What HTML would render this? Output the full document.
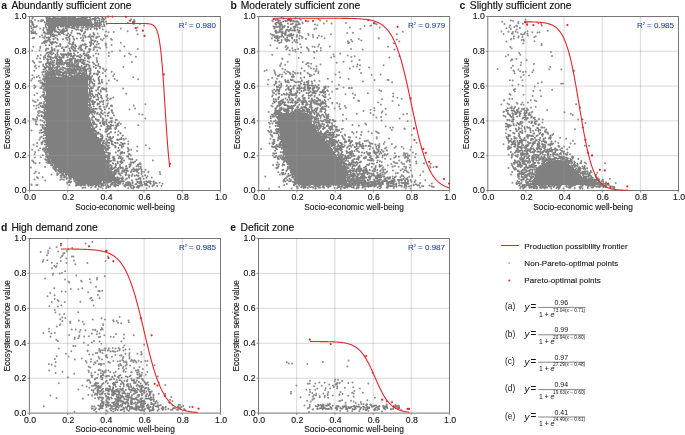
<!DOCTYPE html><html><head><meta charset="utf-8"><style>html,body{margin:0;padding:0;background:#fff;overflow:hidden}svg{display:block;will-change:transform}text{font-family:"Liberation Sans",sans-serif}</style></head><body><svg width="685" height="435" viewBox="0 0 685 435" font-family="Liberation Sans, sans-serif"><rect width="685" height="435" fill="#fff"/><path d="M49 19h40v1h-40zM48 20h41v1h-41zM48 21h41v1h-41zM48 22h41v1h-41zM48 23h41v1h-41zM48 24h41v1h-41zM48 25h40v1h-40zM48 26h9v1h-9zM48 27h7v1h-7zM48 28h6v1h-6zM48 29h6v1h-6zM48 30h6v1h-6zM48 31h5v1h-5zM48 77h38v1h-38zM47 78h40v1h-40zM46 79h42v1h-42zM46 80h42v1h-42zM46 81h42v1h-42zM46 82h42v1h-42zM46 83h42v1h-42zM46 84h42v1h-42zM46 85h42v1h-42zM46 86h42v1h-42zM46 87h42v1h-42zM46 88h42v1h-42zM46 89h42v1h-42zM46 90h42v1h-42zM46 91h42v1h-42zM46 92h42v1h-42zM46 93h42v1h-42zM46 94h42v1h-42zM46 95h42v1h-42zM46 96h42v1h-42zM46 97h42v1h-42zM46 98h42v1h-42zM46 99h42v1h-42zM46 100h42v1h-42zM46 101h42v1h-42zM46 102h42v1h-42zM46 103h42v1h-42zM46 104h42v1h-42zM46 105h42v1h-42zM46 106h42v1h-42zM46 107h42v1h-42zM46 108h42v1h-42zM46 109h42v1h-42zM46 110h42v1h-42zM46 111h42v1h-42zM46 112h42v1h-42zM46 113h42v1h-42zM278 113h30v1h-30zM46 114h42v1h-42zM278 114h31v1h-31zM46 115h42v1h-42zM278 115h31v1h-31zM46 116h42v1h-42zM278 116h31v1h-31zM46 117h42v1h-42zM278 117h31v1h-31zM46 118h42v1h-42zM278 118h32v1h-32zM46 119h42v1h-42zM278 119h32v1h-32zM46 120h43v1h-43zM278 120h33v1h-33zM46 121h43v1h-43zM278 121h33v1h-33zM46 122h43v1h-43zM279 122h33v1h-33zM46 123h44v1h-44zM279 123h33v1h-33zM46 124h44v1h-44zM279 124h34v1h-34zM46 125h45v1h-45zM279 125h35v1h-35zM46 126h45v1h-45zM279 126h35v1h-35zM46 127h45v1h-45zM279 127h36v1h-36zM46 128h46v1h-46zM279 128h36v1h-36zM46 129h46v1h-46zM279 129h37v1h-37zM46 130h47v1h-47zM279 130h38v1h-38zM46 131h48v1h-48zM280 131h37v1h-37zM46 132h48v1h-48zM280 132h38v1h-38zM46 133h49v1h-49zM280 133h39v1h-39zM46 134h50v1h-50zM280 134h40v1h-40zM46 135h50v1h-50zM280 135h41v1h-41zM46 136h51v1h-51zM280 136h42v1h-42zM46 137h52v1h-52zM280 137h43v1h-43zM46 138h53v1h-53zM280 138h44v1h-44zM47 139h52v1h-52zM280 139h44v1h-44zM47 140h53v1h-53zM281 140h44v1h-44zM47 141h53v1h-53zM281 141h45v1h-45zM47 142h54v1h-54zM281 142h46v1h-46zM47 143h54v1h-54zM282 143h46v1h-46zM47 144h55v1h-55zM282 144h47v1h-47zM47 145h55v1h-55zM282 145h48v1h-48zM48 146h55v1h-55zM282 146h48v1h-48zM48 147h55v1h-55zM283 147h48v1h-48zM48 148h56v1h-56zM283 148h49v1h-49zM48 149h56v1h-56zM283 149h50v1h-50zM48 150h56v1h-56zM284 150h49v1h-49zM48 151h57v1h-57zM284 151h50v1h-50zM49 152h56v1h-56zM284 152h51v1h-51zM49 153h56v1h-56zM284 153h51v1h-51zM49 154h56v1h-56zM285 154h51v1h-51zM49 155h56v1h-56zM285 155h52v1h-52zM49 156h57v1h-57zM285 156h52v1h-52zM50 157h56v1h-56zM286 157h52v1h-52zM50 158h56v1h-56zM286 158h52v1h-52zM51 159h55v1h-55zM287 159h52v1h-52zM51 160h56v1h-56zM287 160h52v1h-52zM555 160h6v1h-6zM52 161h55v1h-55zM287 161h53v1h-53zM548 161h15v1h-15zM52 162h55v1h-55zM288 162h52v1h-52zM546 162h19v1h-19zM53 163h54v1h-54zM288 163h53v1h-53zM545 163h22v1h-22zM54 164h54v1h-54zM289 164h52v1h-52zM544 164h25v1h-25zM54 165h54v1h-54zM289 165h53v1h-53zM543 165h27v1h-27zM55 166h53v1h-53zM290 166h52v1h-52zM542 166h29v1h-29zM56 167h52v1h-52zM290 167h52v1h-52zM541 167h31v1h-31zM58 168h51v1h-51zM290 168h53v1h-53zM540 168h33v1h-33zM59 169h50v1h-50zM291 169h52v1h-52zM540 169h34v1h-34zM60 170h50v1h-50zM291 170h53v1h-53zM539 170h36v1h-36zM61 171h49v1h-49zM292 171h52v1h-52zM538 171h38v1h-38zM63 172h48v1h-48zM292 172h52v1h-52zM537 172h40v1h-40zM65 173h47v1h-47zM293 173h52v1h-52zM536 173h42v1h-42zM66 174h47v1h-47zM293 174h52v1h-52zM536 174h43v1h-43zM68 175h46v1h-46zM294 175h52v1h-52zM535 175h46v1h-46zM70 176h45v1h-45zM294 176h52v1h-52zM535 176h47v1h-47zM71 177h45v1h-45zM295 177h51v1h-51zM534 177h50v1h-50zM73 178h43v1h-43zM295 178h51v1h-51zM534 178h52v1h-52zM75 179h42v1h-42zM295 179h51v1h-51zM533 179h55v1h-55zM76 180h42v1h-42zM296 180h51v1h-51zM533 180h58v1h-58zM78 181h24v1h-24zM115 181h2v1h-2zM296 181h51v1h-51zM532 181h61v1h-61zM80 182h20v1h-20zM297 182h50v1h-50zM532 182h63v1h-63zM82 183h17v1h-17zM297 183h49v1h-49zM531 183h66v1h-66zM88 184h10v1h-10zM298 184h48v1h-48zM531 184h67v1h-67z" fill="#808080"/><path d="M32.8 17.6h0M281.5 17.3h0M290.6 18.7h0M295.1 18.6h0M295.5 18.2h0M299.6 18.7h0M35.1 19.9h0M41.6 19.9h0M131.2 19.2h0M134.0 19.9h0M300.8 19.7h0M318.7 19.3h0M525.4 19.8h0M43.2 20.2h0M272.3 20.6h0M320.3 20.4h0M326.9 20.9h0M511.0 20.4h0M513.1 20.9h0M38.4 21.0h0M40.8 21.1h0M42.0 21.1h0M134.8 21.3h0M272.8 21.2h0M307.4 21.4h0M308.3 21.3h0M502.2 21.7h0M127.8 22.7h0M302.4 22.4h0M518.4 22.0h0M526.9 22.8h0M133.5 23.9h0M140.0 23.9h0M302.7 23.2h0M323.8 23.6h0M331.5 23.4h0M346.0 23.1h0M374.9 23.5h0M518.3 23.3h0M522.8 23.8h0M538.4 23.2h0M541.1 23.9h0M315.0 24.4h0M376.6 24.2h0M504.4 24.0h0M144.1 25.6h0M317.3 25.2h0M364.5 26.0h0M370.4 25.7h0M371.1 25.6h0M510.2 25.4h0M516.2 25.4h0M541.8 25.5h0M34.8 26.9h0M36.8 26.0h0M516.9 26.0h0M517.0 26.6h0M36.0 27.0h0M137.5 27.4h0M300.1 27.9h0M349.9 27.6h0M379.7 27.5h0M509.5 27.2h0M514.3 27.1h0M519.9 27.9h0M40.2 28.4h0M120.8 28.6h0M316.2 28.5h0M360.5 28.7h0M506.4 28.3h0M102.8 29.5h0M314.4 29.2h0M510.9 29.1h0M516.6 29.4h0M136.7 30.4h0M547.8 30.7h0M35.2 31.8h0M105.9 31.6h0M127.6 31.3h0M402.8 31.7h0M501.5 31.5h0M508.3 31.7h0M508.6 31.8h0M512.8 31.9h0M515.6 31.4h0M527.5 31.3h0M34.3 32.8h0M108.5 32.3h0M113.7 32.0h0M353.0 32.7h0M517.7 32.4h0M525.1 32.6h0M532.3 32.2h0M537.4 32.5h0M539.5 32.3h0M35.2 33.3h0M36.5 33.8h0M97.7 33.5h0M270.6 33.9h0M308.2 33.7h0M347.2 33.0h0M503.5 34.0h0M511.9 33.5h0M512.8 33.7h0M527.4 33.8h0M137.6 34.2h0M272.3 35.0h0M331.0 34.2h0M396.9 34.2h0M521.0 34.0h0M522.8 34.7h0M524.1 34.0h0M42.2 35.2h0M104.9 35.3h0M107.1 35.9h0M272.9 35.7h0M308.6 35.1h0M312.8 35.1h0M318.9 35.8h0M527.9 35.4h0M39.9 36.8h0M99.1 36.6h0M105.8 36.5h0M301.5 36.6h0M321.8 36.3h0M514.0 36.3h0M513.9 36.4h0M518.8 36.3h0M522.4 36.9h0M535.8 36.3h0M43.0 37.6h0M97.5 37.0h0M302.7 37.6h0M302.2 37.9h0M313.2 37.0h0M317.5 37.9h0M378.8 38.0h0M518.3 37.4h0M534.3 37.2h0M103.8 38.6h0M110.8 38.8h0M272.0 38.4h0M305.9 38.8h0M324.6 38.2h0M378.7 38.5h0M511.2 39.0h0M513.8 38.4h0M100.8 39.3h0M111.9 39.7h0M305.9 39.1h0M351.1 39.7h0M358.8 39.0h0M396.8 39.6h0M510.8 39.5h0M523.4 39.5h0M102.4 40.2h0M361.4 40.5h0M521.6 40.1h0M523.8 40.7h0M44.0 41.7h0M281.5 41.9h0M286.5 41.5h0M287.3 41.1h0M295.9 41.9h0M347.9 41.3h0M352.2 41.5h0M399.3 41.6h0M506.6 41.4h0M534.5 41.2h0M43.6 42.6h0M120.8 42.8h0M279.9 42.8h0M279.1 42.9h0M292.4 42.4h0M297.3 42.4h0M349.3 42.4h0M42.1 43.3h0M98.7 43.7h0M105.4 43.5h0M348.2 43.3h0M393.9 43.3h0M523.3 43.4h0M106.3 44.3h0M111.6 44.9h0M300.2 44.2h0M319.1 44.6h0M541.8 44.1h0M105.7 45.6h0M270.4 45.3h0M286.3 45.7h0M541.4 45.3h0M33.3 46.7h0M40.5 46.7h0M124.2 46.4h0M285.4 47.0h0M312.5 46.6h0M314.8 46.9h0M318.2 46.6h0M329.7 46.4h0M387.9 46.7h0M40.2 48.0h0M96.9 47.3h0M99.1 47.6h0M106.6 47.6h0M287.8 47.6h0M301.2 47.2h0M307.0 47.4h0M320.8 47.9h0M510.3 47.0h0M93.8 48.0h0M100.1 48.3h0M137.8 48.9h0M277.1 48.3h0M287.4 48.5h0M292.3 48.3h0M307.6 48.6h0M511.7 48.5h0M93.9 49.4h0M286.3 49.5h0M295.2 49.8h0M298.1 49.1h0M308.6 49.6h0M351.1 49.0h0M362.7 49.6h0M394.4 49.6h0M32.2 50.4h0M39.6 50.3h0M93.5 50.1h0M97.1 50.6h0M120.0 50.6h0M289.9 50.5h0M292.9 50.5h0M308.6 50.9h0M316.8 51.0h0M320.8 50.6h0M112.0 51.5h0M295.6 51.7h0M313.8 51.8h0M550.9 51.9h0M108.9 52.8h0M301.0 52.5h0M314.4 52.5h0M519.2 52.9h0M95.9 53.6h0M129.1 53.5h0M340.2 53.6h0M98.3 54.1h0M130.8 54.5h0M272.2 54.8h0M289.4 54.5h0M333.4 54.4h0M508.3 54.9h0M520.3 54.8h0M40.7 55.0h0M93.4 55.8h0M108.8 56.0h0M124.6 55.9h0M347.7 55.5h0M37.8 56.0h0M44.0 56.6h0M135.9 56.8h0M334.2 56.4h0M351.4 57.0h0M354.6 56.3h0M399.4 56.2h0M505.8 56.5h0M552.0 56.0h0M43.9 57.2h0M331.2 57.4h0M389.4 57.5h0M36.9 58.6h0M40.2 58.4h0M96.7 58.1h0M282.4 58.9h0M282.1 58.4h0M298.7 58.0h0M314.2 58.0h0M43.9 59.2h0M512.4 59.7h0M512.0 59.2h0M516.4 59.1h0M96.8 60.0h0M359.5 60.1h0M510.8 60.4h0M526.7 60.2h0M32.7 61.1h0M33.4 61.6h0M39.5 61.9h0M41.0 62.0h0M97.0 61.2h0M97.1 61.9h0M287.7 61.7h0M343.5 61.8h0M351.7 61.3h0M131.9 62.1h0M302.8 62.1h0M307.4 62.9h0M336.6 62.7h0M521.2 62.4h0M34.4 63.0h0M281.1 63.4h0M308.5 63.2h0M311.2 63.7h0M43.3 64.4h0M285.2 64.7h0M306.1 64.2h0M320.5 64.5h0M357.5 64.6h0M533.9 64.1h0M35.6 65.6h0M43.1 65.9h0M280.3 65.1h0M280.2 65.9h0M308.4 65.9h0M360.0 65.3h0M383.6 65.2h0M512.9 65.7h0M520.8 65.3h0M34.9 66.4h0M39.1 66.6h0M123.4 67.0h0M308.7 66.6h0M316.3 66.2h0M353.4 66.6h0M356.8 66.4h0M550.3 67.0h0M369.1 67.6h0M511.2 67.8h0M36.2 68.3h0M103.0 68.5h0M282.5 68.8h0M301.7 68.3h0M310.9 68.3h0M313.8 68.8h0M316.6 68.9h0M349.8 68.4h0M43.5 69.5h0M103.7 69.4h0M106.3 69.7h0M266.7 69.9h0M285.4 69.8h0M359.6 69.4h0M497.6 69.0h0M518.3 69.6h0M549.4 69.3h0M561.3 69.4h0M34.3 70.7h0M264.6 71.0h0M274.1 70.5h0M304.4 70.9h0M316.3 70.3h0M513.4 70.6h0M533.4 70.3h0M105.1 71.3h0M111.6 71.8h0M274.9 71.9h0M287.3 71.6h0M293.1 71.7h0M315.5 71.3h0M318.4 71.5h0M514.1 71.3h0M520.1 71.2h0M525.8 71.8h0M42.2 72.6h0M102.8 73.0h0M284.2 72.3h0M288.6 72.1h0M290.0 73.0h0M294.9 72.7h0M297.9 72.9h0M307.6 72.9h0M318.4 72.9h0M339.3 72.2h0M361.0 73.0h0M523.1 72.1h0M532.3 72.3h0M275.1 73.5h0M285.8 73.8h0M289.9 73.3h0M290.6 73.6h0M295.7 73.6h0M300.7 73.1h0M308.0 73.4h0M514.6 73.2h0M42.6 74.8h0M114.3 74.3h0M275.7 74.7h0M279.7 74.4h0M282.1 74.5h0M290.2 74.3h0M292.5 74.8h0M293.2 75.0h0M300.5 74.1h0M309.8 74.4h0M314.1 74.4h0M335.5 74.4h0M371.5 74.9h0M380.6 74.4h0M523.7 74.8h0M32.5 75.2h0M38.6 75.7h0M105.8 75.9h0M113.2 76.0h0M277.7 75.9h0M279.0 75.7h0M311.2 75.3h0M311.6 75.5h0M529.1 75.5h0M34.1 77.5h0M36.9 77.1h0M39.8 77.8h0M133.3 77.2h0M272.1 78.0h0M340.1 77.4h0M520.8 77.3h0M32.3 78.7h0M114.7 78.9h0M277.0 78.8h0M327.9 78.8h0M138.1 79.2h0M268.3 79.7h0M348.7 79.1h0M31.2 80.6h0M38.9 80.9h0M40.7 80.5h0M108.8 80.5h0M117.1 80.6h0M319.5 81.0h0M374.5 80.1h0M387.6 80.1h0M388.4 80.1h0M509.9 80.3h0M512.7 80.6h0M522.5 80.3h0M275.9 81.4h0M332.1 81.8h0M363.0 81.4h0M40.3 82.7h0M41.6 82.8h0M392.1 82.3h0M541.8 82.2h0M106.8 83.5h0M538.0 83.3h0M561.2 83.7h0M563.0 83.5h0M267.9 84.5h0M518.4 84.4h0M34.6 85.7h0M34.2 85.6h0M339.0 85.1h0M512.4 85.4h0M522.8 85.7h0M41.7 86.6h0M328.3 86.7h0M534.7 86.6h0M35.5 87.0h0M40.3 87.9h0M343.5 87.6h0M348.9 87.9h0M351.8 87.9h0M34.3 88.1h0M41.8 88.3h0M123.2 88.5h0M336.3 89.0h0M337.5 88.7h0M349.7 88.0h0M515.0 89.1h0M552.1 89.7h0M272.4 90.8h0M379.4 90.2h0M513.8 90.1h0M533.4 91.0h0M540.2 90.4h0M332.0 91.8h0M381.2 91.0h0M514.9 91.5h0M272.9 92.4h0M37.1 93.3h0M126.2 93.7h0M352.8 93.6h0M367.9 93.2h0M393.1 93.6h0M34.4 94.9h0M329.2 94.6h0M345.5 94.3h0M509.5 94.1h0M510.6 94.7h0M523.5 94.8h0M272.7 95.2h0M355.1 95.1h0M532.7 95.9h0M272.2 96.4h0M393.1 96.6h0M541.0 96.2h0M40.6 97.1h0M113.3 97.5h0M397.5 97.7h0M111.0 98.5h0M330.2 98.2h0M353.8 98.0h0M401.7 98.7h0M110.1 99.2h0M328.2 99.5h0M382.1 99.3h0M509.4 99.1h0M512.2 99.0h0M32.8 100.5h0M37.7 100.3h0M358.1 100.4h0M359.2 100.9h0M392.5 100.9h0M503.8 100.6h0M504.1 100.2h0M530.9 100.3h0M534.9 100.4h0M34.2 101.4h0M35.6 101.9h0M536.4 101.3h0M332.4 102.7h0M337.1 102.9h0M378.0 102.6h0M516.6 102.7h0M522.4 102.4h0M527.9 102.4h0M39.8 103.8h0M39.8 103.0h0M272.8 103.4h0M332.3 103.6h0M507.5 103.6h0M517.5 103.7h0M38.6 104.7h0M145.4 104.2h0M339.6 104.3h0M380.9 104.4h0M501.4 104.6h0M509.1 104.6h0M521.1 104.6h0M523.5 104.7h0M576.1 104.3h0M33.9 105.7h0M36.7 105.8h0M111.4 105.8h0M111.7 105.5h0M133.7 105.6h0M271.3 105.8h0M344.9 106.0h0M398.8 105.2h0M112.2 106.3h0M272.7 106.6h0M328.6 106.9h0M339.1 106.5h0M511.6 106.4h0M535.7 106.8h0M38.7 107.6h0M345.8 107.7h0M531.2 107.4h0M580.2 107.4h0M36.1 108.6h0M135.1 108.5h0M334.6 108.6h0M340.1 109.0h0M345.9 108.0h0M374.3 108.0h0M385.6 108.8h0M527.0 108.4h0M129.5 109.4h0M370.6 109.8h0M527.6 109.5h0M39.8 110.8h0M374.5 110.4h0M547.1 110.1h0M37.9 112.0h0M38.5 111.3h0M363.5 111.0h0M382.4 111.3h0M504.0 111.5h0M532.2 111.8h0M268.7 112.0h0M370.5 112.9h0M381.7 112.8h0M503.4 112.1h0M531.7 112.6h0M564.5 112.2h0M38.9 113.1h0M356.7 113.7h0M407.2 113.8h0M570.9 113.8h0M139.2 114.3h0M142.4 114.6h0M343.0 114.7h0M373.5 114.9h0M385.9 114.6h0M403.3 114.6h0M572.8 114.9h0M37.8 115.0h0M503.7 115.6h0M503.5 115.8h0M39.0 116.1h0M381.1 117.0h0M36.9 117.2h0M376.4 117.6h0M33.0 118.8h0M37.2 118.4h0M145.3 118.5h0M399.6 118.4h0M539.1 119.0h0M33.4 119.4h0M35.0 119.4h0M37.1 119.6h0M116.8 119.9h0M346.4 119.0h0M538.6 119.3h0M542.7 119.4h0M578.1 119.5h0M582.6 119.2h0M40.5 120.0h0M342.8 120.8h0M381.6 120.5h0M407.7 120.9h0M35.5 121.7h0M36.0 121.7h0M36.1 121.3h0M335.4 121.1h0M119.2 122.6h0M269.0 122.7h0M542.4 122.6h0M35.8 123.9h0M117.8 123.8h0M120.8 123.9h0M269.9 123.7h0M365.4 123.6h0M585.4 123.1h0M37.0 124.8h0M40.6 124.7h0M366.2 124.4h0M118.4 125.3h0M138.2 125.2h0M352.5 125.1h0M358.9 125.8h0M385.7 126.4h0M125.1 127.8h0M269.7 127.1h0M390.2 127.7h0M392.9 127.5h0M544.4 127.6h0M341.8 128.9h0M342.8 128.7h0M404.8 128.9h0M404.3 128.4h0M339.2 129.7h0M546.2 129.6h0M575.0 129.3h0M31.5 130.4h0M40.2 130.4h0M268.2 130.8h0M391.8 130.0h0M269.0 131.8h0M269.8 131.8h0M352.1 131.9h0M368.5 131.6h0M376.1 131.6h0M39.7 132.7h0M340.8 132.3h0M356.7 132.1h0M361.6 132.1h0M377.5 132.5h0M378.8 132.9h0M353.6 133.4h0M371.8 133.2h0M505.8 133.3h0M553.2 133.9h0M270.7 134.2h0M344.7 134.6h0M122.6 135.8h0M123.0 135.6h0M271.4 135.3h0M342.0 135.7h0M345.2 135.5h0M361.0 135.0h0M411.7 135.1h0M552.3 135.0h0M342.9 137.0h0M348.8 137.0h0M40.2 137.9h0M40.4 137.4h0M350.3 137.6h0M356.3 137.3h0M376.8 137.2h0M560.1 137.8h0M125.8 138.5h0M270.4 138.7h0M359.9 138.4h0M376.7 138.6h0M389.0 138.4h0M566.1 138.7h0M39.5 139.7h0M123.6 139.1h0M124.0 139.8h0M364.7 141.0h0M366.3 141.0h0M367.9 140.4h0M572.9 140.7h0M128.2 141.5h0M41.6 142.5h0M369.3 142.3h0M384.6 142.0h0M416.6 142.7h0M558.3 142.9h0M37.2 143.0h0M41.5 143.3h0M128.3 143.9h0M269.4 143.6h0M570.6 143.6h0M574.9 143.8h0M33.6 144.8h0M41.7 144.2h0M379.5 144.1h0M383.7 144.1h0M391.9 144.1h0M503.5 144.3h0M145.8 145.2h0M584.8 145.8h0M589.1 145.7h0M37.0 146.2h0M137.3 146.4h0M395.9 146.6h0M401.7 146.8h0M564.2 146.6h0M386.3 147.5h0M394.6 147.7h0M411.3 147.1h0M569.3 147.2h0M40.2 148.3h0M149.5 148.6h0M385.0 148.5h0M403.5 148.4h0M32.1 149.8h0M42.8 149.6h0M131.2 149.8h0M261.1 149.1h0M381.8 150.0h0M410.4 149.8h0M508.0 149.5h0M508.2 149.0h0M567.3 149.4h0M567.1 149.3h0M38.5 150.2h0M386.7 150.3h0M387.0 150.8h0M137.1 151.0h0M383.6 151.3h0M383.1 151.8h0M35.1 152.1h0M404.0 152.9h0M412.9 152.4h0M273.2 153.2h0M381.3 153.3h0M384.8 153.9h0M387.6 153.9h0M394.9 153.2h0M405.3 153.7h0M407.2 153.6h0M34.7 154.0h0M404.3 154.3h0M405.1 154.6h0M407.7 154.1h0M415.9 154.0h0M508.6 154.7h0M42.8 155.3h0M273.0 155.6h0M382.8 155.6h0M384.2 155.6h0M386.2 155.3h0M403.4 155.4h0M407.7 156.0h0M409.0 155.8h0M409.7 155.4h0M396.1 156.0h0M399.0 156.7h0M405.4 156.1h0M406.4 156.9h0M34.9 157.5h0M40.7 157.2h0M274.2 157.3h0M382.3 157.5h0M394.1 157.8h0M395.4 157.1h0M405.2 157.3h0M408.0 157.9h0M415.1 157.3h0M385.1 158.8h0M404.8 158.0h0M408.1 158.6h0M390.6 159.1h0M409.8 159.9h0M32.3 160.5h0M136.6 160.1h0M152.9 160.6h0M399.2 160.6h0M407.3 160.4h0M409.2 160.8h0M33.0 161.3h0M381.7 161.9h0M393.7 161.8h0M406.7 161.7h0M409.8 161.7h0M416.2 161.6h0M33.9 162.5h0M46.4 162.3h0M394.3 162.5h0M401.5 162.5h0M584.8 162.5h0M35.5 163.2h0M39.6 163.0h0M140.1 163.0h0M140.8 163.9h0M396.0 163.0h0M397.2 163.3h0M402.3 163.7h0M416.4 163.5h0M423.9 163.3h0M424.2 163.6h0M430.7 163.7h0M511.5 163.8h0M586.1 163.4h0M605.1 163.2h0M139.4 164.1h0M273.1 164.9h0M391.4 164.1h0M404.1 164.0h0M381.9 165.4h0M387.7 165.4h0M394.9 165.9h0M410.3 165.1h0M140.8 166.4h0M392.4 166.8h0M392.9 166.4h0M398.6 166.7h0M404.2 166.5h0M406.2 167.0h0M429.8 166.1h0M31.0 167.4h0M45.1 167.1h0M276.4 167.7h0M383.3 167.6h0M409.8 167.5h0M430.6 167.5h0M433.5 167.0h0M508.5 167.9h0M276.4 168.5h0M382.3 168.8h0M402.5 168.9h0M405.6 168.3h0M145.5 169.8h0M382.3 169.0h0M383.1 169.7h0M385.0 169.6h0M404.6 170.0h0M383.3 170.5h0M392.9 170.6h0M400.7 170.3h0M406.1 170.4h0M410.9 170.5h0M35.7 171.7h0M144.1 171.7h0M148.6 171.8h0M159.9 171.9h0M387.0 171.8h0M387.1 171.4h0M403.7 172.0h0M406.9 171.2h0M423.2 171.4h0M148.4 172.3h0M278.2 172.2h0M382.3 172.6h0M383.5 172.2h0M385.7 172.8h0M407.7 172.0h0M408.5 172.6h0M512.2 172.1h0M597.2 172.7h0M34.6 173.3h0M39.1 173.1h0M384.6 173.8h0M395.8 173.2h0M397.8 173.1h0M51.5 174.4h0M160.2 174.1h0M279.9 174.4h0M511.2 174.4h0M401.8 175.2h0M403.2 175.9h0M411.9 175.2h0M420.2 175.2h0M147.4 176.2h0M265.3 176.5h0M392.7 176.5h0M395.9 176.4h0M395.6 176.7h0M400.9 176.5h0M409.3 176.7h0M412.4 176.8h0M37.0 177.3h0M42.6 177.2h0M60.7 177.6h0M60.8 177.2h0M61.8 177.1h0M151.8 177.4h0M400.4 177.1h0M404.5 177.4h0M407.5 177.9h0M38.0 178.3h0M609.9 178.7h0M34.5 179.4h0M60.2 179.8h0M62.0 179.3h0M63.9 179.8h0M45.1 180.6h0M415.5 180.6h0M425.3 180.2h0M153.7 181.3h0M283.7 181.4h0M66.9 182.6h0M155.4 182.8h0M159.6 182.7h0M512.4 182.8h0M67.4 183.6h0M162.5 183.7h0M420.0 183.6h0M420.3 183.0h0M431.8 183.4h0M615.7 183.1h0M31.4 184.6h0M37.5 184.9h0M69.2 184.9h0M284.1 184.9h0M516.5 184.1h0M31.7 185.1h0M36.3 185.0h0M422.0 185.9h0M429.3 185.5h0M279.1 187.0h0M423.2 186.2h0M431.4 186.3h0M432.3 186.8h0M82.4 187.9h0M83.7 187.4h0M420.1 187.6h0M433.9 187.0h0M97.9 188.9h0M102.5 188.5h0M106.2 188.1h0M128.3 188.2h0M133.2 188.6h0M146.5 188.4h0M269.1 188.4h0M291.6 188.6h0M297.5 188.3h0M356.3 188.6h0M365.2 188.9h0M380.0 188.5h0M387.3 188.0h0M405.8 188.6h0M410.7 188.5h0M520.3 188.2h0M523.3 188.1h0M523.1 188.7h0M613.5 188.5h0M92.4 242.0h0M85.6 243.5h0M60.9 245.4h0M56.6 247.3h0M72.2 247.9h0M49.7 248.3h0M68.2 249.2h0M48.2 250.8h0M40.7 251.9h0M58.1 251.5h0M66.8 251.1h0M48.1 252.9h0M63.3 253.6h0M64.5 253.1h0M47.0 255.2h0M62.6 255.3h0M62.1 256.0h0M71.8 256.6h0M73.4 256.4h0M108.1 256.6h0M60.7 257.6h0M66.5 258.6h0M43.3 260.1h0M47.3 260.3h0M73.9 260.4h0M42.8 261.7h0M60.8 261.1h0M105.6 261.0h0M51.8 262.7h0M57.1 263.6h0M66.4 263.0h0M87.4 263.1h0M75.4 264.2h0M54.4 266.0h0M56.6 266.3h0M56.0 267.0h0M52.0 268.3h0M65.1 271.3h0M62.0 273.0h0M53.2 273.8h0M59.8 273.4h0M52.8 274.8h0M76.3 275.6h0M104.8 276.3h0M97.1 277.9h0M45.0 278.6h0M65.0 279.6h0M89.8 279.2h0M96.8 279.4h0M81.1 280.7h0M68.7 281.8h0M81.8 281.6h0M69.3 282.4h0M90.7 282.6h0M96.0 286.8h0M54.3 288.2h0M70.8 288.9h0M82.4 288.2h0M78.3 289.2h0M99.2 290.8h0M102.3 290.8h0M61.7 291.6h0M65.6 291.8h0M98.4 291.1h0M99.8 291.3h0M50.2 293.0h0M88.2 292.2h0M54.6 295.2h0M97.9 295.0h0M47.5 296.2h0M91.4 297.7h0M54.6 298.9h0M90.2 298.5h0M99.7 298.3h0M57.6 300.1h0M92.0 300.6h0M92.7 300.3h0M51.8 301.9h0M58.6 301.2h0M80.4 301.8h0M64.8 302.1h0M61.3 305.3h0M93.6 305.6h0M49.4 306.3h0M57.8 306.4h0M54.8 310.0h0M55.4 312.5h0M78.2 312.3h0M59.6 314.4h0M64.2 314.1h0M119.6 316.8h0M62.3 317.6h0M65.3 317.9h0M101.5 318.2h0M60.3 319.3h0M92.8 319.5h0M105.0 319.5h0M62.4 320.9h0M78.9 320.6h0M113.2 320.2h0M116.8 321.0h0M128.5 320.6h0M70.2 321.6h0M82.7 321.7h0M113.8 321.6h0M118.0 322.7h0M129.0 322.2h0M70.2 323.1h0M121.1 323.2h0M60.5 324.3h0M84.0 324.3h0M103.2 324.3h0M59.9 325.0h0M103.2 325.1h0M56.8 326.5h0M49.1 328.7h0M101.7 328.1h0M71.7 329.5h0M75.7 329.5h0M80.5 329.9h0M93.0 329.8h0M95.4 329.7h0M100.9 329.7h0M102.7 329.4h0M85.4 330.2h0M95.1 330.2h0M49.0 331.5h0M97.2 331.5h0M43.4 332.9h0M54.8 332.7h0M79.5 332.0h0M51.3 333.4h0M91.9 333.6h0M99.6 333.4h0M69.2 335.0h0M96.8 334.3h0M115.9 334.0h0M123.9 334.5h0M79.3 335.4h0M104.3 335.3h0M133.8 335.3h0M50.5 336.8h0M79.2 336.5h0M84.1 336.4h0M88.8 336.2h0M98.7 336.9h0M100.2 336.7h0M110.7 336.7h0M74.9 337.4h0M113.7 337.1h0M74.5 338.9h0M78.2 338.3h0M124.0 338.4h0M56.3 339.7h0M57.9 341.1h0M94.0 341.1h0M99.6 341.5h0M121.4 341.6h0M83.9 342.7h0M92.0 342.4h0M101.2 343.8h0M88.1 344.9h0M144.2 344.7h0M73.3 345.9h0M124.5 345.4h0M75.4 346.1h0M112.6 348.0h0M123.0 347.5h0M58.8 348.4h0M104.7 348.5h0M105.7 348.6h0M108.9 348.2h0M115.6 348.5h0M118.6 348.1h0M99.3 349.1h0M119.7 349.0h0M125.5 349.4h0M129.5 349.3h0M87.7 350.4h0M99.3 350.8h0M100.9 350.2h0M102.9 350.3h0M105.1 350.4h0M107.7 350.5h0M108.8 350.3h0M117.5 350.9h0M119.6 350.2h0M123.5 350.4h0M71.3 351.2h0M87.6 351.2h0M100.3 352.0h0M110.6 351.4h0M112.6 351.1h0M114.1 351.4h0M115.2 351.7h0M141.3 352.1h0M65.9 353.7h0M95.8 353.0h0M97.4 353.0h0M102.5 353.0h0M125.5 353.7h0M129.5 353.3h0M137.5 353.7h0M89.2 354.6h0M92.8 354.6h0M115.5 354.9h0M129.3 354.9h0M141.8 354.1h0M141.1 354.4h0M105.6 355.8h0M106.6 355.1h0M106.1 355.5h0M120.1 355.6h0M121.6 355.4h0M121.5 355.3h0M56.7 356.2h0M68.4 356.4h0M98.5 357.0h0M106.3 356.9h0M112.0 356.8h0M107.4 357.4h0M122.8 357.9h0M123.4 357.0h0M129.4 357.0h0M81.7 358.5h0M99.4 358.5h0M122.9 358.3h0M129.6 358.7h0M54.9 359.1h0M74.7 359.5h0M91.1 359.3h0M102.1 359.6h0M85.8 360.9h0M97.3 360.8h0M122.3 360.0h0M130.9 360.9h0M131.9 360.0h0M134.4 360.2h0M135.2 360.8h0M138.6 360.8h0M348.5 360.5h0M90.8 361.8h0M108.3 361.9h0M113.4 361.1h0M117.8 361.4h0M120.1 361.0h0M123.4 361.0h0M126.0 361.4h0M133.1 361.1h0M133.4 362.0h0M136.2 362.0h0M141.1 361.9h0M145.3 361.1h0M147.6 361.1h0M322.8 361.9h0M55.6 362.2h0M86.6 362.6h0M95.1 362.3h0M110.0 362.8h0M109.2 362.6h0M124.0 362.0h0M125.8 362.1h0M126.6 362.5h0M136.4 362.5h0M286.9 362.3h0M48.8 363.9h0M95.6 363.1h0M99.1 364.0h0M101.8 364.0h0M104.0 363.7h0M120.3 363.7h0M288.8 363.6h0M292.1 363.5h0M307.3 363.9h0M51.7 364.6h0M93.8 364.2h0M98.7 364.2h0M100.4 364.1h0M126.9 364.5h0M101.0 365.1h0M118.9 365.9h0M118.5 365.1h0M120.7 365.1h0M121.4 365.2h0M125.5 365.7h0M126.3 365.0h0M130.1 365.4h0M146.9 365.3h0M154.4 365.3h0M55.3 366.2h0M88.7 366.7h0M123.4 366.7h0M347.4 366.6h0M90.4 367.4h0M122.9 367.9h0M134.1 367.9h0M139.5 367.1h0M118.7 368.8h0M126.3 368.4h0M142.8 368.9h0M99.3 369.8h0M124.0 369.9h0M138.5 369.9h0M49.2 370.5h0M88.5 370.4h0M98.6 370.1h0M100.4 370.5h0M105.9 370.4h0M108.4 370.6h0M123.8 370.4h0M135.7 370.4h0M136.2 370.5h0M137.6 370.3h0M62.5 371.8h0M102.4 371.0h0M103.1 371.6h0M104.6 371.6h0M105.0 371.8h0M115.8 371.8h0M123.5 371.7h0M125.8 371.8h0M138.8 371.9h0M88.9 372.1h0M95.1 372.2h0M103.8 372.8h0M105.5 372.2h0M110.2 372.1h0M113.8 372.7h0M131.8 372.3h0M131.2 372.3h0M142.1 372.8h0M147.3 372.1h0M55.6 373.1h0M74.2 373.7h0M91.4 373.3h0M100.9 373.3h0M372.6 373.1h0M98.0 374.4h0M102.9 374.1h0M145.7 374.8h0M91.3 375.6h0M92.5 375.4h0M91.9 376.9h0M157.8 376.5h0M67.8 377.3h0M88.1 379.9h0M94.8 379.3h0M335.3 379.4h0M338.0 379.8h0M87.1 380.8h0M89.3 380.3h0M310.0 380.8h0M90.0 381.9h0M334.6 381.3h0M342.1 381.0h0M147.9 382.2h0M147.4 382.7h0M158.9 382.6h0M319.4 382.6h0M324.7 382.8h0M337.6 382.9h0M339.7 382.9h0M352.5 382.5h0M58.7 383.2h0M90.4 383.1h0M94.7 383.9h0M146.2 383.5h0M307.9 383.8h0M309.6 383.4h0M315.3 383.6h0M336.1 383.7h0M337.0 383.2h0M348.3 383.1h0M368.3 383.6h0M329.2 384.4h0M335.4 384.7h0M336.9 384.8h0M82.3 385.6h0M91.8 385.7h0M93.1 385.8h0M148.4 385.0h0M165.3 385.0h0M296.4 385.4h0M321.7 385.7h0M333.0 385.5h0M86.6 386.5h0M314.1 386.2h0M337.3 386.8h0M89.4 387.8h0M334.0 387.1h0M344.9 387.7h0M353.3 387.2h0M317.3 388.5h0M325.7 388.3h0M330.1 388.6h0M337.1 388.4h0M359.8 388.6h0M78.4 389.4h0M306.3 389.8h0M309.9 389.8h0M315.2 389.8h0M91.7 390.1h0M93.7 390.1h0M93.2 390.5h0M325.0 390.3h0M354.3 391.0h0M291.1 391.7h0M340.5 392.0h0M93.7 392.2h0M310.1 392.1h0M328.2 392.0h0M352.1 392.8h0M362.9 392.7h0M158.8 393.7h0M290.9 393.4h0M312.4 393.1h0M316.2 393.7h0M323.3 393.5h0M327.8 393.8h0M353.8 393.5h0M88.3 394.9h0M94.8 394.8h0M94.7 394.5h0M153.3 394.5h0M165.2 394.1h0M309.4 394.8h0M314.1 394.9h0M339.7 394.3h0M342.6 394.0h0M50.3 395.5h0M92.1 395.3h0M92.0 395.8h0M315.9 395.5h0M324.9 395.7h0M327.7 395.1h0M332.8 395.4h0M339.4 395.1h0M348.3 395.8h0M312.8 396.4h0M319.7 396.1h0M353.6 396.6h0M353.8 396.8h0M171.3 397.0h0M300.5 397.2h0M319.6 397.3h0M324.7 397.2h0M328.2 397.7h0M374.9 397.7h0M56.5 398.1h0M82.8 398.4h0M95.1 398.3h0M313.4 398.8h0M314.2 398.5h0M98.8 399.1h0M170.1 399.7h0M312.5 399.7h0M156.6 400.9h0M307.1 400.8h0M340.3 400.8h0M342.2 400.3h0M351.0 400.7h0M367.4 400.3h0M172.4 401.1h0M310.8 401.6h0M339.4 401.2h0M353.7 401.5h0M157.6 402.8h0M345.6 402.8h0M360.8 402.0h0M329.8 403.8h0M355.7 403.1h0M361.3 403.9h0M178.9 404.8h0M180.2 404.9h0M309.8 405.0h0M318.1 404.7h0M320.2 405.0h0M322.4 404.4h0M323.7 405.0h0M327.9 404.2h0M329.8 404.5h0M358.7 404.8h0M363.6 404.1h0M366.6 404.2h0M366.9 404.3h0M367.1 404.4h0M370.2 404.4h0M386.6 404.4h0M172.4 405.6h0M304.5 405.5h0M398.6 405.7h0M43.8 406.3h0M189.6 406.9h0M309.8 406.8h0M308.8 408.0h0M307.6 408.2h0M170.8 409.9h0M172.4 409.8h0M176.8 409.4h0M178.0 409.9h0M184.1 409.1h0M185.2 409.9h0M312.5 409.4h0M313.1 409.3h0M340.2 410.8h0M347.5 410.9h0M352.2 411.0h0M366.1 410.2h0M368.4 410.7h0M374.9 410.3h0M377.3 410.0h0M401.3 410.1h0M74.4 411.7h0M96.2 411.9h0M107.6 411.6h0M113.3 411.6h0M124.2 411.2h0M309.0 411.9h0M359.3 411.1h0M382.0 411.5h0" stroke="#8e8e8e" stroke-width="2.0" stroke-linecap="round" fill="none"/><path d="M46.2 17.4h0M46.2 17.8h0M47.8 17.9h0M49.4 18.0h0M53.2 17.6h0M53.3 17.1h0M58.1 17.1h0M62.0 17.9h0M63.7 17.5h0M64.8 17.6h0M65.6 17.9h0M68.7 17.7h0M69.9 17.8h0M73.8 17.6h0M74.0 17.4h0M74.8 17.1h0M75.1 17.5h0M81.6 17.1h0M82.3 17.5h0M83.1 17.5h0M83.0 17.1h0M84.9 17.5h0M84.6 17.3h0M84.6 18.0h0M87.1 17.3h0M89.5 17.3h0M95.5 17.0h0M98.0 17.7h0M102.3 17.6h0M105.6 17.0h0M32.3 18.6h0M46.7 18.4h0M48.0 18.4h0M50.7 18.3h0M51.4 18.9h0M51.1 18.9h0M52.2 18.9h0M53.4 18.9h0M54.3 18.9h0M54.8 19.0h0M54.6 18.1h0M55.7 18.0h0M55.3 18.8h0M56.1 19.0h0M56.7 18.8h0M57.7 18.7h0M57.8 18.6h0M58.5 18.9h0M60.0 18.2h0M60.0 19.0h0M60.4 18.6h0M61.6 18.6h0M61.1 18.2h0M62.0 18.4h0M63.6 18.1h0M64.5 18.3h0M66.0 18.4h0M66.3 18.1h0M67.5 18.5h0M68.9 18.9h0M71.0 18.5h0M71.1 18.3h0M72.2 18.1h0M73.2 18.7h0M74.0 18.8h0M74.7 18.9h0M75.0 18.3h0M76.2 18.9h0M77.3 18.6h0M78.8 18.3h0M79.7 18.8h0M80.9 18.2h0M81.4 18.1h0M81.5 18.0h0M82.2 18.5h0M84.7 18.2h0M84.2 18.2h0M85.3 18.3h0M85.7 18.8h0M86.6 18.4h0M90.2 18.0h0M94.0 18.7h0M94.6 18.4h0M96.1 18.6h0M99.3 18.8h0M103.1 18.4h0M105.4 18.6h0M283.5 18.6h0M47.6 19.9h0M48.4 19.2h0M49.0 19.2h0M90.0 19.7h0M90.2 19.7h0M90.3 19.2h0M90.5 19.3h0M92.9 19.1h0M92.5 19.5h0M93.2 19.1h0M95.4 19.7h0M101.7 19.2h0M103.9 19.7h0M277.3 19.8h0M287.5 19.7h0M291.5 19.4h0M31.1 20.7h0M46.8 21.0h0M47.9 20.9h0M47.2 20.6h0M47.0 20.1h0M89.1 20.0h0M94.9 20.3h0M97.4 20.8h0M99.5 20.5h0M103.4 20.9h0M275.7 20.0h0M278.6 20.9h0M278.6 20.3h0M279.8 20.4h0M285.2 20.7h0M287.2 20.8h0M288.4 20.1h0M288.4 20.2h0M291.3 20.5h0M293.4 20.7h0M31.2 21.9h0M32.5 21.9h0M89.0 21.9h0M90.5 21.9h0M90.8 21.2h0M95.0 21.0h0M101.6 21.5h0M102.7 21.3h0M106.1 21.7h0M283.1 21.6h0M285.8 21.3h0M290.7 21.2h0M293.3 21.5h0M295.1 21.4h0M296.2 21.8h0M297.2 21.2h0M44.6 22.2h0M46.8 22.2h0M46.5 22.9h0M89.7 22.6h0M89.2 22.4h0M90.5 22.0h0M91.3 22.6h0M95.4 22.2h0M97.3 22.5h0M99.7 22.3h0M100.3 22.9h0M100.7 23.0h0M103.7 22.5h0M276.9 22.4h0M278.1 22.4h0M280.0 22.9h0M281.0 22.6h0M298.5 22.4h0M32.7 23.5h0M32.3 24.0h0M46.4 23.1h0M47.3 23.7h0M90.4 23.7h0M90.9 23.7h0M94.8 23.2h0M95.5 23.8h0M98.1 23.2h0M106.9 23.8h0M275.3 23.2h0M278.9 23.3h0M279.0 23.6h0M279.2 23.6h0M287.9 23.4h0M292.7 23.8h0M292.4 23.8h0M299.0 23.7h0M33.4 24.7h0M45.7 24.4h0M47.9 24.9h0M89.1 24.8h0M90.6 24.2h0M91.2 24.9h0M92.6 24.2h0M93.1 24.6h0M95.5 24.6h0M96.7 24.0h0M97.1 24.6h0M99.5 24.0h0M101.0 24.5h0M100.2 24.7h0M104.1 24.6h0M275.5 24.2h0M276.2 24.7h0M279.8 24.5h0M280.7 24.3h0M281.1 24.4h0M281.6 24.3h0M291.0 24.2h0M296.0 24.2h0M297.0 24.9h0M297.6 24.8h0M299.8 24.3h0M33.3 25.6h0M88.2 25.0h0M89.0 25.2h0M89.5 25.6h0M89.6 25.3h0M91.8 25.1h0M92.2 25.6h0M94.9 25.3h0M95.2 25.1h0M95.9 25.8h0M97.7 25.8h0M99.2 25.7h0M104.3 26.0h0M280.2 26.0h0M282.5 25.9h0M296.6 25.5h0M31.0 26.3h0M45.7 26.1h0M57.9 26.8h0M60.5 26.4h0M61.4 26.3h0M61.5 26.5h0M62.1 26.1h0M63.3 26.3h0M65.5 26.8h0M67.2 26.3h0M69.1 26.5h0M72.5 26.9h0M73.5 26.2h0M74.0 26.9h0M74.3 26.9h0M76.3 26.6h0M76.1 26.1h0M77.7 26.2h0M78.7 26.3h0M83.3 26.1h0M86.0 26.9h0M86.1 26.6h0M86.8 26.5h0M88.4 26.9h0M90.5 26.5h0M92.5 26.4h0M94.2 27.0h0M96.2 26.7h0M98.5 26.1h0M99.5 26.2h0M99.8 26.0h0M102.3 26.4h0M273.4 26.5h0M276.0 26.9h0M278.6 26.4h0M282.4 26.9h0M283.3 26.8h0M284.8 26.1h0M294.9 26.5h0M295.3 27.0h0M295.5 26.0h0M33.6 27.6h0M46.3 27.6h0M57.9 27.2h0M65.7 27.9h0M67.4 27.5h0M69.0 27.5h0M71.2 27.4h0M71.2 27.8h0M71.2 27.2h0M72.6 27.7h0M73.0 27.9h0M74.0 27.8h0M74.2 27.9h0M77.3 27.8h0M78.4 27.3h0M81.4 27.3h0M82.0 27.8h0M83.5 27.5h0M83.2 27.7h0M88.6 27.6h0M91.7 27.3h0M99.1 27.0h0M274.3 27.1h0M277.1 27.2h0M280.0 27.8h0M284.0 27.1h0M287.9 27.0h0M288.3 27.1h0M293.6 27.0h0M297.7 27.5h0M31.5 28.3h0M43.7 28.0h0M55.0 28.6h0M55.4 28.1h0M63.5 28.4h0M66.3 28.4h0M74.3 28.5h0M87.6 28.5h0M90.7 29.0h0M94.7 28.7h0M96.8 28.5h0M99.9 28.1h0M274.4 28.5h0M282.3 28.7h0M282.5 28.0h0M290.9 28.2h0M294.4 28.8h0M47.1 29.2h0M54.2 29.6h0M58.2 29.1h0M59.6 29.8h0M62.4 29.9h0M63.9 29.9h0M66.9 29.0h0M66.6 29.8h0M76.0 29.4h0M76.3 29.8h0M78.2 29.6h0M81.8 30.0h0M85.7 29.4h0M87.6 29.5h0M96.9 29.5h0M280.2 29.7h0M281.6 29.4h0M281.7 29.0h0M281.9 29.4h0M287.2 29.5h0M287.9 29.9h0M289.8 29.9h0M294.4 29.8h0M297.8 29.9h0M32.9 30.0h0M43.3 30.0h0M47.3 30.6h0M54.2 30.9h0M55.3 30.9h0M55.7 30.5h0M61.6 30.7h0M61.6 30.5h0M63.9 30.6h0M64.3 30.8h0M65.7 31.0h0M66.7 30.0h0M67.0 30.5h0M72.1 30.8h0M80.5 30.1h0M81.4 30.8h0M82.2 30.5h0M275.6 30.5h0M279.5 30.3h0M286.3 30.1h0M290.7 30.1h0M292.5 30.6h0M294.2 30.5h0M295.2 30.4h0M299.6 30.8h0M31.3 31.3h0M44.5 32.0h0M54.8 31.7h0M54.3 31.3h0M57.0 31.8h0M60.5 31.9h0M61.9 31.1h0M63.8 31.8h0M63.2 31.8h0M81.7 31.2h0M85.1 31.7h0M276.0 32.0h0M275.4 31.3h0M276.4 31.1h0M280.1 31.6h0M282.6 31.7h0M285.6 31.6h0M286.0 32.0h0M288.7 31.3h0M31.5 32.4h0M33.2 32.3h0M43.9 32.5h0M47.6 32.6h0M48.0 32.8h0M47.7 32.4h0M48.3 32.8h0M49.2 32.5h0M49.4 32.2h0M50.2 32.3h0M50.4 32.6h0M51.8 32.2h0M52.0 32.4h0M57.7 32.0h0M57.2 32.1h0M58.7 32.6h0M59.8 32.4h0M71.4 32.7h0M84.7 32.8h0M276.1 33.0h0M277.7 32.4h0M279.3 32.1h0M281.8 32.9h0M281.3 32.2h0M298.5 32.0h0M299.5 32.8h0M31.8 33.3h0M33.3 33.2h0M45.3 33.7h0M45.4 33.6h0M47.1 33.8h0M48.9 34.0h0M50.7 33.6h0M50.5 33.8h0M50.1 33.5h0M51.3 33.1h0M51.5 33.4h0M59.4 33.7h0M62.0 33.1h0M63.0 33.2h0M68.0 33.4h0M77.4 33.5h0M79.1 33.5h0M83.7 33.7h0M93.4 33.0h0M282.6 33.1h0M284.5 33.2h0M291.3 33.8h0M52.8 34.9h0M53.4 34.5h0M53.2 34.6h0M54.1 35.0h0M58.8 34.3h0M59.9 34.6h0M63.9 34.2h0M69.9 35.0h0M70.6 34.9h0M80.3 34.2h0M90.0 34.8h0M94.4 34.7h0M94.0 34.2h0M274.0 34.9h0M281.8 34.4h0M285.8 34.1h0M289.6 34.6h0M291.2 34.1h0M293.5 34.6h0M293.5 34.5h0M50.9 35.3h0M55.0 35.2h0M56.9 35.5h0M66.4 35.2h0M67.3 35.0h0M82.6 35.8h0M84.8 35.7h0M276.2 35.9h0M282.1 35.6h0M285.1 35.0h0M287.9 35.5h0M287.4 35.8h0M288.2 35.2h0M289.1 35.6h0M291.4 35.7h0M292.6 35.5h0M297.0 35.2h0M299.6 35.8h0M45.1 36.3h0M50.6 36.6h0M52.9 36.3h0M54.0 36.2h0M69.1 36.7h0M72.8 36.6h0M88.9 36.5h0M88.3 36.7h0M92.9 36.6h0M92.1 36.3h0M93.4 36.8h0M277.6 36.1h0M279.8 36.8h0M281.3 36.6h0M283.5 36.9h0M289.7 36.1h0M296.7 36.8h0M34.0 37.8h0M44.5 37.9h0M46.8 37.8h0M48.2 37.5h0M48.3 37.5h0M49.4 37.9h0M55.6 37.8h0M68.3 37.3h0M80.8 37.9h0M83.4 37.9h0M85.8 37.2h0M90.5 37.3h0M96.4 37.2h0M96.3 37.9h0M274.7 37.1h0M277.9 37.8h0M287.2 37.7h0M292.1 37.8h0M32.6 38.2h0M48.9 38.2h0M53.8 38.9h0M66.0 38.3h0M66.2 38.1h0M73.7 38.5h0M77.0 38.6h0M91.1 38.9h0M276.1 38.1h0M277.6 38.4h0M277.6 38.3h0M278.7 38.1h0M292.2 38.4h0M299.3 38.6h0M49.0 39.3h0M50.0 39.7h0M53.3 39.2h0M57.5 39.1h0M57.7 39.8h0M63.1 39.3h0M67.3 39.8h0M69.6 39.1h0M74.1 39.7h0M281.7 39.9h0M285.1 39.0h0M285.1 39.4h0M287.0 39.8h0M296.9 39.9h0M45.4 40.7h0M45.4 40.6h0M47.9 40.7h0M47.4 40.5h0M82.1 40.5h0M82.8 40.1h0M83.5 40.8h0M91.3 40.8h0M92.9 40.2h0M95.4 40.7h0M275.0 40.5h0M277.8 40.1h0M278.5 40.5h0M285.7 40.1h0M288.3 40.0h0M289.4 40.7h0M294.3 40.8h0M294.5 40.1h0M44.7 41.5h0M49.9 41.5h0M52.2 42.0h0M55.3 42.0h0M69.6 41.1h0M94.4 41.7h0M97.4 41.7h0M277.3 41.0h0M44.5 42.9h0M44.7 42.1h0M46.4 42.3h0M53.3 42.3h0M53.5 42.8h0M53.2 42.6h0M56.8 42.9h0M73.4 42.2h0M73.0 42.4h0M89.9 42.2h0M91.5 42.8h0M50.7 43.3h0M51.2 43.0h0M51.9 43.0h0M60.2 43.9h0M69.1 43.0h0M69.9 43.7h0M72.6 43.7h0M51.9 44.6h0M60.5 44.5h0M60.2 44.6h0M71.8 44.7h0M72.5 44.8h0M73.5 44.0h0M82.4 44.4h0M84.3 44.9h0M84.7 44.3h0M85.6 44.7h0M90.6 44.0h0M91.1 44.9h0M93.2 44.1h0M96.7 44.6h0M45.8 45.3h0M49.3 45.2h0M75.3 45.2h0M80.4 45.4h0M56.2 46.4h0M58.3 46.1h0M60.3 46.1h0M66.2 46.9h0M67.8 46.2h0M71.6 46.9h0M73.4 46.4h0M76.0 46.5h0M81.4 46.0h0M86.8 46.8h0M90.1 46.1h0M94.7 46.3h0M51.7 47.4h0M62.6 47.3h0M65.5 47.3h0M71.4 47.5h0M73.9 47.5h0M79.4 47.2h0M80.6 47.7h0M85.8 47.1h0M95.4 47.3h0M46.7 48.5h0M48.3 48.7h0M52.0 48.9h0M54.5 48.9h0M62.0 48.3h0M69.5 48.6h0M72.0 48.5h0M75.2 48.4h0M78.6 48.8h0M81.3 48.4h0M85.5 48.4h0M45.9 49.5h0M52.5 49.8h0M63.9 49.6h0M82.1 49.9h0M89.3 49.6h0M89.2 49.1h0M90.4 49.3h0M45.9 50.5h0M52.0 50.3h0M54.6 50.6h0M57.7 50.3h0M57.9 50.7h0M64.2 50.4h0M69.9 50.2h0M73.4 50.1h0M74.2 50.7h0M74.7 50.2h0M80.6 50.1h0M89.6 50.9h0M89.5 50.5h0M50.6 51.3h0M51.8 51.7h0M57.8 51.5h0M63.8 51.0h0M70.3 51.4h0M75.8 51.0h0M83.9 51.3h0M89.3 51.8h0M47.5 52.7h0M48.9 52.6h0M49.1 52.5h0M50.8 52.5h0M77.8 52.6h0M87.8 52.4h0M46.4 53.6h0M50.3 53.2h0M53.5 53.3h0M57.2 53.1h0M61.0 53.9h0M67.4 53.7h0M68.5 53.3h0M70.0 53.9h0M70.1 54.0h0M71.1 53.7h0M74.0 53.3h0M84.4 53.3h0M52.0 54.3h0M51.5 54.6h0M55.5 54.7h0M57.8 54.8h0M61.9 54.9h0M63.2 54.3h0M65.0 54.3h0M66.1 54.7h0M68.7 54.3h0M70.4 54.5h0M70.1 54.6h0M75.0 55.0h0M80.1 54.8h0M83.4 54.0h0M86.4 54.3h0M88.5 54.9h0M45.3 55.5h0M48.6 55.1h0M63.5 55.9h0M64.0 55.4h0M66.3 55.3h0M68.6 55.6h0M71.6 55.8h0M73.8 55.9h0M74.2 55.7h0M74.1 55.6h0M81.5 55.9h0M85.0 55.4h0M86.9 55.7h0M47.7 56.3h0M48.8 56.7h0M48.5 56.0h0M49.9 56.8h0M50.4 56.8h0M56.0 56.6h0M56.8 56.7h0M56.8 56.6h0M59.2 56.6h0M59.7 56.9h0M59.5 56.9h0M62.5 57.0h0M70.9 56.0h0M72.5 56.7h0M73.0 56.5h0M76.9 56.2h0M78.2 56.1h0M79.0 56.7h0M89.2 56.5h0M45.3 57.7h0M50.5 57.7h0M51.1 57.2h0M54.6 57.2h0M59.0 57.1h0M61.1 57.9h0M63.1 57.6h0M63.7 57.5h0M67.4 57.3h0M80.4 57.5h0M84.7 58.0h0M87.8 57.1h0M90.3 57.2h0M47.5 58.7h0M52.9 58.1h0M56.5 58.1h0M56.0 58.3h0M57.1 58.5h0M60.4 58.7h0M70.3 58.5h0M72.5 58.7h0M73.9 58.2h0M88.2 58.5h0M88.4 58.2h0M89.0 58.7h0M47.1 59.6h0M48.3 59.8h0M50.2 59.3h0M51.3 59.6h0M57.2 59.4h0M58.3 59.9h0M59.8 59.2h0M61.0 59.1h0M69.2 59.5h0M71.3 59.1h0M75.1 59.1h0M78.0 59.8h0M77.5 59.7h0M80.1 59.8h0M81.3 59.6h0M83.2 59.7h0M47.9 60.9h0M54.3 60.6h0M59.9 60.7h0M59.1 60.4h0M61.7 60.5h0M67.3 60.3h0M69.4 60.5h0M70.7 60.3h0M71.8 60.6h0M74.9 60.6h0M75.2 60.7h0M76.0 60.8h0M80.5 61.0h0M83.2 60.0h0M85.0 60.4h0M47.5 61.7h0M52.5 61.8h0M52.4 61.2h0M56.7 61.1h0M61.5 61.6h0M62.4 62.0h0M62.0 61.4h0M62.0 61.1h0M66.0 61.1h0M74.9 61.9h0M76.5 61.4h0M77.3 61.4h0M78.7 61.6h0M79.6 61.2h0M80.8 61.7h0M82.9 61.9h0M83.2 61.2h0M87.6 61.2h0M48.2 62.8h0M50.2 62.1h0M52.1 62.3h0M52.9 62.8h0M53.9 62.7h0M56.6 62.7h0M57.0 62.3h0M58.8 62.2h0M58.6 62.5h0M59.3 62.5h0M59.3 62.7h0M60.6 62.3h0M62.7 62.7h0M64.7 62.7h0M67.5 62.7h0M69.1 62.6h0M69.9 62.9h0M70.5 62.3h0M72.0 62.5h0M71.8 62.7h0M75.0 62.7h0M75.2 62.8h0M75.9 62.8h0M76.2 62.3h0M89.4 62.2h0M92.9 62.5h0M45.8 63.7h0M47.2 63.1h0M48.8 64.0h0M49.3 63.6h0M49.6 63.1h0M51.0 63.7h0M57.0 63.2h0M56.5 63.5h0M58.6 63.2h0M60.0 63.2h0M61.0 63.4h0M61.2 63.8h0M65.0 63.0h0M66.0 63.1h0M66.2 63.5h0M67.0 63.6h0M68.5 63.5h0M69.0 63.7h0M78.3 63.5h0M82.0 63.1h0M84.0 63.3h0M84.6 63.1h0M98.5 63.9h0M46.0 64.8h0M52.5 64.9h0M56.5 64.1h0M57.7 64.5h0M58.0 64.2h0M60.0 64.3h0M61.0 64.5h0M61.8 64.6h0M63.2 64.2h0M63.8 64.5h0M66.7 64.0h0M67.4 64.2h0M69.5 64.0h0M71.5 64.7h0M73.0 64.3h0M74.6 64.3h0M76.9 64.6h0M77.1 64.7h0M83.6 64.1h0M84.4 64.6h0M86.4 64.6h0M88.0 64.6h0M94.1 64.1h0M49.4 65.0h0M50.2 65.1h0M50.1 65.2h0M53.4 65.6h0M54.4 65.3h0M57.9 65.8h0M57.7 65.6h0M68.6 65.6h0M70.0 65.2h0M69.2 65.5h0M70.1 65.3h0M71.8 65.0h0M72.7 65.3h0M72.5 65.6h0M74.1 65.8h0M75.5 65.9h0M77.9 65.1h0M77.5 65.0h0M78.1 66.0h0M89.5 65.5h0M95.8 65.3h0M98.1 65.8h0M46.9 66.1h0M52.8 66.9h0M57.3 66.7h0M59.0 66.6h0M59.4 66.5h0M67.0 66.3h0M67.9 66.6h0M68.9 66.1h0M71.6 66.1h0M72.7 66.1h0M72.3 66.9h0M74.8 66.5h0M75.8 66.5h0M76.8 66.3h0M77.0 66.4h0M79.7 66.9h0M81.7 66.1h0M85.2 66.8h0M86.4 66.3h0M89.3 66.8h0M93.7 66.8h0M99.8 66.7h0M44.4 67.1h0M46.4 67.3h0M48.2 67.0h0M49.1 67.3h0M50.6 67.0h0M52.1 67.9h0M52.9 67.5h0M54.6 68.0h0M56.1 67.3h0M57.5 67.9h0M62.7 67.4h0M62.3 67.2h0M63.4 67.7h0M69.9 67.0h0M75.9 67.1h0M77.0 67.9h0M76.6 67.3h0M79.4 67.5h0M80.7 67.9h0M84.1 67.3h0M85.4 67.1h0M45.6 68.3h0M49.2 68.6h0M50.7 68.7h0M50.2 68.9h0M51.2 69.0h0M52.1 68.4h0M52.2 68.5h0M54.6 68.1h0M60.3 68.4h0M60.3 68.9h0M62.9 68.1h0M64.8 68.3h0M65.9 68.7h0M67.9 69.0h0M68.8 68.9h0M70.5 68.2h0M73.4 68.4h0M74.1 68.1h0M78.3 68.2h0M80.7 68.8h0M82.4 68.1h0M83.3 68.8h0M84.4 68.7h0M89.2 68.6h0M90.5 68.4h0M95.9 68.1h0M100.0 68.1h0M44.6 69.4h0M48.8 69.4h0M49.8 70.0h0M51.9 69.5h0M56.9 69.7h0M57.1 69.8h0M57.1 69.0h0M59.2 69.9h0M60.4 69.6h0M61.2 69.2h0M66.7 69.5h0M68.9 69.3h0M69.3 69.2h0M71.1 69.1h0M72.3 69.7h0M73.2 69.9h0M73.9 69.6h0M75.0 69.3h0M76.6 69.2h0M78.8 69.4h0M78.3 69.6h0M78.6 69.7h0M79.3 69.8h0M83.0 69.1h0M83.4 69.2h0M84.8 69.0h0M85.9 69.5h0M86.1 69.9h0M87.5 69.3h0M46.4 70.4h0M50.4 71.0h0M50.2 70.9h0M53.4 70.0h0M55.8 70.1h0M55.4 70.7h0M55.9 70.8h0M63.0 70.1h0M67.6 70.5h0M68.8 70.1h0M69.0 70.7h0M69.9 70.6h0M70.9 70.1h0M70.2 70.6h0M71.5 70.1h0M73.9 71.0h0M76.0 70.3h0M75.1 70.3h0M76.5 70.3h0M76.5 70.4h0M80.4 70.3h0M80.9 70.3h0M81.6 70.9h0M81.9 71.0h0M83.8 70.0h0M83.8 70.5h0M84.0 70.2h0M84.9 70.4h0M90.7 70.3h0M97.8 70.9h0M43.3 71.7h0M47.8 71.6h0M47.7 71.9h0M50.3 71.0h0M51.9 71.8h0M52.3 71.6h0M53.3 71.6h0M53.8 71.3h0M53.7 71.1h0M54.4 71.1h0M54.4 71.8h0M56.6 71.0h0M58.1 71.4h0M59.8 71.8h0M59.6 72.0h0M60.7 71.7h0M64.3 72.0h0M64.8 71.6h0M65.5 71.5h0M65.6 71.8h0M67.4 71.7h0M71.9 71.2h0M72.4 71.7h0M73.0 72.0h0M74.1 71.4h0M75.2 71.4h0M75.6 71.4h0M76.2 71.2h0M79.5 71.6h0M84.5 71.7h0M86.3 71.4h0M89.4 71.2h0M45.2 72.1h0M47.8 72.2h0M47.9 72.3h0M47.9 72.6h0M49.6 72.3h0M50.2 72.1h0M52.5 72.2h0M52.7 72.6h0M53.1 72.2h0M53.9 72.7h0M54.5 72.8h0M56.6 72.6h0M57.6 72.8h0M60.9 72.1h0M62.4 72.4h0M64.8 72.1h0M64.8 73.0h0M64.1 72.4h0M64.7 72.6h0M67.9 72.4h0M67.9 72.3h0M69.9 72.5h0M70.9 72.5h0M71.4 72.6h0M72.5 72.8h0M72.2 72.7h0M72.7 72.4h0M74.7 72.3h0M76.7 72.3h0M79.1 72.6h0M79.1 72.4h0M84.2 72.8h0M90.5 72.3h0M98.2 72.3h0M99.4 72.0h0M46.5 73.7h0M46.9 73.1h0M48.0 73.7h0M48.6 73.3h0M48.1 73.2h0M48.2 73.1h0M49.2 73.5h0M50.8 73.3h0M51.5 73.5h0M51.2 73.3h0M53.2 73.1h0M55.7 73.2h0M57.1 73.7h0M57.5 73.5h0M57.8 73.5h0M58.3 73.9h0M58.3 73.6h0M58.2 73.7h0M58.1 73.9h0M62.6 73.3h0M63.3 74.0h0M66.5 73.1h0M68.4 73.4h0M69.1 73.0h0M69.6 73.4h0M72.5 73.3h0M74.0 73.5h0M73.8 73.3h0M73.2 73.5h0M74.8 74.0h0M74.9 73.8h0M77.2 73.8h0M78.2 73.7h0M80.6 73.1h0M81.9 73.8h0M82.9 73.9h0M82.6 73.1h0M84.1 73.4h0M84.8 73.4h0M85.4 73.4h0M86.3 73.4h0M86.0 73.6h0M89.9 73.7h0M90.4 73.8h0M94.0 74.0h0M94.3 73.6h0M96.3 73.9h0M98.0 73.9h0M45.4 74.2h0M46.8 74.7h0M47.1 74.8h0M47.5 74.4h0M48.5 74.8h0M50.7 74.2h0M50.9 74.3h0M52.9 74.6h0M52.0 74.7h0M54.8 74.2h0M54.4 74.4h0M56.9 74.6h0M56.2 74.2h0M57.3 74.3h0M57.3 74.8h0M60.0 74.1h0M62.2 74.8h0M63.2 74.4h0M66.1 74.7h0M70.8 74.3h0M76.9 74.3h0M77.7 74.5h0M77.2 74.8h0M79.0 74.1h0M83.6 74.3h0M84.6 74.1h0M89.5 74.8h0M97.3 74.8h0M46.3 75.5h0M47.0 75.6h0M47.5 75.6h0M48.2 75.1h0M50.2 75.5h0M50.2 75.2h0M50.4 75.2h0M50.9 75.6h0M51.1 75.7h0M51.1 75.9h0M51.1 75.2h0M53.3 75.6h0M54.8 75.6h0M58.9 75.8h0M58.6 75.0h0M60.4 75.6h0M61.3 75.8h0M62.6 75.0h0M63.8 75.1h0M69.5 75.0h0M70.1 75.1h0M71.9 76.0h0M71.9 75.7h0M74.2 75.9h0M75.6 75.5h0M76.0 75.7h0M77.1 75.6h0M78.4 75.2h0M79.8 75.2h0M81.5 75.3h0M82.1 75.4h0M82.1 75.4h0M85.8 75.8h0M85.0 75.7h0M85.3 75.5h0M87.1 75.3h0M89.1 75.9h0M44.0 76.2h0M44.7 76.5h0M45.3 76.4h0M45.6 76.9h0M45.7 77.0h0M46.8 76.3h0M46.2 76.6h0M46.5 76.0h0M48.2 76.6h0M50.5 76.4h0M50.7 76.1h0M50.3 76.2h0M51.9 76.2h0M54.2 76.8h0M55.3 76.6h0M55.2 76.8h0M55.5 76.7h0M63.7 76.4h0M63.1 76.5h0M64.1 76.6h0M65.0 76.3h0M65.1 76.1h0M65.5 76.6h0M67.7 76.7h0M67.1 76.5h0M68.5 76.6h0M71.2 76.5h0M71.1 76.2h0M71.6 76.8h0M73.0 76.7h0M74.9 76.9h0M75.8 76.7h0M76.7 76.5h0M77.0 76.8h0M77.2 76.8h0M79.2 76.3h0M79.4 76.0h0M79.5 76.4h0M79.4 76.3h0M80.6 76.1h0M80.9 76.1h0M81.3 76.7h0M82.5 76.6h0M83.5 76.4h0M83.1 76.6h0M84.0 76.9h0M86.9 77.0h0M86.2 76.1h0M86.3 76.3h0M87.5 76.1h0M87.4 76.7h0M92.2 76.1h0M99.5 76.6h0M281.8 76.8h0M292.0 76.7h0M293.8 76.8h0M309.9 76.3h0M47.5 77.7h0M86.4 77.7h0M87.2 77.2h0M88.8 77.5h0M89.6 77.6h0M89.4 77.0h0M89.9 77.1h0M91.2 77.9h0M91.3 77.1h0M292.3 77.2h0M300.7 77.9h0M304.3 77.3h0M43.4 78.6h0M45.1 78.3h0M45.8 78.6h0M46.1 78.7h0M46.2 79.0h0M87.6 78.5h0M88.4 78.7h0M88.4 78.9h0M88.9 78.6h0M90.9 78.7h0M98.5 78.1h0M43.1 79.4h0M44.7 79.1h0M44.3 79.5h0M45.7 79.5h0M89.9 79.8h0M89.5 79.8h0M90.8 79.7h0M93.3 79.5h0M98.5 79.0h0M101.9 79.9h0M290.8 79.7h0M292.7 80.0h0M44.5 80.6h0M44.7 80.9h0M90.1 80.7h0M90.1 80.5h0M94.5 80.9h0M99.1 80.3h0M285.2 80.1h0M288.0 80.5h0M291.3 80.0h0M301.9 81.0h0M301.8 80.3h0M308.5 81.0h0M314.7 80.5h0M46.0 81.2h0M89.5 81.0h0M91.7 81.8h0M99.3 81.8h0M101.9 82.0h0M279.4 81.8h0M285.5 81.7h0M285.7 81.1h0M294.4 81.4h0M298.4 81.7h0M298.2 82.0h0M300.0 81.9h0M311.7 81.4h0M42.2 82.6h0M89.9 82.9h0M92.2 82.4h0M102.4 82.4h0M276.3 82.1h0M276.4 82.7h0M287.5 82.1h0M289.0 82.5h0M296.0 82.3h0M304.3 82.5h0M306.8 82.1h0M307.1 82.0h0M43.5 83.4h0M44.6 83.3h0M44.3 84.0h0M45.7 83.7h0M89.5 83.1h0M92.4 83.4h0M94.2 83.9h0M98.6 83.5h0M100.1 83.5h0M275.6 83.4h0M281.2 83.5h0M300.9 83.7h0M308.3 83.0h0M312.3 83.4h0M42.4 84.1h0M44.1 84.3h0M45.8 84.4h0M45.4 84.9h0M89.0 84.7h0M94.3 84.2h0M274.3 85.0h0M304.0 84.5h0M305.1 84.8h0M307.8 84.6h0M307.2 84.6h0M318.6 85.0h0M43.9 85.1h0M43.0 85.5h0M44.2 85.0h0M44.9 85.9h0M45.8 85.5h0M94.3 85.7h0M279.2 85.2h0M281.2 85.1h0M286.7 85.9h0M287.0 85.4h0M290.6 86.0h0M294.8 85.6h0M298.6 85.6h0M299.7 85.6h0M307.6 85.9h0M309.3 85.6h0M311.2 85.6h0M313.0 85.8h0M315.2 85.4h0M43.9 86.8h0M43.4 86.3h0M44.5 86.2h0M45.4 86.2h0M89.8 86.0h0M93.4 86.2h0M277.0 86.7h0M276.9 86.6h0M281.1 86.8h0M288.6 87.0h0M293.6 86.6h0M299.2 87.0h0M299.7 86.4h0M304.8 86.4h0M307.7 87.0h0M308.6 86.8h0M313.2 86.4h0M316.9 86.5h0M316.7 86.7h0M325.8 86.6h0M45.9 87.5h0M91.1 87.4h0M98.3 87.4h0M99.1 87.1h0M277.1 87.3h0M278.2 87.1h0M293.4 87.2h0M299.0 87.7h0M304.9 87.5h0M308.2 87.2h0M309.4 87.8h0M310.3 87.9h0M313.9 87.1h0M314.2 87.9h0M316.5 87.5h0M318.5 87.7h0M319.1 88.0h0M324.1 87.1h0M324.8 87.9h0M325.6 88.0h0M43.8 88.9h0M44.4 88.7h0M45.9 88.8h0M88.0 88.1h0M89.6 88.9h0M89.4 88.7h0M90.8 88.3h0M91.7 88.3h0M92.8 88.1h0M98.1 88.0h0M102.4 88.7h0M102.1 88.3h0M103.5 88.6h0M106.5 88.4h0M279.9 88.0h0M287.7 88.6h0M288.7 88.4h0M293.7 88.6h0M297.2 88.2h0M299.2 88.4h0M300.3 88.5h0M301.7 88.0h0M303.6 88.3h0M307.7 88.2h0M308.2 88.8h0M309.6 88.4h0M312.9 88.3h0M312.5 88.4h0M43.6 89.8h0M43.8 89.0h0M98.0 89.6h0M103.5 89.2h0M104.5 89.2h0M105.7 89.4h0M274.1 89.6h0M276.9 89.6h0M279.4 89.8h0M285.8 89.7h0M288.8 89.8h0M290.3 89.9h0M291.6 89.1h0M299.1 89.9h0M304.8 89.0h0M305.6 90.0h0M308.1 89.9h0M309.2 89.5h0M318.4 89.0h0M323.9 89.5h0M45.3 90.5h0M91.6 90.5h0M96.1 90.5h0M100.6 90.3h0M275.9 91.0h0M278.2 90.6h0M278.1 90.1h0M290.5 90.4h0M290.9 90.9h0M297.1 91.0h0M301.5 90.9h0M303.7 90.7h0M308.8 90.2h0M312.8 90.1h0M313.6 90.1h0M317.3 90.5h0M322.6 90.3h0M322.8 90.5h0M327.3 90.3h0M43.3 91.9h0M89.8 91.1h0M90.7 91.8h0M92.3 91.5h0M100.7 91.7h0M106.6 91.3h0M279.2 91.5h0M291.0 92.0h0M291.1 91.1h0M310.7 91.4h0M313.6 91.9h0M315.1 91.2h0M316.7 91.2h0M320.7 91.9h0M320.2 92.0h0M321.7 92.0h0M322.4 91.7h0M323.9 91.6h0M325.1 92.0h0M327.9 91.0h0M44.3 92.7h0M89.6 92.7h0M89.4 92.2h0M290.0 92.5h0M297.3 92.1h0M297.4 92.6h0M299.6 93.0h0M306.6 93.0h0M309.1 92.4h0M312.4 92.8h0M314.0 92.9h0M315.3 92.9h0M320.7 92.4h0M321.7 92.2h0M321.9 92.3h0M89.5 93.0h0M98.3 93.1h0M274.1 93.2h0M278.4 93.1h0M279.2 93.8h0M283.9 93.8h0M286.8 93.6h0M291.4 93.4h0M295.9 93.2h0M295.3 93.6h0M308.5 93.3h0M312.6 93.1h0M315.6 93.5h0M323.7 93.1h0M44.5 94.7h0M88.8 94.6h0M90.8 94.0h0M90.2 95.0h0M92.3 94.0h0M95.7 94.7h0M99.6 94.0h0M276.2 94.6h0M284.6 94.4h0M284.1 94.3h0M286.5 94.7h0M288.6 94.6h0M290.6 94.2h0M291.0 94.4h0M291.8 94.3h0M293.6 94.6h0M294.6 94.7h0M319.3 94.7h0M325.4 94.5h0M42.3 95.8h0M42.2 95.4h0M43.3 95.3h0M88.9 95.9h0M92.7 95.2h0M97.5 95.1h0M101.1 95.7h0M107.3 95.1h0M281.8 95.1h0M289.2 95.7h0M291.5 95.0h0M292.7 95.2h0M294.3 95.0h0M296.3 95.0h0M303.4 95.3h0M308.6 95.5h0M310.3 95.8h0M311.2 95.3h0M311.8 95.2h0M314.6 95.8h0M322.5 95.4h0M45.9 96.6h0M91.0 96.8h0M93.4 96.5h0M93.1 96.1h0M94.7 97.0h0M97.5 96.3h0M106.5 96.5h0M279.1 96.9h0M288.9 97.0h0M296.5 96.1h0M302.4 96.2h0M314.4 96.4h0M324.7 97.0h0M324.0 96.5h0M324.8 96.5h0M44.1 97.1h0M44.1 97.5h0M45.7 97.5h0M45.1 97.8h0M88.1 97.4h0M93.8 97.2h0M101.1 97.2h0M289.4 98.0h0M295.7 97.8h0M316.7 97.8h0M324.6 97.2h0M325.6 97.3h0M88.6 98.2h0M89.0 98.6h0M88.8 98.5h0M90.8 98.4h0M98.3 98.1h0M102.1 98.5h0M107.8 98.2h0M278.4 98.0h0M285.5 98.5h0M291.6 98.6h0M299.1 98.3h0M303.1 98.1h0M303.6 98.2h0M304.9 98.1h0M308.8 98.0h0M311.9 98.4h0M318.0 98.5h0M45.5 99.2h0M45.0 99.3h0M88.6 99.8h0M96.5 99.7h0M98.1 99.8h0M273.7 99.1h0M275.9 99.2h0M278.3 99.0h0M283.1 99.6h0M287.3 99.8h0M289.9 99.8h0M292.8 99.6h0M298.7 99.1h0M299.6 99.4h0M303.5 99.2h0M303.6 99.7h0M311.9 99.4h0M314.5 99.7h0M318.7 99.9h0M324.6 100.0h0M45.7 100.6h0M89.3 100.0h0M90.3 100.6h0M92.7 100.5h0M103.5 100.8h0M107.0 100.3h0M107.8 100.4h0M273.8 101.0h0M281.6 100.4h0M281.1 100.8h0M282.3 100.0h0M292.1 101.0h0M293.3 100.6h0M293.2 100.4h0M297.7 100.3h0M298.2 100.2h0M299.9 100.7h0M302.0 101.0h0M305.1 100.3h0M311.3 100.2h0M312.9 100.7h0M316.2 100.8h0M319.9 100.1h0M320.0 100.1h0M320.1 100.7h0M45.9 101.1h0M88.1 101.7h0M91.7 101.7h0M92.8 101.9h0M94.5 101.8h0M95.1 101.9h0M100.0 102.0h0M101.1 101.6h0M274.3 101.9h0M276.3 101.3h0M279.0 101.7h0M280.6 101.5h0M282.2 101.2h0M283.1 101.5h0M288.4 101.7h0M291.6 101.2h0M295.8 101.6h0M302.5 101.5h0M304.9 101.9h0M305.9 101.8h0M306.2 101.4h0M309.1 101.2h0M310.7 101.9h0M316.9 101.5h0M316.5 101.6h0M317.6 101.1h0M322.3 101.5h0M323.1 102.0h0M325.5 101.2h0M41.1 102.9h0M44.1 102.0h0M89.0 102.0h0M92.5 102.2h0M103.0 102.1h0M274.7 102.6h0M278.6 102.8h0M280.0 102.7h0M283.4 102.3h0M284.2 102.8h0M285.0 102.6h0M288.3 102.6h0M290.7 102.5h0M292.6 102.8h0M295.0 102.1h0M296.5 102.9h0M297.8 102.3h0M301.4 102.5h0M303.7 102.1h0M310.8 102.7h0M311.0 102.1h0M313.8 102.6h0M313.2 102.1h0M314.6 102.1h0M314.5 102.6h0M321.1 102.8h0M324.3 103.0h0M41.1 103.2h0M43.6 103.8h0M89.9 103.4h0M93.8 103.5h0M97.6 103.6h0M99.1 103.7h0M107.8 103.4h0M281.1 103.9h0M282.3 103.1h0M282.0 103.6h0M295.7 103.3h0M295.4 103.3h0M302.8 103.3h0M303.2 103.9h0M307.0 103.0h0M311.4 103.2h0M314.8 103.7h0M316.3 103.4h0M317.9 103.4h0M320.2 103.8h0M320.5 103.4h0M321.7 103.3h0M322.0 103.7h0M323.1 103.5h0M325.7 103.9h0M325.3 103.5h0M46.0 104.5h0M45.2 104.4h0M45.7 104.7h0M88.6 104.9h0M90.5 104.9h0M92.7 104.2h0M93.6 104.3h0M97.5 104.8h0M103.3 104.3h0M279.3 104.4h0M280.9 104.5h0M280.6 104.9h0M284.3 104.4h0M284.4 104.9h0M285.9 104.9h0M299.2 104.8h0M302.4 104.5h0M303.0 104.2h0M306.3 104.2h0M307.8 104.5h0M310.0 104.7h0M310.9 104.6h0M317.4 104.4h0M318.0 104.4h0M319.1 104.5h0M319.2 104.8h0M319.8 104.4h0M320.9 104.7h0M40.8 106.0h0M44.6 105.4h0M44.6 105.6h0M46.0 105.6h0M89.7 105.9h0M107.1 105.4h0M110.9 105.8h0M277.9 105.8h0M279.3 105.8h0M285.8 105.1h0M287.5 105.9h0M287.8 105.7h0M295.1 105.1h0M306.0 105.3h0M310.4 105.3h0M311.5 105.9h0M42.8 106.1h0M93.7 106.5h0M99.5 106.4h0M100.4 106.6h0M104.0 106.9h0M106.5 106.4h0M277.1 106.6h0M290.0 106.7h0M289.9 106.2h0M291.6 106.8h0M291.9 106.0h0M292.3 106.6h0M293.7 106.1h0M293.9 106.2h0M297.7 106.6h0M301.4 107.0h0M305.1 106.6h0M311.0 106.1h0M311.4 106.6h0M320.5 106.1h0M324.6 106.6h0M326.1 106.5h0M326.5 106.1h0M42.3 107.2h0M44.0 107.5h0M45.8 107.3h0M45.5 107.8h0M88.6 107.7h0M91.1 107.6h0M276.4 107.9h0M281.4 107.6h0M288.8 107.2h0M289.3 107.9h0M297.1 107.4h0M297.5 107.3h0M298.1 107.5h0M302.0 107.9h0M304.0 107.3h0M303.6 107.3h0M304.7 107.8h0M306.0 107.5h0M309.7 107.0h0M310.5 107.2h0M311.9 107.7h0M317.7 107.9h0M322.7 107.1h0M510.2 107.9h0M515.1 107.1h0M44.6 109.0h0M45.7 108.3h0M88.4 108.2h0M89.8 108.5h0M93.5 108.9h0M95.3 108.7h0M96.7 108.8h0M99.5 108.4h0M109.1 108.4h0M275.4 108.4h0M279.8 108.2h0M281.2 108.2h0M283.4 108.8h0M283.4 108.6h0M287.6 108.2h0M290.8 108.2h0M290.9 108.1h0M292.0 108.2h0M293.0 108.3h0M300.2 108.7h0M306.4 108.2h0M308.1 108.9h0M311.6 108.9h0M311.5 108.5h0M316.7 108.5h0M316.0 108.4h0M321.7 108.0h0M322.3 108.9h0M322.5 108.0h0M323.8 108.7h0M507.7 108.2h0M511.9 108.0h0M514.0 108.5h0M518.8 108.5h0M524.3 108.8h0M45.0 109.2h0M44.3 110.0h0M89.0 109.9h0M90.0 109.9h0M92.1 109.4h0M92.3 109.4h0M100.7 109.3h0M104.9 109.2h0M281.5 109.5h0M285.2 109.3h0M286.8 109.2h0M287.8 109.4h0M287.5 109.7h0M287.9 109.5h0M287.3 109.6h0M288.2 109.2h0M288.2 109.3h0M295.4 109.5h0M297.5 109.4h0M299.0 109.9h0M302.9 109.4h0M306.4 109.3h0M309.2 109.6h0M314.6 109.5h0M317.0 109.8h0M320.6 109.2h0M325.3 109.6h0M325.4 109.2h0M506.2 109.7h0M517.2 109.7h0M522.0 109.1h0M523.2 109.5h0M88.9 110.6h0M89.5 110.1h0M90.6 110.1h0M93.2 110.4h0M93.5 110.2h0M102.0 110.8h0M111.9 110.2h0M111.6 110.2h0M275.2 110.6h0M276.3 110.3h0M276.4 110.7h0M279.1 110.6h0M279.5 110.7h0M279.1 110.3h0M280.6 110.2h0M283.9 110.6h0M286.5 110.5h0M286.5 110.4h0M288.8 110.4h0M292.1 110.1h0M295.0 110.8h0M295.8 110.3h0M296.6 110.2h0M296.3 111.0h0M299.9 110.8h0M302.4 110.4h0M302.2 110.9h0M304.0 110.1h0M307.5 110.2h0M309.0 110.1h0M309.3 110.9h0M312.3 110.5h0M314.2 110.2h0M316.4 111.0h0M321.2 111.0h0M325.5 110.8h0M506.3 110.8h0M508.0 110.8h0M511.6 110.2h0M512.0 110.7h0M513.6 110.5h0M517.0 110.3h0M527.8 110.1h0M45.1 111.6h0M88.1 111.7h0M90.0 111.6h0M89.5 111.7h0M91.8 111.7h0M93.6 111.2h0M95.2 111.8h0M112.1 112.0h0M275.9 111.5h0M275.9 111.4h0M276.3 111.8h0M277.6 111.0h0M277.3 111.7h0M278.2 111.3h0M278.3 111.9h0M285.3 111.1h0M285.0 111.3h0M286.5 111.9h0M287.1 111.6h0M288.8 111.1h0M292.6 111.9h0M294.4 111.2h0M297.4 111.6h0M298.7 111.4h0M300.4 111.1h0M300.6 112.0h0M301.1 111.8h0M302.9 111.3h0M302.4 111.5h0M303.2 111.8h0M304.4 111.1h0M306.5 111.1h0M307.8 111.4h0M309.9 112.0h0M309.1 111.4h0M311.7 111.2h0M312.9 111.8h0M315.6 111.5h0M316.4 111.0h0M320.1 111.6h0M321.5 111.6h0M506.4 111.1h0M514.6 111.5h0M517.9 111.2h0M517.5 111.4h0M518.7 111.4h0M521.0 111.3h0M524.9 111.0h0M526.6 111.1h0M41.1 112.1h0M42.7 112.0h0M43.0 112.8h0M45.7 112.9h0M91.5 112.8h0M92.7 112.1h0M93.5 112.3h0M97.6 112.7h0M100.9 112.6h0M104.6 112.6h0M108.9 112.4h0M275.2 112.1h0M275.4 112.6h0M277.4 112.9h0M277.5 112.6h0M278.1 112.8h0M279.7 112.5h0M280.3 112.5h0M281.2 113.0h0M281.5 112.9h0M288.1 112.5h0M291.7 112.9h0M291.2 112.2h0M291.2 112.5h0M293.0 112.3h0M294.6 112.7h0M295.0 112.8h0M296.0 112.4h0M296.4 112.8h0M298.0 112.0h0M297.4 112.1h0M298.5 112.5h0M300.1 112.9h0M300.0 112.4h0M300.1 112.6h0M302.6 112.9h0M304.8 112.1h0M307.5 112.5h0M307.8 112.3h0M309.4 112.1h0M310.9 112.6h0M313.8 112.7h0M314.1 112.9h0M316.7 112.8h0M324.9 112.6h0M515.9 112.5h0M517.0 112.7h0M519.4 112.7h0M526.7 112.7h0M529.5 112.9h0M44.2 113.3h0M88.5 113.8h0M89.8 113.3h0M89.1 113.3h0M94.6 113.6h0M96.9 113.8h0M101.8 113.2h0M102.8 113.9h0M107.9 113.4h0M112.8 113.0h0M274.2 113.4h0M275.1 113.5h0M277.7 113.8h0M277.2 113.2h0M277.5 113.2h0M277.3 113.5h0M309.7 113.6h0M311.4 113.8h0M314.8 114.0h0M318.4 113.5h0M325.8 113.9h0M507.9 113.1h0M507.7 113.8h0M512.4 113.3h0M513.2 113.9h0M515.2 113.9h0M515.6 113.0h0M520.5 113.4h0M520.3 113.6h0M524.3 113.2h0M525.6 113.4h0M525.2 113.0h0M44.7 114.6h0M88.9 114.5h0M92.3 114.4h0M99.3 114.2h0M99.9 114.5h0M272.0 114.4h0M272.7 115.0h0M275.5 114.8h0M275.6 114.9h0M276.3 114.7h0M278.0 114.2h0M310.2 114.6h0M317.0 115.0h0M322.7 114.4h0M328.5 114.5h0M509.0 114.4h0M516.1 114.1h0M519.8 114.4h0M528.7 114.9h0M528.6 114.0h0M530.5 115.0h0M41.3 115.3h0M44.5 115.9h0M45.7 115.4h0M45.1 115.6h0M45.7 115.0h0M88.5 115.6h0M105.4 115.8h0M107.9 115.8h0M113.9 115.2h0M310.9 115.7h0M310.3 115.1h0M316.8 115.3h0M317.6 115.6h0M319.2 115.2h0M320.1 115.9h0M321.4 115.4h0M326.4 115.4h0M327.9 115.1h0M327.7 115.7h0M510.3 115.8h0M510.1 115.2h0M512.9 115.7h0M524.5 115.3h0M525.3 115.4h0M525.8 115.8h0M41.5 116.0h0M42.6 116.2h0M43.2 116.5h0M45.1 117.0h0M45.6 116.4h0M45.5 116.6h0M45.7 116.5h0M88.0 116.4h0M93.2 116.3h0M100.8 117.0h0M100.7 116.1h0M270.6 116.4h0M272.7 116.8h0M273.6 116.5h0M274.6 116.4h0M309.8 116.3h0M309.7 116.6h0M311.6 116.1h0M311.4 116.5h0M312.8 116.5h0M316.9 116.6h0M323.8 116.3h0M324.4 117.0h0M328.4 116.2h0M505.2 116.5h0M505.5 116.8h0M517.1 116.4h0M519.6 116.0h0M531.7 116.5h0M43.7 117.9h0M44.7 117.0h0M89.1 117.8h0M92.2 117.6h0M94.2 117.1h0M276.6 117.1h0M277.8 117.1h0M277.5 117.3h0M309.4 117.8h0M310.0 117.8h0M309.6 117.6h0M310.3 117.0h0M311.4 117.9h0M311.1 117.5h0M313.8 117.6h0M314.5 117.5h0M315.2 117.3h0M326.7 117.6h0M326.8 117.3h0M326.6 117.5h0M511.3 117.1h0M513.4 117.7h0M523.9 117.6h0M523.2 117.5h0M525.7 117.6h0M527.8 117.9h0M531.1 117.4h0M533.6 118.0h0M534.8 117.8h0M44.8 118.7h0M45.3 118.7h0M45.2 118.7h0M89.6 118.5h0M95.7 118.9h0M102.6 118.3h0M110.6 118.3h0M112.0 118.2h0M270.8 118.2h0M277.8 118.8h0M312.0 118.5h0M314.7 118.7h0M315.8 118.7h0M316.4 118.4h0M318.1 118.4h0M320.6 118.1h0M326.8 118.9h0M328.1 118.3h0M522.6 118.4h0M526.0 118.6h0M45.9 120.0h0M88.1 119.5h0M88.7 119.2h0M88.3 119.5h0M89.4 119.0h0M91.8 119.6h0M96.6 119.8h0M97.0 119.8h0M98.7 120.0h0M103.5 119.1h0M106.6 119.7h0M115.8 119.8h0M310.5 119.0h0M311.0 119.4h0M314.5 119.9h0M314.4 119.7h0M324.8 119.5h0M330.0 119.8h0M329.6 119.8h0M332.5 119.9h0M507.2 120.0h0M509.0 119.9h0M512.4 119.5h0M513.6 119.4h0M525.1 119.6h0M526.5 119.4h0M534.9 119.8h0M42.4 120.7h0M89.6 120.1h0M89.7 120.4h0M90.1 120.9h0M98.2 120.2h0M98.2 120.7h0M102.8 120.2h0M111.8 121.0h0M271.0 120.9h0M275.6 120.5h0M311.7 120.9h0M314.7 120.1h0M316.8 120.0h0M318.7 120.5h0M321.3 120.5h0M321.0 120.7h0M323.8 120.4h0M326.3 120.6h0M326.3 120.8h0M329.2 120.9h0M329.7 120.6h0M333.6 120.6h0M509.6 120.5h0M44.6 121.9h0M89.6 121.3h0M89.6 121.5h0M89.9 121.7h0M93.0 121.0h0M98.3 121.3h0M105.9 122.0h0M106.3 121.5h0M110.7 121.5h0M273.9 121.4h0M277.3 121.7h0M313.9 121.9h0M314.8 121.5h0M322.2 121.6h0M323.8 121.0h0M326.2 121.1h0M328.0 121.1h0M334.4 121.4h0M511.8 121.3h0M512.9 121.8h0M521.7 121.7h0M531.6 121.6h0M532.4 122.0h0M536.5 121.2h0M536.7 121.2h0M44.1 122.5h0M44.7 122.6h0M44.5 122.7h0M89.3 122.3h0M92.8 122.7h0M94.2 122.5h0M100.3 122.7h0M102.6 122.1h0M104.0 122.1h0M109.0 122.5h0M111.6 122.5h0M115.2 122.4h0M275.9 122.9h0M277.0 122.6h0M277.5 122.4h0M278.4 122.3h0M278.9 122.4h0M314.8 122.9h0M316.5 122.3h0M317.2 122.2h0M318.8 122.3h0M326.3 122.5h0M327.8 122.5h0M329.7 122.6h0M329.4 122.8h0M520.4 122.7h0M520.7 122.1h0M522.6 122.6h0M529.2 122.1h0M535.0 122.1h0M90.8 123.2h0M94.0 123.8h0M94.7 123.7h0M100.1 123.5h0M102.7 123.4h0M103.9 123.9h0M103.0 123.7h0M104.3 123.5h0M106.6 123.9h0M272.4 123.5h0M277.0 123.6h0M314.3 123.1h0M318.7 123.2h0M318.3 123.4h0M319.4 123.4h0M322.0 123.9h0M322.7 123.7h0M332.0 123.2h0M506.0 123.6h0M513.5 123.9h0M517.3 123.1h0M518.6 124.0h0M520.0 123.9h0M520.8 123.7h0M531.4 123.2h0M534.7 123.5h0M535.8 123.9h0M90.1 124.7h0M90.4 124.3h0M91.3 125.0h0M91.3 124.3h0M93.6 124.2h0M96.4 124.4h0M103.9 124.3h0M104.2 124.9h0M110.9 124.7h0M111.1 125.0h0M117.4 124.6h0M278.3 124.6h0M278.9 124.6h0M278.4 124.8h0M313.7 124.6h0M314.2 125.0h0M316.5 124.8h0M319.9 124.4h0M324.1 124.5h0M327.7 124.7h0M507.2 124.6h0M509.1 124.8h0M519.5 124.5h0M538.5 124.5h0M539.4 124.4h0M42.4 125.1h0M43.1 125.4h0M45.2 125.0h0M91.2 125.7h0M101.2 125.9h0M107.9 125.4h0M111.3 125.5h0M111.5 125.7h0M113.3 125.6h0M116.1 125.4h0M117.7 125.5h0M275.7 125.9h0M277.5 125.7h0M278.0 125.8h0M316.2 125.6h0M316.1 125.8h0M318.4 125.9h0M319.3 125.1h0M320.5 125.8h0M328.3 126.0h0M332.4 125.0h0M334.3 125.8h0M508.0 125.9h0M509.8 126.0h0M510.9 125.6h0M513.7 125.2h0M516.4 125.3h0M522.1 125.9h0M533.0 125.7h0M538.4 125.1h0M92.3 126.1h0M96.8 126.3h0M107.2 126.8h0M109.6 126.2h0M109.1 126.5h0M110.4 126.7h0M110.4 127.0h0M116.2 126.9h0M279.0 126.2h0M314.2 126.7h0M314.9 126.6h0M319.8 126.7h0M321.0 126.8h0M321.5 126.2h0M323.5 126.5h0M326.7 126.1h0M327.5 126.1h0M330.4 126.9h0M330.2 126.7h0M332.1 126.1h0M335.5 126.7h0M336.7 126.9h0M506.0 126.5h0M507.9 126.6h0M527.2 126.9h0M42.3 127.0h0M44.8 127.2h0M45.2 127.8h0M92.7 127.2h0M92.9 127.7h0M93.6 127.8h0M96.0 127.3h0M115.3 127.8h0M315.6 127.8h0M317.7 127.7h0M317.3 127.0h0M325.0 127.7h0M329.6 127.2h0M329.8 127.7h0M330.4 128.0h0M332.3 127.0h0M508.4 127.4h0M518.8 127.6h0M524.4 127.2h0M527.9 127.7h0M529.4 127.4h0M537.2 127.9h0M541.5 127.6h0M542.6 127.5h0M43.1 128.3h0M43.3 128.3h0M45.7 128.9h0M45.0 129.0h0M92.5 128.4h0M94.4 128.4h0M107.4 128.4h0M108.9 128.4h0M108.9 129.0h0M110.9 128.5h0M110.4 128.6h0M115.2 128.9h0M116.1 128.2h0M276.9 128.9h0M315.4 128.4h0M316.7 128.4h0M317.2 128.5h0M320.0 128.1h0M322.8 128.7h0M323.9 128.3h0M324.1 128.3h0M329.2 128.2h0M330.5 128.5h0M330.8 128.3h0M331.4 128.5h0M515.7 128.8h0M519.1 128.2h0M521.3 128.5h0M530.3 128.9h0M538.2 128.2h0M44.2 129.1h0M92.6 129.6h0M93.3 129.3h0M100.1 129.4h0M105.9 129.4h0M275.8 129.8h0M278.2 129.1h0M319.1 129.1h0M323.6 129.1h0M330.4 130.0h0M332.7 129.6h0M332.1 129.1h0M335.5 129.8h0M336.1 129.2h0M337.1 129.5h0M506.2 129.5h0M516.6 130.0h0M518.8 129.5h0M524.9 129.0h0M535.9 130.0h0M538.9 129.8h0M540.4 129.9h0M41.5 130.0h0M44.6 131.0h0M45.5 130.2h0M93.5 130.9h0M94.3 130.5h0M95.5 130.8h0M107.5 130.4h0M271.1 130.5h0M271.1 130.9h0M278.7 130.5h0M278.6 130.2h0M317.9 130.6h0M327.2 130.6h0M328.1 130.9h0M338.0 130.6h0M337.5 130.2h0M338.8 130.5h0M510.4 130.7h0M516.5 130.5h0M522.3 130.8h0M530.3 130.3h0M538.4 130.3h0M545.3 130.6h0M44.5 131.8h0M45.1 131.1h0M94.5 131.6h0M94.3 131.7h0M95.1 131.4h0M96.5 132.0h0M105.4 131.7h0M106.6 131.5h0M110.9 132.0h0M118.4 131.2h0M276.6 131.3h0M277.4 131.5h0M277.1 131.3h0M320.8 131.2h0M320.9 131.3h0M326.3 131.8h0M334.7 131.8h0M337.2 131.2h0M516.7 131.2h0M520.2 131.8h0M525.3 131.5h0M533.1 131.0h0M538.5 131.5h0M544.9 131.5h0M41.5 132.7h0M43.3 132.3h0M44.8 132.9h0M45.5 132.7h0M45.5 132.6h0M97.8 132.8h0M98.5 132.6h0M115.1 132.5h0M271.6 132.1h0M279.3 132.7h0M279.5 132.4h0M279.0 132.1h0M318.6 132.2h0M319.1 132.9h0M320.5 132.7h0M321.1 132.7h0M325.9 132.3h0M325.8 132.3h0M327.1 132.5h0M328.0 132.3h0M329.2 133.0h0M330.2 132.6h0M332.2 132.3h0M513.2 132.7h0M521.3 132.6h0M522.6 133.0h0M530.6 132.2h0M540.4 132.8h0M546.1 132.2h0M547.7 132.6h0M44.6 133.1h0M45.5 133.3h0M95.7 133.8h0M97.0 133.9h0M98.7 133.5h0M109.4 133.5h0M109.1 133.6h0M120.5 133.5h0M120.3 133.1h0M274.0 133.1h0M275.1 133.2h0M276.6 133.2h0M277.3 133.2h0M319.1 133.3h0M320.9 133.5h0M321.8 133.8h0M324.4 133.3h0M325.8 133.5h0M325.6 133.9h0M329.3 133.2h0M333.3 133.1h0M514.5 133.4h0M518.9 133.4h0M533.7 133.5h0M534.3 133.4h0M539.6 133.7h0M547.7 133.5h0M548.0 133.8h0M100.5 134.3h0M107.6 134.4h0M320.7 134.5h0M320.2 134.5h0M321.8 134.8h0M321.4 134.6h0M322.9 134.6h0M323.0 134.6h0M324.4 134.5h0M326.0 134.8h0M326.4 134.7h0M328.0 134.7h0M329.6 134.1h0M329.8 134.5h0M330.5 134.1h0M330.3 134.9h0M332.1 134.4h0M334.0 134.6h0M336.9 134.7h0M339.0 135.0h0M508.4 134.7h0M519.3 134.5h0M542.0 134.8h0M542.8 134.1h0M543.1 134.2h0M43.9 135.3h0M45.7 135.2h0M96.3 135.1h0M102.2 135.2h0M118.0 135.1h0M272.0 135.7h0M278.7 135.0h0M324.5 135.9h0M325.8 135.9h0M325.4 135.8h0M328.6 135.6h0M330.8 135.7h0M332.3 135.6h0M333.4 135.8h0M337.4 135.4h0M509.5 135.4h0M509.0 135.6h0M510.0 135.6h0M510.1 135.8h0M518.7 135.8h0M527.6 135.1h0M529.2 135.2h0M529.8 135.6h0M532.1 135.4h0M536.4 135.9h0M537.7 135.3h0M542.5 136.0h0M550.4 135.4h0M41.8 136.7h0M101.0 136.2h0M102.5 136.5h0M107.4 136.6h0M113.2 137.0h0M272.2 136.8h0M279.7 136.7h0M322.7 136.2h0M323.3 136.4h0M325.5 136.6h0M325.9 136.1h0M326.0 137.0h0M327.0 137.0h0M333.2 136.7h0M333.8 137.0h0M335.9 136.7h0M336.0 136.9h0M508.5 136.2h0M514.3 136.7h0M519.7 136.8h0M526.7 136.4h0M528.5 136.1h0M531.4 136.1h0M533.1 136.2h0M550.5 136.3h0M98.3 138.0h0M102.6 137.3h0M109.3 137.4h0M110.3 137.1h0M110.1 137.8h0M278.4 137.2h0M278.2 138.0h0M323.2 137.8h0M324.4 137.6h0M325.7 138.0h0M326.9 137.6h0M327.3 137.3h0M328.7 137.4h0M329.2 137.2h0M332.0 137.8h0M506.5 137.1h0M516.0 138.0h0M520.1 138.0h0M527.9 137.7h0M549.7 137.6h0M550.8 137.8h0M550.0 137.9h0M550.4 137.2h0M43.6 138.6h0M45.5 138.1h0M100.6 138.8h0M102.0 138.5h0M102.0 138.9h0M102.3 138.3h0M106.3 138.9h0M111.9 138.6h0M121.6 138.9h0M121.4 138.1h0M278.8 138.6h0M279.6 138.1h0M279.8 138.8h0M329.8 138.6h0M331.2 138.1h0M343.5 138.7h0M343.9 138.4h0M507.1 138.3h0M508.3 138.5h0M514.5 138.6h0M516.4 138.5h0M524.4 138.3h0M524.3 138.2h0M532.6 138.9h0M535.0 138.1h0M540.1 138.1h0M543.4 138.8h0M545.3 138.0h0M548.9 138.2h0M550.3 138.8h0M46.7 139.8h0M99.1 139.7h0M100.0 139.8h0M100.1 139.2h0M101.0 139.2h0M108.6 139.4h0M109.5 139.6h0M110.1 139.3h0M117.1 139.6h0M120.0 139.3h0M273.4 139.7h0M274.2 139.7h0M324.5 139.2h0M324.6 139.2h0M330.5 139.6h0M331.8 139.9h0M332.7 139.6h0M344.6 139.3h0M349.2 139.4h0M511.5 139.1h0M521.3 139.5h0M531.3 139.1h0M532.9 139.4h0M539.2 139.7h0M543.8 139.8h0M44.5 140.5h0M45.3 140.4h0M45.4 140.8h0M46.0 140.5h0M46.9 140.8h0M102.0 140.2h0M104.1 140.4h0M104.3 140.7h0M111.0 140.4h0M117.4 140.1h0M118.3 140.1h0M277.9 140.2h0M326.7 140.6h0M328.9 141.0h0M329.8 140.1h0M331.5 140.8h0M331.9 140.9h0M334.0 141.0h0M334.4 140.1h0M335.7 140.7h0M338.5 140.6h0M348.6 140.9h0M349.5 140.2h0M352.1 141.0h0M508.2 140.1h0M509.6 140.9h0M510.8 140.9h0M514.9 140.7h0M519.8 140.7h0M522.6 140.6h0M523.1 140.2h0M523.7 140.2h0M525.5 140.2h0M525.8 140.6h0M531.0 140.3h0M535.6 140.5h0M535.5 140.2h0M536.6 140.2h0M536.6 140.1h0M539.9 140.3h0M543.7 140.9h0M42.9 141.5h0M46.2 142.0h0M100.2 142.0h0M100.8 141.5h0M100.9 141.0h0M103.3 141.9h0M107.0 142.0h0M107.3 141.1h0M111.4 141.8h0M111.2 141.3h0M112.3 141.6h0M273.5 141.9h0M274.5 141.1h0M280.7 141.7h0M326.1 141.5h0M326.4 141.4h0M327.9 141.2h0M328.2 142.0h0M328.4 141.2h0M329.9 141.1h0M333.4 141.4h0M335.1 141.9h0M336.1 141.3h0M337.5 142.0h0M345.0 141.2h0M346.2 141.4h0M346.1 141.6h0M350.2 141.3h0M508.7 141.7h0M511.7 141.9h0M513.6 141.2h0M517.5 141.1h0M521.0 141.5h0M522.1 141.1h0M527.9 141.9h0M535.3 141.5h0M541.8 141.6h0M543.5 141.1h0M545.7 141.6h0M551.5 141.6h0M555.4 141.4h0M42.4 142.7h0M45.2 142.0h0M46.7 142.9h0M102.8 142.9h0M106.2 142.5h0M107.5 142.5h0M108.1 142.7h0M109.1 142.9h0M115.0 142.8h0M115.6 142.9h0M117.6 143.0h0M121.1 142.7h0M274.3 142.9h0M280.9 142.7h0M280.3 142.9h0M328.5 142.0h0M328.3 142.8h0M329.4 142.0h0M330.0 142.5h0M330.0 142.9h0M330.4 142.9h0M331.9 142.4h0M336.9 142.7h0M336.7 142.5h0M339.9 142.5h0M340.5 142.9h0M344.7 142.6h0M346.1 142.0h0M351.2 142.2h0M356.0 142.9h0M359.6 142.3h0M508.7 142.7h0M513.3 142.6h0M515.4 142.8h0M519.1 142.8h0M520.2 142.3h0M521.8 142.8h0M533.3 142.2h0M534.7 143.0h0M538.4 142.1h0M538.8 142.1h0M544.7 142.2h0M546.2 142.8h0M46.7 143.9h0M104.0 143.2h0M111.8 143.2h0M111.7 144.0h0M122.9 143.6h0M124.8 143.6h0M272.4 143.2h0M279.8 143.5h0M280.5 143.8h0M329.5 143.9h0M330.5 143.0h0M330.1 143.6h0M332.4 143.2h0M333.8 143.0h0M334.4 143.3h0M341.7 143.3h0M350.2 143.3h0M357.8 143.2h0M357.5 143.6h0M359.3 143.9h0M362.7 143.8h0M370.1 143.8h0M371.0 143.5h0M372.3 143.7h0M512.6 143.1h0M513.1 143.9h0M518.0 143.0h0M518.6 143.2h0M518.5 143.6h0M522.0 143.5h0M529.5 143.3h0M530.6 143.1h0M532.8 143.3h0M534.8 143.1h0M534.4 143.0h0M539.4 143.5h0M542.0 143.9h0M551.0 143.2h0M553.1 143.6h0M45.0 144.4h0M46.0 144.6h0M102.3 145.0h0M102.6 144.0h0M102.1 144.5h0M105.7 144.1h0M106.6 144.7h0M113.0 144.8h0M119.7 145.0h0M122.8 144.2h0M123.1 144.1h0M273.2 144.3h0M276.7 144.7h0M279.2 144.9h0M279.3 144.5h0M281.3 144.8h0M329.1 145.0h0M331.4 144.9h0M331.5 144.5h0M332.7 144.5h0M332.8 144.2h0M333.3 144.3h0M335.1 144.3h0M338.3 144.5h0M341.7 144.4h0M342.6 144.4h0M352.7 144.9h0M356.4 144.5h0M360.8 144.7h0M375.4 144.6h0M511.4 144.8h0M514.5 144.2h0M519.1 144.3h0M522.3 144.3h0M522.5 144.9h0M528.5 144.0h0M533.2 144.4h0M537.5 144.0h0M538.7 144.7h0M538.2 144.4h0M542.9 144.7h0M543.4 144.5h0M545.0 145.0h0M548.2 144.4h0M549.4 144.4h0M551.2 144.1h0M552.1 144.4h0M102.1 145.2h0M102.8 145.1h0M102.2 145.7h0M107.1 145.7h0M108.7 145.6h0M115.1 145.7h0M121.1 145.2h0M281.2 145.2h0M333.5 145.2h0M334.8 145.2h0M338.4 145.2h0M340.0 145.9h0M341.2 145.9h0M341.1 145.5h0M344.8 145.5h0M350.2 145.2h0M360.1 145.9h0M360.7 145.4h0M363.0 145.7h0M366.0 145.8h0M368.5 145.9h0M369.4 145.9h0M378.1 145.5h0M515.7 145.1h0M517.9 145.1h0M523.2 145.2h0M525.7 145.8h0M527.2 145.1h0M527.1 145.3h0M527.6 146.0h0M528.3 145.1h0M532.1 145.5h0M537.5 145.8h0M539.8 145.9h0M543.1 145.4h0M550.3 145.5h0M558.4 145.9h0M558.6 145.8h0M47.1 146.2h0M103.9 146.3h0M104.4 146.6h0M104.5 146.2h0M105.1 146.5h0M108.3 146.7h0M123.4 146.1h0M272.0 146.4h0M275.1 146.4h0M276.8 146.2h0M276.6 146.6h0M277.6 146.4h0M280.5 146.7h0M280.5 146.0h0M331.9 146.2h0M331.2 146.2h0M334.7 146.1h0M337.1 146.6h0M338.3 146.3h0M339.8 146.4h0M340.4 146.8h0M342.4 146.8h0M343.6 146.9h0M349.0 146.1h0M351.3 146.8h0M356.8 146.2h0M359.5 146.4h0M362.6 146.3h0M362.1 146.4h0M363.7 146.3h0M370.6 146.4h0M376.2 146.5h0M379.3 146.3h0M509.0 146.6h0M508.5 146.3h0M514.3 146.5h0M515.0 146.7h0M517.6 146.8h0M518.7 146.7h0M520.0 147.0h0M521.5 146.6h0M532.0 146.3h0M538.1 146.2h0M539.2 146.4h0M542.3 146.9h0M543.2 146.2h0M545.3 146.1h0M559.2 146.8h0M45.8 147.2h0M46.2 147.6h0M103.8 148.0h0M105.4 147.3h0M108.3 147.4h0M109.5 147.7h0M115.3 147.5h0M115.7 147.1h0M121.7 147.7h0M121.9 147.1h0M127.7 147.7h0M273.2 147.2h0M274.2 147.1h0M279.3 147.1h0M281.7 147.9h0M282.7 147.7h0M333.5 147.9h0M335.2 147.4h0M340.4 148.0h0M341.9 147.6h0M347.6 147.0h0M347.1 147.7h0M354.6 147.1h0M355.3 147.2h0M362.3 148.0h0M379.0 147.3h0M379.1 147.0h0M508.2 147.8h0M510.5 147.4h0M511.2 147.5h0M517.9 147.4h0M518.8 147.1h0M520.5 147.7h0M521.0 147.9h0M522.0 148.0h0M524.2 147.8h0M524.3 147.3h0M526.0 147.1h0M530.9 147.9h0M538.5 148.0h0M544.7 147.5h0M545.3 147.0h0M551.2 147.9h0M43.4 148.5h0M44.0 148.5h0M46.3 148.6h0M46.1 149.0h0M104.8 148.6h0M106.3 148.6h0M107.0 148.8h0M118.4 148.1h0M275.8 148.2h0M281.9 148.8h0M336.6 148.7h0M336.2 149.0h0M337.7 148.4h0M338.8 148.9h0M339.3 148.5h0M349.4 148.9h0M356.9 148.7h0M357.9 148.3h0M363.5 148.5h0M369.8 148.9h0M372.9 148.3h0M376.5 148.4h0M509.7 148.5h0M509.7 148.6h0M509.7 148.5h0M517.8 148.2h0M517.4 148.3h0M517.7 148.0h0M525.5 148.0h0M525.6 148.8h0M526.4 148.5h0M531.7 148.8h0M533.4 148.6h0M536.7 148.3h0M537.9 148.0h0M539.4 148.5h0M539.9 148.8h0M540.7 148.7h0M540.6 148.5h0M544.3 148.3h0M544.8 149.0h0M555.3 148.3h0M562.1 148.2h0M43.1 149.2h0M47.8 149.0h0M105.7 149.9h0M106.8 149.9h0M107.9 149.8h0M108.1 149.1h0M128.6 149.2h0M277.0 149.2h0M334.7 149.4h0M335.0 149.5h0M336.1 149.0h0M337.0 149.2h0M338.4 149.8h0M339.2 149.4h0M339.6 149.5h0M340.3 149.7h0M340.1 149.4h0M341.7 149.6h0M356.2 149.6h0M377.4 149.6h0M378.8 149.2h0M521.5 150.0h0M527.3 150.0h0M528.0 149.5h0M529.9 149.2h0M530.4 149.6h0M534.2 149.7h0M536.9 149.2h0M537.5 149.5h0M541.0 149.1h0M541.1 149.3h0M547.7 149.6h0M549.5 149.6h0M549.8 149.1h0M551.7 149.9h0M552.6 149.8h0M554.5 149.5h0M556.4 149.6h0M556.8 149.7h0M557.6 150.0h0M560.5 149.7h0M560.3 149.8h0M44.3 150.9h0M45.4 150.1h0M47.4 150.3h0M118.0 150.9h0M119.5 150.3h0M128.8 150.6h0M275.2 150.8h0M335.2 150.7h0M336.0 150.3h0M336.0 150.5h0M341.0 150.4h0M346.5 151.0h0M346.5 150.8h0M351.9 150.9h0M373.9 150.6h0M516.1 150.4h0M517.3 150.0h0M518.4 150.1h0M524.8 150.8h0M525.6 151.0h0M527.8 150.6h0M528.8 150.4h0M530.0 150.6h0M535.1 150.6h0M540.5 151.0h0M544.2 150.7h0M546.4 150.3h0M550.5 150.9h0M551.9 150.5h0M562.0 151.0h0M47.1 151.8h0M48.0 151.2h0M122.0 151.9h0M127.9 151.4h0M282.6 152.0h0M283.9 151.1h0M335.3 151.7h0M335.3 151.9h0M336.4 151.1h0M337.6 151.4h0M342.2 151.9h0M350.3 151.7h0M354.4 151.1h0M357.4 151.0h0M366.7 151.9h0M373.9 151.4h0M374.6 151.8h0M378.6 151.1h0M380.4 152.0h0M510.9 151.9h0M516.1 151.7h0M517.9 151.9h0M518.8 152.0h0M519.6 151.0h0M520.0 151.1h0M522.7 151.1h0M526.0 151.2h0M530.0 151.2h0M530.3 151.1h0M533.0 151.8h0M533.5 151.8h0M534.2 151.5h0M534.8 151.3h0M537.4 151.7h0M538.4 151.7h0M539.7 151.5h0M540.4 151.5h0M542.9 151.4h0M543.2 151.9h0M545.8 151.8h0M547.6 151.4h0M547.9 152.0h0M547.8 151.9h0M549.4 151.1h0M549.7 151.1h0M551.9 151.6h0M555.5 151.2h0M564.1 151.6h0M45.4 152.3h0M46.5 152.2h0M47.2 152.4h0M47.6 152.0h0M48.6 152.9h0M105.1 152.2h0M106.5 152.2h0M108.2 153.0h0M108.6 152.9h0M115.8 152.4h0M120.6 152.6h0M122.3 152.8h0M124.0 152.9h0M124.3 152.8h0M280.7 152.2h0M338.7 152.4h0M346.7 152.9h0M347.5 152.3h0M348.9 152.7h0M349.5 152.5h0M351.8 153.0h0M352.1 152.1h0M359.1 152.0h0M361.9 152.4h0M364.3 152.9h0M369.2 152.9h0M373.7 152.1h0M374.4 153.0h0M375.3 152.5h0M376.7 152.5h0M377.7 152.4h0M515.0 152.7h0M518.6 152.3h0M522.3 152.5h0M526.8 152.0h0M530.9 152.3h0M532.7 152.3h0M534.1 152.7h0M540.6 153.0h0M541.9 152.8h0M543.4 152.1h0M546.1 152.0h0M547.4 152.7h0M547.2 152.4h0M553.5 152.7h0M555.4 152.3h0M563.3 152.2h0M567.6 152.7h0M46.0 153.9h0M108.5 153.4h0M110.0 153.3h0M121.5 153.1h0M274.4 153.7h0M276.1 153.2h0M283.4 153.0h0M283.9 153.1h0M338.6 153.6h0M341.2 153.6h0M350.4 153.3h0M350.1 153.9h0M367.4 153.6h0M370.1 153.0h0M520.9 153.2h0M522.1 153.2h0M522.8 153.3h0M524.0 153.6h0M525.3 153.9h0M526.8 153.3h0M527.8 153.6h0M548.6 153.1h0M553.4 153.8h0M553.1 153.7h0M554.8 153.9h0M560.8 153.1h0M560.1 153.7h0M563.8 153.8h0M46.7 154.9h0M109.7 154.8h0M120.6 154.1h0M128.7 154.2h0M129.2 154.1h0M285.0 154.8h0M337.5 154.4h0M338.7 154.2h0M338.8 154.2h0M341.7 154.7h0M343.0 155.0h0M351.4 154.7h0M353.3 154.1h0M368.4 154.6h0M369.4 154.4h0M375.9 154.1h0M379.5 154.0h0M512.3 154.2h0M512.7 154.4h0M512.6 154.0h0M518.0 154.9h0M520.9 154.9h0M522.3 154.7h0M523.8 154.6h0M524.8 154.4h0M526.7 154.5h0M527.7 154.3h0M535.5 154.8h0M535.4 154.9h0M537.0 154.9h0M539.8 154.4h0M542.9 154.6h0M544.9 154.9h0M547.3 155.0h0M547.8 154.1h0M548.4 154.9h0M550.7 154.8h0M553.0 155.0h0M556.3 154.7h0M557.0 154.3h0M557.2 154.6h0M561.0 154.1h0M565.8 154.0h0M567.1 154.8h0M570.0 154.3h0M48.0 155.3h0M105.9 155.9h0M105.3 155.2h0M105.7 155.5h0M107.8 156.0h0M107.4 155.5h0M108.5 155.4h0M117.7 155.3h0M130.7 155.3h0M276.1 155.9h0M279.4 155.7h0M281.1 155.6h0M283.4 155.1h0M338.2 155.2h0M338.3 155.6h0M339.7 155.9h0M340.8 155.1h0M343.0 155.2h0M345.1 155.4h0M348.2 155.6h0M350.0 155.1h0M353.4 155.8h0M354.5 156.0h0M361.4 155.4h0M369.4 155.2h0M511.8 155.3h0M515.5 155.6h0M516.9 155.8h0M517.7 155.7h0M521.6 155.4h0M523.0 155.0h0M529.2 155.8h0M532.6 155.9h0M533.6 155.3h0M533.7 155.8h0M534.4 155.6h0M534.3 155.5h0M538.5 155.4h0M544.9 155.3h0M548.4 155.3h0M553.3 155.2h0M558.5 155.7h0M558.7 155.2h0M566.8 155.1h0M46.4 156.7h0M46.1 156.8h0M47.7 156.1h0M48.9 156.0h0M48.1 156.7h0M106.4 157.0h0M108.4 156.8h0M109.1 156.7h0M113.9 156.9h0M119.4 156.4h0M120.9 156.9h0M120.5 156.4h0M120.7 156.7h0M127.1 156.3h0M128.1 156.1h0M128.3 156.7h0M282.6 156.9h0M283.6 156.9h0M283.3 156.6h0M338.9 156.7h0M339.9 156.1h0M340.3 156.2h0M341.2 157.0h0M342.5 156.2h0M345.3 156.2h0M351.6 156.4h0M358.8 156.4h0M358.5 156.5h0M370.8 156.3h0M376.7 156.0h0M377.6 156.6h0M377.6 156.0h0M511.9 156.8h0M515.7 156.0h0M516.5 156.1h0M517.5 156.8h0M524.3 156.7h0M526.4 156.3h0M528.8 156.2h0M532.1 156.7h0M536.2 156.7h0M537.6 156.9h0M541.3 156.8h0M544.3 156.7h0M549.8 156.8h0M553.4 156.2h0M560.0 156.7h0M561.7 156.5h0M563.9 156.5h0M571.9 157.0h0M572.6 156.6h0M47.8 157.6h0M47.3 157.3h0M47.0 157.4h0M47.7 157.8h0M48.4 157.3h0M49.3 157.9h0M107.6 157.0h0M112.8 157.2h0M114.0 157.6h0M275.4 157.3h0M277.7 157.7h0M278.1 157.1h0M280.4 157.6h0M283.0 157.9h0M285.6 157.2h0M285.2 157.9h0M338.4 158.0h0M339.9 157.0h0M339.4 157.9h0M339.4 157.1h0M340.4 157.8h0M340.8 157.1h0M341.6 157.8h0M341.8 157.4h0M345.4 157.8h0M346.9 157.1h0M348.8 157.0h0M350.1 157.7h0M359.4 157.5h0M365.0 157.6h0M366.1 157.1h0M370.0 157.6h0M376.5 157.8h0M378.4 157.2h0M511.6 157.7h0M521.7 157.8h0M521.2 157.2h0M524.2 157.7h0M528.2 157.4h0M532.2 157.8h0M533.2 157.5h0M533.5 157.1h0M534.4 157.5h0M537.2 157.6h0M538.0 157.6h0M538.7 157.9h0M538.0 157.0h0M538.6 157.1h0M541.2 157.4h0M541.5 157.7h0M543.5 157.2h0M543.7 157.3h0M544.8 157.8h0M547.9 157.0h0M554.9 157.8h0M556.2 157.8h0M556.2 157.9h0M562.5 157.6h0M564.2 158.0h0M566.1 157.5h0M573.3 157.1h0M107.6 158.1h0M109.4 158.5h0M109.6 158.6h0M118.7 158.2h0M120.8 158.3h0M122.7 158.2h0M129.1 158.7h0M281.3 158.5h0M283.3 158.9h0M284.5 159.0h0M284.4 158.3h0M285.1 158.7h0M285.5 158.1h0M339.3 158.8h0M339.0 158.2h0M339.9 158.6h0M340.4 158.9h0M341.6 158.1h0M343.8 158.5h0M344.2 158.1h0M344.5 158.8h0M346.3 158.3h0M348.2 158.1h0M348.5 158.3h0M354.3 159.0h0M357.6 158.2h0M357.9 158.2h0M358.4 158.7h0M363.9 158.1h0M364.4 158.6h0M365.5 158.1h0M371.1 158.5h0M519.8 158.4h0M522.7 158.9h0M527.0 158.2h0M529.2 158.9h0M532.0 158.8h0M533.3 158.6h0M536.0 158.8h0M540.8 158.6h0M542.1 158.4h0M543.4 158.9h0M546.5 158.7h0M548.7 158.8h0M550.2 158.7h0M554.0 158.8h0M554.3 158.8h0M555.0 158.7h0M554.2 158.4h0M555.0 158.1h0M555.1 158.9h0M557.8 158.7h0M557.7 158.9h0M559.3 158.1h0M560.7 158.0h0M560.7 158.4h0M564.4 158.8h0M567.4 158.5h0M567.8 158.2h0M570.3 159.0h0M572.7 158.4h0M45.2 159.2h0M46.1 159.9h0M47.6 159.8h0M48.0 159.6h0M49.9 159.1h0M50.0 159.1h0M107.8 159.6h0M113.5 159.1h0M114.6 159.1h0M121.8 159.6h0M130.6 159.3h0M130.8 159.5h0M132.5 159.2h0M278.0 159.1h0M278.8 159.3h0M278.1 159.2h0M283.0 159.6h0M282.4 159.4h0M285.8 159.8h0M339.2 159.8h0M339.3 159.1h0M339.8 159.3h0M339.4 159.7h0M340.7 159.2h0M341.4 159.9h0M342.6 159.6h0M343.8 159.1h0M343.9 159.3h0M346.5 159.2h0M354.4 159.1h0M356.6 159.3h0M358.4 159.7h0M358.3 159.6h0M372.5 159.0h0M372.7 159.8h0M520.6 159.8h0M520.7 159.4h0M522.3 159.6h0M523.6 160.0h0M523.8 159.0h0M532.3 159.8h0M533.9 159.8h0M539.4 159.7h0M540.0 159.3h0M542.5 159.8h0M544.0 159.8h0M546.0 159.4h0M548.3 159.1h0M549.1 159.0h0M549.8 159.4h0M550.7 159.1h0M552.1 159.3h0M552.6 159.2h0M562.9 159.3h0M562.4 159.6h0M562.5 159.2h0M566.7 159.2h0M567.3 159.2h0M567.0 159.7h0M567.5 159.5h0M571.0 159.4h0M578.3 159.1h0M49.2 160.7h0M49.7 160.0h0M107.2 160.9h0M107.9 160.1h0M107.5 160.0h0M109.4 160.8h0M113.4 160.2h0M114.7 160.6h0M121.5 160.7h0M124.0 160.6h0M284.6 160.8h0M285.9 160.2h0M285.3 160.7h0M286.1 160.3h0M340.4 160.3h0M340.9 160.9h0M341.3 160.2h0M342.5 160.9h0M342.4 160.8h0M345.9 160.4h0M352.8 160.2h0M352.2 160.4h0M368.0 160.0h0M369.7 160.2h0M371.2 160.5h0M373.4 160.6h0M377.7 160.5h0M514.8 160.2h0M518.2 161.0h0M523.0 160.9h0M525.6 160.8h0M526.6 160.9h0M529.4 160.5h0M532.1 160.6h0M536.3 160.5h0M538.3 160.5h0M542.4 160.4h0M545.1 160.7h0M547.0 160.2h0M547.5 160.7h0M548.4 160.6h0M549.0 161.0h0M549.0 160.2h0M552.0 160.6h0M551.1 160.3h0M551.6 160.6h0M554.1 160.2h0M561.3 160.3h0M561.7 160.6h0M561.7 160.9h0M561.3 160.5h0M565.0 160.8h0M565.9 160.0h0M566.4 160.0h0M566.6 160.7h0M567.2 160.1h0M568.3 160.8h0M569.7 160.8h0M571.6 160.5h0M48.1 161.3h0M49.8 161.9h0M50.0 161.3h0M49.7 161.4h0M51.1 161.6h0M107.7 161.8h0M107.7 161.7h0M108.8 161.9h0M109.7 161.8h0M111.1 161.1h0M117.8 161.8h0M120.3 161.8h0M121.6 161.7h0M135.1 161.6h0M284.8 161.0h0M286.3 161.0h0M342.5 162.0h0M342.3 161.6h0M343.4 161.5h0M344.7 161.2h0M348.0 161.1h0M352.3 161.8h0M353.2 161.5h0M360.9 161.6h0M380.0 161.3h0M515.7 161.0h0M519.3 161.8h0M519.5 161.8h0M522.3 161.8h0M522.1 161.2h0M523.5 161.7h0M524.4 161.2h0M528.1 161.3h0M530.2 161.7h0M533.4 161.6h0M533.0 161.8h0M542.4 161.3h0M544.4 161.2h0M545.7 161.0h0M563.7 161.3h0M564.9 161.4h0M566.2 161.1h0M568.6 161.5h0M569.4 161.5h0M569.6 161.7h0M571.1 161.6h0M574.3 161.5h0M581.3 161.1h0M48.0 162.9h0M49.5 162.9h0M50.9 162.9h0M50.4 162.8h0M108.1 162.5h0M117.8 162.9h0M120.3 162.1h0M121.3 163.0h0M122.6 162.4h0M130.9 162.8h0M130.7 162.3h0M131.3 162.8h0M133.7 162.8h0M133.0 162.3h0M277.5 162.5h0M283.6 162.2h0M287.9 162.0h0M287.1 162.5h0M340.4 162.5h0M342.0 162.9h0M342.0 162.8h0M343.2 162.6h0M344.2 162.2h0M349.3 162.9h0M351.7 162.3h0M353.4 162.8h0M354.8 162.6h0M355.7 163.0h0M356.6 162.0h0M359.7 162.3h0M360.3 162.2h0M360.5 162.3h0M377.0 162.5h0M514.2 162.5h0M514.5 162.5h0M514.5 162.7h0M515.3 162.8h0M516.1 162.4h0M517.2 162.4h0M527.9 162.8h0M529.7 162.7h0M534.4 163.0h0M537.9 162.8h0M543.6 162.8h0M544.4 162.1h0M544.4 162.7h0M565.9 162.7h0M567.6 162.1h0M569.3 163.0h0M572.1 162.9h0M572.0 162.1h0M574.9 162.7h0M581.2 162.9h0M51.3 163.6h0M51.5 163.6h0M107.7 163.1h0M108.1 163.3h0M112.9 163.2h0M113.1 163.6h0M117.9 163.3h0M341.3 163.8h0M342.5 163.6h0M343.1 163.4h0M344.6 163.9h0M345.1 163.5h0M346.2 163.9h0M350.7 163.6h0M357.8 163.1h0M369.5 163.7h0M371.9 163.4h0M373.8 163.7h0M513.8 163.7h0M514.2 163.8h0M519.6 163.3h0M520.6 163.2h0M520.2 163.0h0M523.0 163.7h0M524.5 163.0h0M524.5 163.7h0M524.1 163.9h0M533.6 163.2h0M533.4 163.8h0M535.3 163.1h0M539.0 163.2h0M542.0 163.4h0M543.5 163.9h0M543.3 163.3h0M543.1 163.3h0M544.2 163.9h0M568.5 163.1h0M568.6 163.3h0M568.3 163.3h0M568.1 163.4h0M571.4 163.5h0M574.5 163.3h0M577.4 163.8h0M580.3 163.3h0M52.2 164.7h0M52.5 164.6h0M52.3 164.9h0M52.7 164.6h0M108.8 164.0h0M110.6 164.9h0M115.7 164.8h0M115.6 164.1h0M120.0 164.9h0M129.3 164.5h0M130.7 164.7h0M137.8 164.8h0M138.2 164.5h0M276.7 164.7h0M279.0 164.4h0M282.9 164.3h0M287.4 164.0h0M288.6 164.3h0M341.2 164.3h0M345.9 164.4h0M346.9 164.4h0M346.8 164.5h0M348.1 164.8h0M348.5 164.6h0M350.3 164.7h0M350.4 164.9h0M351.4 164.2h0M352.8 164.8h0M352.2 164.4h0M356.9 164.8h0M367.1 164.8h0M518.0 164.4h0M521.1 164.9h0M525.9 164.8h0M525.7 164.4h0M532.6 164.4h0M533.8 164.9h0M534.0 164.9h0M543.2 164.1h0M573.3 164.9h0M574.1 164.9h0M574.7 164.7h0M51.1 165.2h0M109.0 165.8h0M116.1 165.2h0M126.3 166.0h0M130.5 165.7h0M282.5 165.6h0M284.3 165.1h0M344.0 165.7h0M343.3 165.4h0M343.2 165.8h0M344.2 165.6h0M348.5 165.4h0M350.3 165.7h0M354.4 165.3h0M355.3 165.8h0M359.5 165.5h0M368.5 165.2h0M379.5 165.1h0M512.1 165.3h0M518.3 165.1h0M519.6 165.0h0M519.9 165.9h0M522.0 165.7h0M529.6 165.6h0M531.9 165.6h0M531.4 165.1h0M536.0 165.7h0M540.2 165.7h0M542.3 165.0h0M543.0 166.0h0M542.9 165.1h0M571.4 165.7h0M575.2 165.3h0M576.7 165.5h0M577.7 165.1h0M53.4 166.4h0M53.7 167.0h0M54.9 166.9h0M109.4 166.1h0M111.7 166.1h0M120.1 166.7h0M126.3 166.4h0M129.5 167.0h0M136.5 166.3h0M138.7 166.6h0M278.3 166.3h0M289.2 166.6h0M289.4 166.7h0M289.2 166.2h0M342.3 166.5h0M343.7 166.6h0M344.8 166.9h0M345.2 166.8h0M346.1 166.7h0M346.9 166.7h0M353.5 166.0h0M358.6 166.8h0M365.8 166.4h0M375.7 166.4h0M375.8 166.1h0M379.5 166.8h0M380.7 166.0h0M380.8 166.3h0M512.9 166.7h0M517.4 166.2h0M518.4 166.5h0M526.1 166.2h0M529.3 166.1h0M529.3 166.3h0M530.9 166.4h0M530.6 166.9h0M530.8 166.4h0M532.1 166.5h0M534.2 166.6h0M535.2 166.4h0M541.7 166.5h0M572.5 166.5h0M572.3 166.5h0M572.3 166.2h0M574.7 166.3h0M575.0 166.6h0M577.3 166.0h0M582.5 166.6h0M584.7 166.7h0M584.6 166.0h0M54.0 167.5h0M55.0 167.6h0M54.4 167.8h0M55.6 167.3h0M108.7 167.0h0M108.1 167.0h0M111.5 167.1h0M114.1 168.0h0M115.9 167.6h0M115.2 167.1h0M121.0 167.8h0M122.7 167.6h0M140.9 167.9h0M277.6 167.7h0M277.9 167.7h0M287.7 167.1h0M342.5 167.3h0M342.9 167.2h0M342.5 167.6h0M342.4 167.2h0M343.9 167.3h0M344.1 167.2h0M345.6 167.2h0M348.6 168.0h0M352.4 167.1h0M359.8 167.1h0M364.2 167.7h0M371.7 167.1h0M375.5 167.6h0M520.8 167.2h0M525.3 167.4h0M526.7 167.2h0M527.5 167.5h0M527.2 167.4h0M529.1 167.4h0M532.5 167.3h0M533.5 167.5h0M538.3 167.7h0M540.0 167.1h0M539.2 167.0h0M540.5 167.3h0M572.6 167.6h0M572.8 167.9h0M574.8 167.0h0M578.4 167.4h0M579.7 167.6h0M579.6 167.5h0M584.5 167.5h0M53.7 168.5h0M53.2 168.1h0M54.4 168.8h0M55.1 168.8h0M55.7 168.1h0M109.0 168.7h0M110.5 168.3h0M110.2 168.8h0M110.7 168.5h0M111.1 168.5h0M111.8 168.1h0M113.9 168.3h0M117.9 168.7h0M118.6 168.1h0M120.8 168.2h0M122.8 168.8h0M125.7 168.6h0M127.3 168.4h0M133.7 168.7h0M133.3 168.6h0M133.7 168.2h0M289.3 168.3h0M289.4 168.2h0M289.3 168.5h0M343.8 168.5h0M343.6 168.5h0M344.2 168.7h0M345.6 168.9h0M345.8 168.6h0M346.2 168.9h0M347.9 168.2h0M347.8 168.6h0M352.2 168.6h0M354.2 168.7h0M357.3 168.9h0M357.4 168.4h0M358.8 168.3h0M359.4 168.4h0M360.4 168.5h0M361.4 168.7h0M366.1 168.2h0M374.1 169.0h0M513.7 168.2h0M515.0 168.1h0M524.3 168.1h0M527.5 168.3h0M536.4 168.1h0M539.2 168.6h0M573.2 168.5h0M576.3 168.5h0M580.8 168.6h0M583.1 168.4h0M583.7 168.8h0M585.3 168.9h0M587.2 168.3h0M54.9 169.8h0M56.1 169.0h0M56.6 169.8h0M58.6 169.9h0M110.7 169.5h0M111.1 169.0h0M111.2 169.7h0M112.5 169.0h0M118.6 169.5h0M131.8 169.9h0M134.9 169.8h0M136.7 169.2h0M139.0 169.1h0M141.4 169.5h0M283.4 169.7h0M287.6 169.1h0M343.5 169.2h0M343.7 169.0h0M344.8 169.4h0M344.6 169.1h0M350.2 169.9h0M360.2 169.6h0M361.1 169.3h0M365.8 169.6h0M369.7 170.0h0M375.1 169.5h0M377.3 169.9h0M514.7 169.8h0M516.0 169.2h0M522.8 169.9h0M524.3 169.1h0M524.5 169.8h0M525.7 169.9h0M530.6 169.4h0M531.2 169.5h0M532.4 169.7h0M534.6 169.2h0M536.6 169.8h0M537.9 169.3h0M539.1 169.4h0M539.3 169.4h0M574.5 169.9h0M578.2 169.2h0M578.9 169.1h0M579.6 169.2h0M55.8 171.0h0M56.2 170.7h0M59.4 171.0h0M111.1 171.0h0M114.9 170.8h0M115.3 170.1h0M116.7 170.0h0M124.4 170.1h0M125.0 170.2h0M126.8 170.4h0M127.9 170.9h0M131.6 170.6h0M134.6 170.1h0M137.9 170.0h0M282.4 170.1h0M286.4 170.9h0M286.7 170.6h0M290.6 170.1h0M290.5 170.6h0M290.6 170.8h0M344.2 170.8h0M346.9 170.7h0M346.2 170.8h0M346.6 170.9h0M350.6 170.2h0M350.2 170.9h0M352.3 170.7h0M353.3 170.5h0M354.3 170.7h0M356.1 170.1h0M358.3 170.3h0M358.2 170.3h0M360.0 170.5h0M360.2 170.8h0M361.5 170.1h0M364.0 170.1h0M365.2 170.5h0M366.0 170.4h0M366.3 170.2h0M366.9 170.3h0M372.5 170.7h0M374.9 170.9h0M380.3 170.9h0M380.6 170.6h0M518.0 170.4h0M526.3 170.3h0M528.6 170.5h0M529.4 170.6h0M529.1 170.8h0M532.6 170.1h0M537.2 170.5h0M538.0 170.5h0M538.6 171.0h0M538.0 170.7h0M575.3 170.6h0M575.4 170.0h0M577.7 170.6h0M578.1 170.9h0M578.3 170.1h0M578.8 170.3h0M580.3 170.4h0M580.2 170.8h0M590.8 171.0h0M58.3 171.1h0M60.4 171.8h0M61.0 171.4h0M110.8 171.8h0M115.7 171.9h0M116.6 171.8h0M117.6 171.0h0M118.7 171.2h0M122.1 171.1h0M123.5 171.4h0M124.3 171.8h0M131.6 171.6h0M133.9 171.2h0M136.3 171.1h0M137.0 171.7h0M141.8 171.9h0M141.7 171.2h0M290.7 172.0h0M290.8 171.3h0M291.3 171.9h0M291.7 171.2h0M291.8 171.4h0M345.1 171.9h0M345.2 171.8h0M346.6 171.4h0M346.5 171.4h0M346.4 171.0h0M346.5 171.7h0M347.8 171.9h0M348.7 171.4h0M348.9 171.0h0M348.4 171.9h0M349.6 171.3h0M349.9 171.7h0M352.8 171.5h0M352.8 171.2h0M356.2 171.2h0M356.1 171.2h0M358.4 171.1h0M359.9 171.9h0M362.5 171.1h0M363.9 172.0h0M367.4 171.3h0M373.8 171.6h0M517.8 171.2h0M519.1 171.5h0M521.5 171.0h0M521.2 171.5h0M525.4 172.0h0M527.0 171.6h0M529.6 171.6h0M532.3 172.0h0M535.7 171.5h0M535.2 171.1h0M535.9 171.2h0M576.2 171.8h0M576.9 171.0h0M579.4 171.1h0M582.6 171.8h0M584.4 171.3h0M585.3 171.5h0M586.8 171.3h0M587.6 171.6h0M59.5 172.3h0M59.7 172.8h0M61.9 172.8h0M61.3 172.7h0M111.3 172.4h0M111.3 172.6h0M112.9 172.5h0M112.2 172.7h0M113.2 172.0h0M114.8 172.0h0M114.1 172.1h0M126.2 172.4h0M131.0 172.1h0M281.7 172.7h0M283.0 172.7h0M291.7 172.4h0M344.3 172.2h0M345.8 172.3h0M345.7 172.1h0M350.9 172.6h0M356.4 172.6h0M356.5 172.3h0M365.8 172.6h0M367.4 172.2h0M368.9 173.0h0M377.3 172.5h0M521.6 172.2h0M522.5 172.5h0M523.7 172.6h0M523.2 172.2h0M524.5 173.0h0M532.4 172.5h0M535.7 172.0h0M536.8 172.3h0M536.6 172.4h0M577.5 172.4h0M577.3 172.5h0M578.4 172.6h0M579.3 172.1h0M581.9 172.9h0M582.4 172.6h0M583.8 172.5h0M591.0 172.2h0M57.2 173.2h0M62.4 173.4h0M113.8 173.4h0M115.6 173.3h0M115.8 173.9h0M118.5 173.2h0M118.4 173.4h0M119.8 173.5h0M121.9 173.1h0M126.2 173.8h0M138.6 173.0h0M285.4 173.4h0M288.5 173.8h0M291.7 173.5h0M292.2 173.2h0M292.7 173.5h0M345.6 173.5h0M346.0 173.7h0M346.6 173.3h0M346.2 173.6h0M347.6 173.7h0M354.0 173.2h0M353.4 173.4h0M354.7 173.9h0M357.2 173.9h0M359.2 173.8h0M360.9 173.9h0M362.6 173.5h0M364.5 173.4h0M367.9 173.5h0M367.4 173.4h0M367.4 173.9h0M369.6 173.4h0M371.1 173.6h0M373.2 173.8h0M377.4 173.0h0M380.6 173.7h0M518.2 173.9h0M519.3 173.5h0M520.6 173.5h0M522.2 173.7h0M528.6 173.5h0M529.2 173.9h0M530.5 173.0h0M534.6 173.5h0M578.1 173.9h0M581.0 173.3h0M580.6 173.3h0M583.5 173.8h0M584.8 173.1h0M585.2 173.9h0M586.8 174.0h0M587.5 173.3h0M587.6 173.3h0M589.5 173.1h0M57.2 174.9h0M58.0 174.1h0M63.3 174.0h0M63.1 174.0h0M65.7 174.1h0M113.6 174.6h0M114.2 174.0h0M114.1 174.6h0M119.9 174.5h0M125.8 174.6h0M132.5 174.2h0M141.5 174.0h0M282.4 174.5h0M283.7 174.2h0M292.3 174.9h0M292.8 174.2h0M345.5 174.9h0M347.4 174.4h0M348.5 174.5h0M349.9 174.8h0M350.4 174.4h0M350.4 174.3h0M352.5 174.3h0M352.2 174.3h0M353.8 174.0h0M353.4 174.8h0M353.2 174.3h0M358.6 174.2h0M358.8 174.7h0M362.8 174.9h0M363.7 174.2h0M372.0 174.7h0M373.7 174.5h0M373.5 174.1h0M380.0 174.3h0M382.6 174.7h0M518.1 174.8h0M519.4 174.5h0M521.7 174.7h0M523.6 174.2h0M525.5 175.0h0M527.4 174.5h0M528.8 174.8h0M531.3 174.3h0M532.8 174.1h0M534.2 174.8h0M535.1 174.7h0M579.9 174.8h0M579.9 174.7h0M582.7 174.9h0M588.6 174.9h0M589.8 174.1h0M596.1 174.8h0M60.9 175.3h0M60.6 175.5h0M60.7 175.5h0M62.1 175.1h0M63.8 175.6h0M64.2 175.6h0M66.5 175.1h0M114.2 175.3h0M120.8 175.6h0M125.7 175.3h0M128.3 175.3h0M129.4 175.2h0M134.6 175.7h0M136.6 175.3h0M138.5 175.4h0M145.1 175.2h0M288.9 175.8h0M290.4 175.2h0M346.5 175.2h0M346.1 175.1h0M347.4 175.9h0M347.0 175.5h0M350.7 176.0h0M352.0 175.9h0M351.8 175.1h0M352.0 175.4h0M352.9 175.1h0M353.3 175.7h0M354.4 175.9h0M354.3 176.0h0M355.5 175.4h0M358.3 175.0h0M361.9 175.4h0M363.0 175.2h0M363.2 175.4h0M364.1 175.4h0M369.3 175.9h0M373.0 175.3h0M374.3 175.4h0M377.6 175.1h0M378.6 175.1h0M380.7 175.8h0M518.0 175.6h0M524.8 175.9h0M524.7 175.8h0M526.2 175.8h0M527.0 175.8h0M531.8 175.1h0M583.2 175.2h0M583.2 175.6h0M588.6 175.2h0M589.3 175.4h0M590.9 176.0h0M595.4 175.7h0M64.2 176.0h0M65.7 176.8h0M69.1 176.8h0M69.5 176.8h0M128.8 176.3h0M131.7 176.1h0M138.1 176.0h0M142.4 176.2h0M287.2 176.3h0M287.5 176.7h0M292.3 176.4h0M292.7 176.2h0M292.9 176.1h0M293.3 177.0h0M347.4 176.1h0M349.9 176.4h0M350.1 176.1h0M353.5 176.3h0M353.7 176.5h0M356.4 176.6h0M357.8 176.1h0M360.8 176.8h0M364.7 176.4h0M364.4 176.5h0M368.7 176.7h0M371.2 176.6h0M375.4 176.5h0M376.8 176.1h0M378.7 176.5h0M378.2 177.0h0M379.7 176.3h0M383.2 176.6h0M384.4 176.6h0M518.9 176.5h0M521.5 176.8h0M522.8 176.9h0M525.3 176.9h0M529.4 176.1h0M530.0 176.3h0M530.6 176.7h0M533.6 176.6h0M583.5 176.4h0M583.9 176.3h0M585.7 176.4h0M587.3 176.4h0M588.4 176.4h0M590.8 176.1h0M64.1 177.5h0M70.3 177.5h0M70.3 177.6h0M117.5 177.2h0M117.9 177.5h0M122.7 177.2h0M129.1 177.8h0M139.6 177.9h0M146.5 177.8h0M285.9 178.0h0M292.3 177.5h0M294.0 177.1h0M293.6 177.6h0M346.9 177.4h0M347.5 177.2h0M348.4 177.8h0M348.1 177.0h0M349.7 177.8h0M352.4 178.0h0M356.3 177.7h0M357.1 177.1h0M360.3 177.8h0M362.2 177.5h0M363.1 177.1h0M365.0 177.5h0M366.2 177.7h0M368.5 177.4h0M370.0 177.2h0M375.9 177.9h0M376.9 177.6h0M377.2 178.0h0M379.1 177.5h0M380.0 177.2h0M381.2 177.3h0M387.2 177.6h0M389.1 177.5h0M390.1 177.3h0M394.9 177.4h0M518.1 177.0h0M524.9 177.6h0M526.3 177.1h0M526.9 177.0h0M531.9 177.1h0M532.5 177.4h0M584.7 177.3h0M586.1 177.2h0M591.6 177.3h0M592.7 177.8h0M595.9 177.1h0M66.5 178.8h0M66.9 178.2h0M69.3 178.6h0M70.9 178.8h0M70.9 178.9h0M116.7 178.2h0M117.1 178.4h0M119.7 178.3h0M119.2 178.6h0M121.5 178.4h0M122.5 178.1h0M122.9 178.7h0M126.8 178.4h0M138.5 178.7h0M140.4 178.2h0M143.7 178.7h0M284.8 178.7h0M289.5 178.7h0M347.4 178.9h0M347.9 179.0h0M353.1 178.9h0M353.9 178.6h0M354.0 178.6h0M357.9 178.4h0M357.3 178.2h0M357.4 178.4h0M358.9 178.1h0M358.2 178.5h0M358.3 178.6h0M360.1 178.9h0M360.6 178.4h0M362.3 178.7h0M363.2 178.4h0M370.1 178.7h0M376.7 178.6h0M377.3 178.2h0M385.2 178.6h0M387.2 178.5h0M389.9 178.6h0M389.0 178.7h0M393.0 178.5h0M519.3 178.7h0M523.3 178.1h0M527.0 179.0h0M530.8 178.8h0M530.5 178.9h0M530.7 178.6h0M531.7 178.4h0M586.1 178.3h0M588.4 178.8h0M589.8 178.3h0M590.4 178.5h0M591.6 178.5h0M591.4 178.5h0M596.9 178.2h0M597.8 178.3h0M74.1 179.6h0M74.9 179.2h0M117.5 179.8h0M117.1 179.4h0M119.0 179.7h0M125.7 179.4h0M136.2 179.5h0M136.9 179.8h0M140.5 179.4h0M283.9 179.9h0M284.1 179.9h0M294.6 179.9h0M294.8 179.8h0M294.5 179.0h0M347.3 179.5h0M350.1 179.3h0M351.3 179.2h0M352.3 179.2h0M353.0 179.6h0M356.2 179.0h0M357.0 179.0h0M358.3 179.4h0M363.9 179.0h0M369.9 179.3h0M374.3 179.4h0M379.9 179.4h0M379.8 179.8h0M380.9 179.7h0M384.4 179.6h0M394.4 179.4h0M398.0 179.9h0M399.1 179.7h0M400.9 179.5h0M401.4 179.4h0M403.5 179.1h0M406.3 179.1h0M407.6 179.7h0M521.3 179.8h0M522.0 179.6h0M523.8 179.6h0M526.9 179.6h0M527.7 179.3h0M530.3 179.0h0M588.1 179.9h0M588.4 179.6h0M588.3 179.8h0M589.2 179.7h0M591.2 179.8h0M591.6 179.3h0M591.3 179.8h0M591.2 179.1h0M592.9 179.9h0M594.0 179.8h0M594.8 179.5h0M595.2 179.8h0M596.5 179.5h0M599.2 179.5h0M602.8 179.7h0M69.2 180.6h0M74.5 180.0h0M75.7 180.8h0M118.1 180.2h0M121.3 180.7h0M122.4 180.2h0M132.0 180.3h0M283.5 180.6h0M287.2 180.1h0M291.0 180.1h0M295.5 180.9h0M295.1 180.6h0M347.1 180.8h0M347.7 180.9h0M347.4 180.3h0M348.7 180.6h0M348.6 180.6h0M348.7 180.4h0M349.4 180.7h0M350.6 181.0h0M350.5 180.6h0M350.8 180.8h0M351.3 180.5h0M352.2 180.3h0M354.4 180.6h0M355.1 180.9h0M355.0 180.4h0M358.0 180.3h0M357.1 180.1h0M360.3 180.8h0M360.2 180.8h0M361.7 180.7h0M362.0 180.6h0M363.7 181.0h0M365.0 180.5h0M367.6 180.0h0M368.6 180.4h0M368.0 180.8h0M374.8 180.6h0M377.3 180.2h0M378.2 180.1h0M385.9 180.4h0M385.1 181.0h0M385.7 180.9h0M386.8 180.5h0M391.9 180.6h0M393.0 180.8h0M394.4 180.3h0M399.5 180.4h0M401.9 180.4h0M404.9 180.4h0M405.1 181.0h0M410.6 180.3h0M517.5 180.9h0M521.2 180.2h0M521.9 180.7h0M526.0 180.8h0M529.7 180.0h0M529.5 180.2h0M532.3 181.0h0M591.9 180.8h0M592.7 180.9h0M596.5 180.3h0M597.4 180.1h0M68.7 182.0h0M70.5 181.6h0M71.1 181.8h0M74.5 181.2h0M103.7 181.8h0M106.1 181.9h0M106.6 181.6h0M106.7 181.9h0M108.0 181.4h0M108.7 181.9h0M110.1 181.0h0M111.2 181.1h0M114.6 181.8h0M114.1 181.4h0M114.5 181.6h0M114.4 181.6h0M117.4 181.7h0M117.7 181.0h0M119.3 181.6h0M120.4 181.6h0M120.6 181.9h0M121.8 181.3h0M123.8 181.6h0M123.6 181.5h0M137.3 182.0h0M138.1 181.9h0M141.0 181.6h0M140.1 181.7h0M144.2 181.9h0M146.4 181.3h0M148.4 181.6h0M149.7 181.3h0M150.8 181.4h0M285.4 181.6h0M289.1 181.3h0M290.6 181.1h0M292.7 181.8h0M349.4 181.8h0M351.1 181.8h0M353.2 181.8h0M353.9 181.9h0M354.1 181.3h0M355.6 181.8h0M356.9 181.3h0M356.1 181.5h0M357.8 181.9h0M357.0 181.2h0M357.1 181.7h0M359.1 181.1h0M359.8 181.8h0M360.5 181.0h0M360.4 181.2h0M361.3 181.1h0M361.3 181.0h0M364.5 181.3h0M364.7 181.5h0M364.3 181.5h0M365.2 181.2h0M365.4 181.4h0M370.9 181.7h0M373.1 181.9h0M373.3 181.6h0M374.3 181.4h0M376.9 181.6h0M376.1 181.8h0M378.5 181.2h0M379.0 181.8h0M382.6 181.2h0M383.6 181.3h0M386.6 181.1h0M387.4 181.8h0M389.5 181.7h0M390.0 181.8h0M390.7 181.2h0M394.6 181.1h0M394.5 181.5h0M399.0 181.0h0M408.1 181.1h0M411.5 181.8h0M519.2 181.7h0M530.1 181.6h0M531.1 181.6h0M594.5 181.2h0M594.9 181.4h0M594.5 181.9h0M594.5 181.5h0M596.4 181.0h0M596.3 181.3h0M599.0 181.8h0M599.1 181.3h0M601.4 181.2h0M603.3 181.7h0M70.9 182.1h0M70.3 182.5h0M76.0 182.7h0M76.7 182.8h0M77.4 182.1h0M77.9 182.3h0M79.2 182.4h0M79.1 182.3h0M100.8 182.9h0M103.8 182.8h0M104.1 182.9h0M104.0 182.5h0M104.0 182.6h0M105.2 182.2h0M105.8 182.0h0M106.0 183.0h0M107.2 182.7h0M108.3 182.4h0M109.7 182.1h0M112.6 182.8h0M112.2 182.4h0M114.0 182.4h0M117.6 183.0h0M117.0 182.1h0M118.2 182.3h0M120.6 182.5h0M126.2 182.9h0M127.8 182.1h0M128.6 182.2h0M129.7 182.5h0M132.6 182.0h0M147.6 182.2h0M149.7 182.7h0M153.5 182.1h0M294.2 182.2h0M295.5 182.9h0M295.6 182.4h0M296.0 182.8h0M296.2 182.9h0M349.5 182.7h0M349.9 182.5h0M353.5 182.9h0M353.7 182.3h0M354.3 182.4h0M358.1 182.1h0M359.7 182.9h0M360.1 182.8h0M360.5 182.0h0M360.1 182.9h0M361.7 182.8h0M361.1 182.9h0M362.7 182.3h0M363.8 182.8h0M364.7 182.4h0M364.9 182.9h0M364.8 182.8h0M365.2 182.7h0M366.3 182.8h0M366.8 182.8h0M368.5 183.0h0M369.6 182.6h0M371.8 182.7h0M371.7 182.3h0M372.4 182.4h0M372.6 182.2h0M374.3 182.4h0M375.4 183.0h0M378.0 183.0h0M380.1 182.4h0M381.3 182.2h0M382.7 182.3h0M382.8 182.7h0M388.5 182.8h0M391.8 182.3h0M392.8 182.4h0M393.5 182.6h0M401.4 182.8h0M403.9 182.7h0M405.1 182.8h0M405.2 182.7h0M407.0 182.8h0M408.0 182.1h0M414.6 182.1h0M516.4 183.0h0M518.4 183.0h0M521.4 182.9h0M526.3 182.2h0M526.1 182.6h0M527.5 182.3h0M528.3 182.1h0M596.2 182.6h0M596.7 182.4h0M597.8 182.7h0M598.7 182.5h0M606.0 182.5h0M76.1 183.9h0M77.7 183.6h0M79.3 183.1h0M80.6 183.6h0M81.6 183.8h0M99.3 184.0h0M100.8 183.2h0M100.7 183.1h0M101.5 183.5h0M103.2 183.1h0M111.2 183.8h0M112.8 183.9h0M115.5 183.3h0M119.2 183.7h0M120.1 183.7h0M120.2 183.2h0M123.1 183.7h0M128.1 183.5h0M129.8 183.2h0M129.6 183.0h0M130.2 183.2h0M132.5 183.3h0M139.3 183.2h0M140.7 183.6h0M141.5 183.0h0M144.9 183.5h0M146.1 183.8h0M150.7 183.8h0M154.1 183.8h0M156.6 183.2h0M286.8 183.9h0M294.7 183.6h0M296.9 183.4h0M296.6 183.5h0M346.6 183.4h0M346.8 183.5h0M348.7 183.2h0M351.3 183.8h0M351.9 183.1h0M353.1 183.3h0M354.3 183.4h0M354.8 183.3h0M356.4 183.6h0M356.3 183.6h0M357.1 183.9h0M358.4 183.6h0M358.4 183.2h0M359.8 183.5h0M359.6 183.1h0M362.2 183.8h0M363.1 183.6h0M364.7 183.7h0M367.3 183.4h0M368.0 183.9h0M367.9 183.4h0M367.8 183.0h0M367.7 183.8h0M372.7 183.9h0M374.0 183.2h0M374.3 183.1h0M375.8 184.0h0M377.9 183.2h0M379.9 183.5h0M379.0 183.8h0M380.8 183.3h0M381.5 183.3h0M382.5 183.9h0M383.0 184.0h0M386.7 183.3h0M390.4 183.5h0M391.6 183.0h0M392.2 183.8h0M395.8 184.0h0M396.5 183.8h0M399.1 183.1h0M402.7 183.2h0M405.2 184.0h0M406.8 183.3h0M407.3 183.6h0M407.1 183.7h0M408.3 183.8h0M517.0 183.9h0M520.1 183.7h0M520.8 183.4h0M527.0 183.2h0M527.0 183.5h0M528.4 183.9h0M530.2 183.7h0M597.2 183.6h0M598.3 184.0h0M598.5 183.5h0M599.8 183.6h0M600.7 183.9h0M601.9 183.5h0M601.2 183.9h0M601.4 183.8h0M603.3 183.4h0M605.1 183.7h0M606.3 183.7h0M606.2 183.6h0M78.3 184.9h0M79.1 184.4h0M80.3 184.0h0M82.7 184.5h0M83.6 184.9h0M84.7 184.0h0M85.1 185.0h0M87.5 184.8h0M98.2 185.0h0M99.1 184.4h0M99.0 184.4h0M101.3 184.7h0M103.0 184.7h0M105.2 184.9h0M110.7 185.0h0M111.7 184.7h0M114.8 184.5h0M116.5 185.0h0M125.2 184.8h0M126.0 184.5h0M126.7 184.9h0M128.5 184.6h0M131.0 185.0h0M135.5 184.2h0M136.5 184.1h0M144.5 184.5h0M145.6 185.0h0M145.1 184.7h0M153.8 184.9h0M154.1 184.1h0M293.9 184.5h0M294.0 185.0h0M295.2 184.3h0M348.0 184.2h0M349.4 184.5h0M350.2 184.5h0M350.4 184.5h0M350.0 184.9h0M352.4 184.7h0M352.4 184.3h0M353.7 184.3h0M353.6 184.4h0M354.7 184.4h0M355.1 184.4h0M357.4 184.6h0M361.7 184.8h0M363.6 184.1h0M364.2 184.3h0M364.0 184.8h0M364.5 184.2h0M364.2 184.5h0M365.7 184.1h0M366.1 184.2h0M369.5 184.4h0M371.3 184.1h0M372.8 184.2h0M373.9 184.9h0M375.2 184.1h0M375.8 184.1h0M376.6 184.3h0M376.0 184.7h0M377.7 184.1h0M379.7 184.5h0M381.3 184.3h0M381.1 184.9h0M387.2 184.8h0M388.1 184.1h0M388.6 184.9h0M393.9 184.3h0M396.2 185.0h0M404.8 185.0h0M405.4 184.7h0M413.7 184.6h0M415.9 184.3h0M524.1 184.9h0M527.7 184.8h0M527.1 184.2h0M529.6 184.5h0M530.1 184.8h0M599.0 184.2h0M602.1 184.3h0M605.9 185.0h0M605.7 184.6h0M607.6 184.1h0M77.0 185.1h0M76.1 185.8h0M80.5 185.4h0M81.5 185.4h0M81.5 185.2h0M84.0 185.1h0M90.9 185.2h0M90.4 185.1h0M92.8 185.6h0M92.7 185.5h0M95.8 185.8h0M96.4 185.4h0M101.5 185.7h0M103.3 185.8h0M107.4 185.1h0M108.3 185.8h0M114.1 185.8h0M117.6 185.2h0M118.2 185.5h0M124.3 185.7h0M125.6 185.3h0M127.6 185.3h0M128.3 185.2h0M129.0 185.1h0M132.8 185.4h0M138.0 185.7h0M140.4 185.5h0M142.0 185.4h0M142.2 185.0h0M147.3 185.3h0M153.2 185.1h0M157.1 186.0h0M294.2 185.3h0M299.3 185.7h0M302.2 185.5h0M302.2 186.0h0M303.9 185.9h0M304.6 186.0h0M306.2 185.3h0M307.9 185.4h0M309.3 185.9h0M309.9 185.3h0M314.5 186.0h0M314.8 185.4h0M314.4 185.2h0M315.6 185.6h0M317.9 185.3h0M317.9 185.8h0M317.3 185.7h0M319.0 185.9h0M319.4 185.8h0M320.7 185.2h0M320.0 185.1h0M323.4 185.3h0M324.5 185.2h0M326.8 185.9h0M326.2 185.1h0M326.4 185.2h0M328.5 185.8h0M330.0 185.5h0M329.5 185.5h0M330.7 185.7h0M330.1 185.9h0M333.5 185.3h0M335.9 185.1h0M338.7 185.3h0M339.1 185.9h0M342.2 185.8h0M344.0 185.0h0M345.0 185.2h0M345.2 185.3h0M345.1 185.6h0M345.5 185.7h0M345.5 185.8h0M346.3 185.4h0M346.5 185.3h0M347.8 185.7h0M347.9 185.7h0M349.8 185.9h0M351.1 185.9h0M353.8 185.8h0M354.9 185.3h0M354.6 185.2h0M357.2 185.6h0M358.6 185.5h0M359.5 185.6h0M362.9 185.8h0M363.6 185.2h0M367.2 185.0h0M368.2 185.6h0M370.4 185.6h0M371.9 186.0h0M371.5 185.3h0M372.2 185.6h0M375.9 185.8h0M375.2 185.5h0M380.4 185.3h0M381.0 185.6h0M389.0 185.7h0M389.4 185.7h0M390.5 185.9h0M396.1 186.0h0M396.3 185.6h0M399.1 185.6h0M399.4 185.5h0M399.9 185.5h0M401.6 185.8h0M406.1 185.7h0M411.0 185.7h0M413.6 185.3h0M417.5 185.3h0M419.0 185.4h0M418.3 185.3h0M519.3 185.6h0M522.6 185.1h0M523.7 185.7h0M524.9 185.1h0M525.6 185.2h0M526.2 185.2h0M528.4 185.3h0M530.3 185.0h0M533.8 185.8h0M534.5 185.7h0M534.4 185.7h0M535.3 185.4h0M535.8 185.7h0M538.9 185.2h0M541.4 185.4h0M541.5 185.8h0M542.8 186.0h0M542.0 185.2h0M544.2 185.7h0M548.5 185.9h0M549.5 185.3h0M549.5 185.3h0M552.6 185.2h0M555.0 185.5h0M556.9 185.6h0M557.7 185.3h0M557.3 185.0h0M558.1 185.7h0M558.4 185.2h0M559.3 185.7h0M560.8 185.3h0M560.7 185.6h0M566.5 185.4h0M568.9 185.4h0M570.8 185.7h0M572.3 185.7h0M572.7 185.0h0M574.0 185.6h0M575.2 185.0h0M582.7 185.7h0M586.1 185.3h0M588.1 185.7h0M588.4 185.2h0M588.6 185.5h0M589.2 185.0h0M590.7 185.2h0M590.3 185.8h0M592.1 185.3h0M592.5 185.4h0M592.3 185.3h0M592.2 185.3h0M594.3 185.9h0M599.3 185.2h0M599.8 185.6h0M600.1 185.1h0M600.9 185.8h0M600.2 185.4h0M602.4 185.8h0M603.9 185.5h0M604.8 185.9h0M606.5 186.0h0M608.8 185.0h0M88.6 186.0h0M95.2 187.0h0M95.6 186.3h0M95.6 186.7h0M98.9 186.6h0M99.3 186.7h0M100.9 186.9h0M101.1 186.2h0M101.2 186.1h0M110.1 186.8h0M115.5 186.5h0M125.2 186.6h0M130.3 186.3h0M130.6 186.8h0M133.9 186.9h0M134.1 186.9h0M139.4 186.3h0M149.3 186.8h0M152.5 186.2h0M161.5 186.0h0M296.6 186.2h0M303.9 186.8h0M311.9 186.9h0M315.6 186.7h0M318.1 186.7h0M318.8 186.3h0M323.1 186.2h0M328.9 186.6h0M328.7 186.5h0M330.1 186.3h0M337.9 186.1h0M338.3 186.5h0M338.6 186.6h0M338.3 187.0h0M339.1 186.9h0M340.5 186.6h0M341.0 186.9h0M341.5 186.7h0M345.4 186.8h0M347.9 186.2h0M348.8 186.1h0M349.6 186.6h0M357.4 186.4h0M357.3 186.2h0M363.8 186.7h0M365.9 186.5h0M365.5 186.4h0M365.2 186.2h0M367.5 186.0h0M368.6 186.7h0M368.4 186.7h0M368.6 186.4h0M368.8 186.1h0M370.4 186.2h0M374.3 186.6h0M379.2 186.0h0M380.9 186.9h0M388.0 186.8h0M388.2 186.6h0M391.4 186.1h0M392.4 186.1h0M394.1 186.3h0M396.6 186.7h0M401.6 186.6h0M404.3 186.9h0M406.6 186.7h0M409.0 186.4h0M520.8 186.7h0M522.3 186.5h0M522.5 186.5h0M525.6 186.7h0M525.1 186.6h0M529.3 186.8h0M530.8 186.9h0M531.5 186.6h0M532.1 186.2h0M532.8 186.7h0M533.4 186.5h0M533.6 186.3h0M534.3 186.1h0M534.8 186.6h0M535.5 186.4h0M536.0 186.6h0M536.9 186.5h0M540.8 186.2h0M540.1 186.1h0M542.9 186.8h0M544.0 186.7h0M543.3 186.5h0M544.8 186.1h0M546.0 186.1h0M545.8 186.5h0M545.8 187.0h0M548.2 186.3h0M549.9 186.2h0M550.0 186.8h0M551.6 186.2h0M554.5 186.1h0M557.3 186.1h0M557.8 186.9h0M558.6 186.5h0M559.9 186.8h0M566.3 186.2h0M566.6 186.6h0M566.9 186.8h0M569.5 186.4h0M571.0 186.2h0M579.6 186.9h0M580.3 186.5h0M580.7 186.4h0M580.0 186.9h0M581.3 186.8h0M581.5 186.4h0M588.0 187.0h0M588.2 186.0h0M593.7 186.3h0M595.5 186.2h0M596.9 186.7h0M597.3 186.2h0M598.4 186.7h0M598.6 186.3h0M599.6 186.5h0M599.7 186.9h0M603.3 187.0h0M604.6 186.3h0M605.4 187.0h0M605.4 186.7h0M610.2 186.9h0M612.9 186.8h0M614.1 186.9h0M85.4 187.4h0M91.3 187.4h0M106.7 187.1h0M108.4 187.2h0M131.5 187.9h0M133.7 187.6h0M136.6 187.3h0M137.2 187.2h0M138.6 187.8h0M138.5 187.2h0M297.6 187.5h0M301.7 187.3h0M301.1 187.3h0M303.8 187.9h0M305.3 187.6h0M305.8 187.3h0M307.9 187.9h0M310.1 187.3h0M313.2 187.7h0M318.8 187.5h0M320.0 187.8h0M322.3 187.3h0M324.1 187.7h0M328.1 187.6h0M337.2 188.0h0M343.4 187.4h0M344.8 187.3h0M344.8 187.9h0M346.3 187.1h0M347.5 187.4h0M352.0 187.3h0M353.1 187.3h0M353.5 187.4h0M353.9 187.7h0M357.2 187.8h0M358.7 187.7h0M362.6 187.3h0M362.5 187.7h0M377.7 187.5h0M386.6 187.3h0M393.8 187.9h0M524.0 187.7h0M529.4 187.8h0M531.4 187.8h0M532.6 187.1h0M533.5 188.0h0M534.6 187.9h0M537.2 188.0h0M540.0 187.7h0M541.6 187.9h0M543.4 187.5h0M546.9 187.7h0M553.7 187.1h0M556.4 188.0h0M558.8 187.6h0M559.5 187.9h0M568.7 187.6h0M569.8 188.0h0M570.8 187.3h0M574.7 187.9h0M591.6 187.6h0M593.0 187.6h0M605.9 187.0h0M614.4 187.6h0M315.8 188.2h0M315.3 188.4h0M334.5 188.1h0M340.9 188.9h0M536.5 188.5h0M544.8 188.5h0M551.3 188.6h0M558.6 188.8h0M563.4 188.5h0M580.1 188.6h0M582.4 188.4h0M587.8 188.0h0M137.2 372.5h0M137.4 374.5h0M139.5 374.1h0M100.9 375.9h0M101.9 375.6h0M103.4 375.3h0M114.7 375.4h0M119.1 375.7h0M120.4 375.2h0M130.5 375.4h0M139.6 375.7h0M141.6 375.0h0M105.7 376.5h0M107.0 376.0h0M108.9 376.1h0M112.2 376.8h0M115.0 376.1h0M125.9 376.5h0M125.9 376.6h0M129.7 376.3h0M139.5 376.1h0M141.0 376.3h0M101.0 377.1h0M102.5 377.9h0M112.5 377.3h0M117.9 377.0h0M121.7 377.7h0M127.6 377.1h0M137.2 377.9h0M95.7 378.6h0M97.2 378.1h0M118.8 378.1h0M131.3 378.8h0M137.7 378.2h0M139.1 378.0h0M141.7 378.7h0M101.6 379.1h0M102.3 379.3h0M110.0 379.7h0M111.3 379.3h0M114.1 379.1h0M116.8 380.0h0M134.3 379.7h0M142.5 379.1h0M106.6 380.7h0M119.5 380.2h0M120.4 380.3h0M124.4 380.8h0M127.4 380.1h0M132.0 380.3h0M133.5 380.8h0M133.0 380.4h0M136.8 380.8h0M136.9 380.6h0M143.0 380.3h0M105.7 381.8h0M121.9 381.7h0M127.0 381.3h0M138.9 381.9h0M144.4 381.7h0M95.9 382.9h0M115.6 382.2h0M117.2 382.2h0M122.7 382.8h0M134.7 382.2h0M135.0 382.3h0M135.7 383.0h0M144.9 382.4h0M95.3 383.9h0M97.1 383.8h0M97.2 383.2h0M98.0 383.2h0M102.3 383.9h0M103.4 383.2h0M107.8 383.2h0M112.8 383.4h0M113.8 383.0h0M114.3 383.6h0M123.3 383.4h0M130.3 383.9h0M134.0 383.0h0M140.7 383.6h0M113.4 384.3h0M114.4 384.3h0M115.2 384.4h0M120.9 384.1h0M123.7 384.3h0M126.8 384.8h0M127.9 384.1h0M127.9 384.5h0M137.7 384.8h0M145.8 384.4h0M146.7 384.0h0M95.0 385.6h0M101.5 385.8h0M113.7 385.1h0M130.9 385.9h0M136.6 385.7h0M139.2 385.9h0M141.6 385.9h0M142.2 385.5h0M96.4 386.2h0M96.4 386.1h0M97.1 386.2h0M98.7 386.0h0M100.0 386.7h0M109.3 386.1h0M110.1 386.7h0M115.7 386.5h0M120.1 386.6h0M123.8 386.2h0M127.3 386.1h0M128.8 386.2h0M139.7 386.7h0M140.9 386.1h0M141.4 386.9h0M97.8 387.2h0M97.2 387.3h0M98.1 387.8h0M99.2 387.7h0M100.6 387.7h0M113.1 387.2h0M128.9 387.2h0M131.1 387.0h0M133.4 387.5h0M143.4 387.1h0M146.1 387.7h0M95.4 388.6h0M103.0 388.7h0M106.2 388.9h0M107.1 388.5h0M107.8 388.8h0M110.1 388.5h0M112.9 388.8h0M113.2 388.6h0M122.4 388.8h0M122.9 388.6h0M129.0 388.9h0M133.0 388.4h0M137.4 388.5h0M141.2 388.7h0M141.7 388.1h0M145.0 388.5h0M148.1 388.1h0M97.5 389.7h0M98.0 389.3h0M102.3 389.3h0M106.0 389.9h0M107.5 390.0h0M108.6 389.5h0M109.9 389.8h0M116.2 389.8h0M117.7 389.2h0M120.1 389.0h0M122.2 389.3h0M122.5 390.0h0M125.9 390.0h0M130.0 389.9h0M131.4 389.6h0M134.8 389.1h0M138.0 389.7h0M140.4 389.2h0M141.8 390.0h0M148.4 389.7h0M149.3 389.4h0M97.5 391.0h0M99.0 390.9h0M101.3 390.6h0M107.3 390.2h0M108.0 390.2h0M108.4 390.9h0M111.6 390.2h0M112.1 390.4h0M113.5 390.6h0M116.7 390.6h0M117.1 390.9h0M118.9 391.0h0M121.6 390.3h0M122.7 390.5h0M132.0 390.4h0M133.1 390.4h0M134.6 390.9h0M135.1 390.1h0M140.0 390.9h0M142.5 390.9h0M144.2 390.6h0M100.8 391.5h0M103.5 391.4h0M108.8 391.6h0M111.8 391.6h0M112.8 391.1h0M112.1 392.0h0M113.5 391.9h0M114.7 391.6h0M115.6 391.1h0M116.8 391.2h0M118.8 391.9h0M118.2 391.4h0M119.8 391.6h0M124.3 391.9h0M124.1 391.4h0M136.4 391.2h0M140.9 391.9h0M141.2 391.8h0M146.3 391.4h0M149.1 391.8h0M150.6 391.7h0M151.8 391.4h0M97.7 392.7h0M98.8 392.7h0M103.0 392.0h0M114.2 392.4h0M118.5 392.2h0M119.4 392.9h0M130.5 392.3h0M135.4 392.8h0M136.6 392.4h0M137.0 392.2h0M143.8 392.2h0M144.6 392.7h0M149.9 392.9h0M95.7 393.8h0M101.6 393.7h0M102.4 393.8h0M102.3 393.1h0M105.0 393.9h0M107.6 393.5h0M113.8 393.3h0M114.3 393.9h0M115.4 393.2h0M118.9 393.2h0M122.4 393.2h0M123.9 393.0h0M124.4 393.3h0M125.5 393.8h0M127.7 393.4h0M133.7 393.9h0M134.6 393.5h0M141.8 393.8h0M142.5 393.9h0M147.2 393.9h0M150.4 393.6h0M96.2 394.2h0M97.3 394.8h0M100.8 394.5h0M100.1 394.6h0M108.8 394.4h0M109.0 394.3h0M112.0 394.1h0M112.1 394.9h0M113.0 394.5h0M112.9 394.5h0M113.1 394.9h0M116.5 394.7h0M118.0 394.6h0M129.1 394.1h0M149.7 394.6h0M150.1 394.9h0M106.2 395.7h0M113.3 395.6h0M119.9 395.1h0M121.6 395.8h0M122.0 395.4h0M126.8 395.6h0M127.7 395.8h0M129.0 395.7h0M131.9 395.2h0M137.7 395.6h0M138.3 395.1h0M138.7 395.5h0M139.3 395.1h0M141.9 395.3h0M145.9 395.5h0M153.6 395.4h0M106.0 396.0h0M106.2 396.2h0M108.0 396.9h0M116.8 396.7h0M118.2 396.5h0M120.7 397.0h0M123.8 397.0h0M123.1 396.7h0M125.9 396.5h0M126.3 396.0h0M131.3 396.9h0M138.7 396.4h0M146.1 396.3h0M148.5 396.1h0M98.0 397.6h0M99.8 397.2h0M101.5 397.4h0M101.1 397.7h0M103.0 397.8h0M108.6 397.9h0M108.7 397.7h0M109.0 398.0h0M111.2 397.4h0M119.3 397.6h0M120.8 397.5h0M121.5 397.6h0M127.2 397.1h0M128.4 397.4h0M130.0 397.7h0M131.6 397.2h0M131.0 397.9h0M136.6 397.6h0M151.0 397.2h0M153.3 397.4h0M107.2 398.0h0M107.1 398.6h0M107.4 398.4h0M111.7 398.4h0M115.3 398.9h0M117.9 398.2h0M119.0 398.9h0M120.2 398.5h0M124.1 398.7h0M132.0 398.4h0M133.6 398.7h0M135.3 398.6h0M136.2 398.6h0M142.0 398.2h0M141.1 398.4h0M145.7 398.6h0M146.8 398.5h0M148.3 398.5h0M149.6 399.0h0M150.2 398.1h0M102.7 399.1h0M109.2 399.4h0M115.4 399.2h0M116.4 399.5h0M116.7 399.2h0M119.1 399.7h0M119.3 399.9h0M124.6 399.2h0M126.5 399.3h0M128.2 399.5h0M131.5 399.2h0M132.6 399.1h0M134.7 399.2h0M134.3 399.2h0M137.0 399.5h0M137.3 399.8h0M140.5 399.1h0M140.5 399.1h0M151.4 399.0h0M151.4 399.4h0M153.9 399.5h0M153.3 399.6h0M101.5 400.6h0M106.4 400.3h0M116.1 400.5h0M118.0 400.5h0M119.1 400.8h0M120.8 400.5h0M121.1 400.4h0M127.9 400.8h0M131.1 400.6h0M131.9 400.8h0M137.7 400.2h0M138.7 400.4h0M141.6 400.5h0M144.1 400.6h0M150.8 400.2h0M153.7 400.9h0M102.3 401.3h0M106.4 401.7h0M107.6 401.8h0M118.7 401.8h0M121.0 401.8h0M122.8 401.3h0M127.5 401.2h0M138.9 401.7h0M140.8 401.2h0M141.6 401.6h0M141.9 401.0h0M143.0 401.1h0M143.4 401.2h0M144.6 401.7h0M155.6 402.0h0M101.8 402.4h0M103.7 402.3h0M103.1 402.9h0M108.5 402.6h0M108.7 402.8h0M112.3 402.8h0M113.1 403.0h0M114.6 402.1h0M116.6 402.7h0M117.6 402.0h0M123.2 402.0h0M124.1 402.6h0M125.5 402.6h0M126.7 402.3h0M126.1 402.3h0M130.7 402.0h0M131.5 402.8h0M132.1 402.6h0M135.4 402.4h0M137.7 402.5h0M139.6 402.3h0M140.6 402.8h0M140.7 402.8h0M141.8 402.3h0M144.3 402.2h0M151.3 402.8h0M102.6 403.1h0M107.7 403.6h0M115.4 403.9h0M116.7 403.1h0M118.1 403.8h0M122.6 403.2h0M123.5 403.4h0M124.1 403.2h0M125.7 403.7h0M128.1 403.2h0M130.6 403.7h0M134.0 403.5h0M137.5 403.3h0M141.7 403.3h0M143.6 404.0h0M143.7 403.4h0M145.1 403.4h0M152.4 403.9h0M155.4 403.2h0M155.2 403.2h0M100.8 404.3h0M103.1 404.5h0M103.7 404.1h0M103.5 404.4h0M105.8 404.9h0M106.1 404.4h0M107.9 404.0h0M113.8 404.2h0M115.4 404.1h0M117.2 404.1h0M118.0 404.4h0M120.9 404.9h0M131.9 404.3h0M136.1 404.5h0M140.9 404.8h0M143.2 404.8h0M143.9 404.3h0M148.0 404.6h0M151.2 404.3h0M153.8 404.5h0M154.0 404.7h0M98.3 405.5h0M99.6 405.9h0M101.3 405.8h0M107.4 405.3h0M108.5 405.8h0M109.4 405.5h0M110.2 405.0h0M114.1 406.0h0M114.5 405.4h0M115.9 405.9h0M119.2 405.8h0M120.5 405.5h0M122.0 405.2h0M127.9 405.8h0M128.2 405.1h0M129.2 406.0h0M142.5 405.5h0M142.9 405.8h0M143.5 405.9h0M146.8 405.7h0M153.6 405.9h0M157.9 405.2h0M158.9 405.4h0M160.7 405.3h0M315.6 406.0h0M318.7 405.8h0M321.4 405.8h0M322.4 405.6h0M326.0 405.6h0M327.0 405.7h0M328.1 405.2h0M328.9 405.1h0M332.7 405.7h0M345.7 405.2h0M354.3 406.0h0M366.3 405.3h0M371.0 405.2h0M371.1 405.3h0M374.3 405.7h0M376.0 405.6h0M386.7 405.7h0M395.4 405.3h0M395.6 405.3h0M92.1 406.3h0M94.3 406.6h0M100.6 406.5h0M100.4 406.7h0M103.0 406.1h0M106.6 406.9h0M111.0 406.1h0M111.6 406.2h0M112.4 406.2h0M117.4 406.1h0M121.4 406.5h0M121.6 406.3h0M127.5 406.4h0M127.6 406.5h0M136.0 406.0h0M137.6 406.3h0M138.3 406.6h0M138.9 406.6h0M140.6 406.8h0M140.5 406.6h0M142.6 406.7h0M143.7 406.9h0M148.6 406.1h0M150.6 406.9h0M153.1 406.8h0M155.9 406.3h0M157.2 406.3h0M158.2 406.9h0M177.7 406.7h0M178.5 406.6h0M183.3 406.1h0M317.3 406.5h0M323.5 406.7h0M323.2 406.2h0M330.4 407.0h0M336.5 406.2h0M337.9 406.1h0M338.8 406.4h0M342.7 406.6h0M343.7 406.4h0M344.2 406.3h0M345.0 406.6h0M346.3 407.0h0M348.4 407.0h0M353.2 406.3h0M354.2 406.6h0M356.2 406.2h0M357.7 406.7h0M359.3 406.7h0M363.1 406.5h0M372.0 406.8h0M372.6 406.2h0M373.0 406.1h0M373.8 406.2h0M378.2 406.8h0M379.4 406.1h0M379.3 406.4h0M383.2 407.0h0M383.2 406.1h0M383.1 406.8h0M383.4 406.6h0M385.0 406.4h0M393.9 406.9h0M395.8 406.0h0M396.9 406.2h0M397.8 406.5h0M398.9 406.3h0M102.0 407.9h0M101.8 407.4h0M111.6 407.4h0M116.6 407.0h0M118.7 407.4h0M118.4 407.8h0M123.4 407.7h0M125.5 407.3h0M126.9 407.9h0M130.4 407.4h0M130.5 407.7h0M130.7 407.0h0M130.1 407.2h0M131.1 407.3h0M131.8 407.1h0M132.1 407.3h0M135.4 407.5h0M135.7 408.0h0M136.4 407.5h0M136.6 407.6h0M137.0 407.5h0M138.9 407.6h0M139.6 407.2h0M141.9 407.5h0M147.5 407.7h0M147.3 407.9h0M149.0 407.8h0M153.1 407.7h0M162.7 407.1h0M163.7 407.4h0M165.8 407.0h0M174.1 407.9h0M179.0 407.5h0M181.3 407.0h0M321.7 408.0h0M321.5 407.1h0M321.2 407.9h0M323.8 407.1h0M323.9 408.0h0M336.8 407.7h0M336.2 407.5h0M343.3 407.4h0M346.3 407.5h0M348.5 407.2h0M349.2 408.0h0M350.1 407.6h0M350.4 407.8h0M350.1 407.4h0M351.3 407.1h0M355.2 407.8h0M361.1 407.8h0M364.1 407.2h0M364.8 407.4h0M367.0 407.4h0M367.8 407.8h0M367.4 407.1h0M368.8 407.8h0M369.3 407.7h0M369.5 407.7h0M376.4 407.2h0M384.5 407.8h0M386.5 407.4h0M387.0 407.3h0M395.7 407.8h0M395.4 407.1h0M395.9 407.3h0M91.7 408.5h0M92.7 408.4h0M95.9 408.2h0M99.4 408.8h0M100.6 408.0h0M102.5 408.2h0M110.2 408.7h0M110.7 408.4h0M110.5 408.7h0M115.0 408.5h0M115.9 408.6h0M115.8 408.9h0M116.0 408.1h0M124.2 408.8h0M131.5 408.4h0M132.4 408.3h0M133.4 408.6h0M133.0 408.6h0M133.6 408.5h0M134.2 408.9h0M136.1 409.0h0M136.6 408.2h0M137.9 408.2h0M142.4 408.7h0M144.9 408.9h0M148.3 408.1h0M152.8 408.7h0M161.6 408.5h0M163.5 408.1h0M168.4 408.7h0M173.0 408.4h0M174.9 408.2h0M180.2 408.6h0M317.2 408.7h0M317.5 408.9h0M319.5 408.5h0M321.0 408.2h0M325.1 408.2h0M325.5 408.8h0M326.9 408.7h0M327.2 408.9h0M331.7 408.9h0M331.5 408.1h0M331.2 408.8h0M335.7 408.0h0M340.4 408.1h0M342.0 408.8h0M347.4 408.9h0M349.7 408.2h0M352.7 408.9h0M355.7 408.8h0M367.3 408.9h0M368.7 408.1h0M369.4 408.1h0M375.0 408.6h0M378.1 408.6h0M379.1 408.9h0M383.8 408.4h0M387.3 408.1h0M393.1 408.7h0M398.0 408.5h0M95.2 409.3h0M99.2 409.6h0M113.0 409.1h0M117.7 410.0h0M120.6 410.0h0M121.8 409.8h0M122.0 409.7h0M123.5 409.0h0M127.1 409.7h0M129.8 409.1h0M134.9 409.5h0M136.2 409.9h0M138.5 409.6h0M139.5 409.7h0M142.2 409.2h0M149.1 409.3h0M149.4 409.4h0M153.6 409.3h0M158.8 409.3h0M162.7 409.7h0M163.1 409.4h0M165.7 409.3h0M322.7 409.3h0M328.2 409.1h0M329.0 409.1h0M336.9 409.7h0M336.8 409.6h0M337.2 409.0h0M346.0 409.1h0M354.9 409.1h0M354.1 409.5h0M360.2 409.3h0M363.4 409.2h0M365.8 409.4h0M374.1 409.7h0M375.4 409.0h0M385.3 409.2h0M390.9 409.2h0M391.4 409.3h0M94.2 410.2h0M106.4 410.5h0M111.2 410.4h0M115.3 410.3h0M121.1 410.1h0M128.8 410.8h0M140.3 410.2h0M141.8 410.4h0M143.2 410.0h0M143.0 410.3h0M144.3 410.7h0M149.6 411.0h0M150.6 410.6h0M151.8 410.2h0M153.3 410.2h0M157.6 410.7h0" stroke="#808080" stroke-width="2.0" stroke-linecap="round" fill="none"/><path d="M67.7 16.5V190.5M29.5 155.7H220.4M105.9 16.5V190.5M29.5 120.9H220.4M144.0 16.5V190.5M29.5 86.1H220.4M182.2 16.5V190.5M29.5 51.3H220.4" stroke="#999999" stroke-opacity="0.38" stroke-width="1" fill="none"/><rect x="29.5" y="16.5" width="190.9" height="174.0" fill="none" stroke="#767676" stroke-width="1"/><path d="M29.5 190.5v2M29.5 190.5h-2M67.7 190.5v2M29.5 155.7h-2M105.9 190.5v2M29.5 120.9h-2M144.0 190.5v2M29.5 86.1h-2M182.2 190.5v2M29.5 51.3h-2M220.4 190.5v2M29.5 16.5h-2" stroke="#767676" stroke-width="0.8" fill="none"/><text x="30.1" y="200.4" font-size="8.7" text-anchor="middle" fill="#111" stroke="#111" stroke-width="0.12">0.0</text><text x="26.5" y="193.1" font-size="8.7" text-anchor="end" fill="#111" stroke="#111" stroke-width="0.12">0.0</text><text x="68.3" y="200.4" font-size="8.7" text-anchor="middle" fill="#111" stroke="#111" stroke-width="0.12">0.2</text><text x="26.5" y="158.3" font-size="8.7" text-anchor="end" fill="#111" stroke="#111" stroke-width="0.12">0.2</text><text x="106.5" y="200.4" font-size="8.7" text-anchor="middle" fill="#111" stroke="#111" stroke-width="0.12">0.4</text><text x="26.5" y="123.5" font-size="8.7" text-anchor="end" fill="#111" stroke="#111" stroke-width="0.12">0.4</text><text x="144.6" y="200.4" font-size="8.7" text-anchor="middle" fill="#111" stroke="#111" stroke-width="0.12">0.6</text><text x="26.5" y="88.7" font-size="8.7" text-anchor="end" fill="#111" stroke="#111" stroke-width="0.12">0.6</text><text x="182.8" y="200.4" font-size="8.7" text-anchor="middle" fill="#111" stroke="#111" stroke-width="0.12">0.8</text><text x="26.5" y="53.9" font-size="8.7" text-anchor="end" fill="#111" stroke="#111" stroke-width="0.12">0.8</text><text x="221.0" y="200.4" font-size="8.7" text-anchor="middle" fill="#111" stroke="#111" stroke-width="0.12">1.0</text><text x="26.5" y="19.1" font-size="8.7" text-anchor="end" fill="#111" stroke="#111" stroke-width="0.12">1.0</text><text x="125.0" y="209.7" font-size="8.4" text-anchor="middle" fill="#111" stroke="#111" stroke-width="0.1">Socio-economic well-being</text><text transform="translate(10.3,103.5) rotate(-90)" font-size="8.3" text-anchor="middle" fill="#111" stroke="#111" stroke-width="0.1">Ecosystem service value</text><text x="1.2" y="9.0" font-size="10.4" font-weight="bold" fill="#111">a</text><text x="11.5" y="9.0" font-size="10.3" fill="#111" stroke="#111" stroke-width="0.15">Abundantly sufficient zone</text><text x="215.9" y="28.2" font-size="8" text-anchor="end" fill="#2a4b9c" stroke="#2a4b9c" stroke-width="0.12">R<tspan font-size="3.8" dy="-3.2">2</tspan><tspan dy="3.2"> = 0.980</tspan></text><polyline points="107.20,23.46 107.51,23.46 107.82,23.46 108.14,23.46 108.45,23.46 108.76,23.46 109.07,23.46 109.39,23.46 109.70,23.46 110.01,23.46 110.33,23.46 110.64,23.46 110.95,23.46 111.27,23.46 111.58,23.46 111.89,23.46 112.21,23.46 112.52,23.46 112.83,23.46 113.14,23.46 113.46,23.46 113.77,23.46 114.08,23.46 114.40,23.46 114.71,23.46 115.02,23.46 115.34,23.46 115.65,23.46 115.96,23.46 116.28,23.46 116.59,23.46 116.90,23.46 117.21,23.46 117.53,23.46 117.84,23.46 118.15,23.46 118.47,23.46 118.78,23.46 119.09,23.46 119.41,23.46 119.72,23.46 120.03,23.46 120.35,23.46 120.66,23.46 120.97,23.46 121.28,23.46 121.60,23.46 121.91,23.46 122.22,23.46 122.54,23.46 122.85,23.46 123.16,23.46 123.48,23.46 123.79,23.46 124.10,23.46 124.42,23.46 124.73,23.46 125.04,23.46 125.35,23.46 125.67,23.46 125.98,23.46 126.29,23.46 126.61,23.46 126.92,23.46 127.23,23.46 127.55,23.46 127.86,23.46 128.17,23.46 128.49,23.46 128.80,23.46 129.11,23.46 129.42,23.46 129.74,23.46 130.05,23.46 130.36,23.46 130.68,23.46 130.99,23.46 131.30,23.46 131.62,23.46 131.93,23.46 132.24,23.46 132.56,23.46 132.87,23.46 133.18,23.46 133.49,23.46 133.81,23.46 134.12,23.46 134.43,23.46 134.75,23.46 135.06,23.46 135.37,23.46 135.69,23.46 136.00,23.46 136.31,23.46 136.63,23.46 136.94,23.46 137.25,23.46 137.56,23.46 137.88,23.47 138.19,23.47 138.50,23.47 138.82,23.47 139.13,23.47 139.44,23.47 139.76,23.47 140.07,23.47 140.38,23.47 140.70,23.48 141.01,23.48 141.32,23.48 141.63,23.48 141.95,23.48 142.26,23.49 142.57,23.49 142.89,23.49 143.20,23.50 143.51,23.50 143.83,23.51 144.14,23.52 144.45,23.52 144.77,23.53 145.08,23.54 145.39,23.55 145.70,23.56 146.02,23.58 146.33,23.59 146.64,23.61 146.96,23.63 147.27,23.65 147.58,23.67 147.90,23.70 148.21,23.73 148.52,23.76 148.84,23.80 149.15,23.84 149.46,23.89 149.77,23.94 150.09,24.01 150.40,24.07 150.71,24.15 151.03,24.24 151.34,24.34 151.65,24.45 151.97,24.58 152.28,24.72 152.59,24.88 152.91,25.05 153.22,25.25 153.53,25.48 153.84,25.73 154.16,26.02 154.47,26.34 154.78,26.70 155.10,27.10 155.41,27.55 155.72,28.06 156.04,28.63 156.35,29.26 156.66,29.97 156.98,30.76 157.29,31.65 157.60,32.63 157.91,33.73 158.23,34.94 158.54,36.29 158.85,37.79 159.17,39.43 159.48,41.25 159.79,43.25 160.11,45.43 160.42,47.82 160.73,50.42 161.05,53.24 161.36,56.29 161.67,59.56 161.98,63.07 162.30,66.80 162.61,70.75 162.92,74.92 163.24,79.28 163.55,83.81 163.86,88.50 164.18,93.32 164.49,98.23 164.80,103.20 165.12,108.20 165.43,113.19 165.74,118.14 166.05,123.01 166.37,127.76 166.68,132.38 166.99,136.83 167.31,141.10 167.62,145.16 167.93,149.01 168.25,152.63 168.56,156.03 168.87,159.19 169.19,162.12 169.50,164.83 169.81,167.33" fill="none" stroke="#e3262b" stroke-width="1.1"/><circle cx="108.3" cy="16.6" r="1.1" fill="#e3262b"/><circle cx="112.4" cy="16.6" r="1.1" fill="#e3262b"/><circle cx="125.9" cy="16.8" r="1.1" fill="#e3262b"/><circle cx="130" cy="20.7" r="1.1" fill="#e3262b"/><circle cx="133.1" cy="22.2" r="1.1" fill="#e3262b"/><circle cx="133.8" cy="22.5" r="1.1" fill="#e3262b"/><circle cx="135.7" cy="28.2" r="1.1" fill="#e3262b"/><circle cx="142.9" cy="30.7" r="1.1" fill="#e3262b"/><circle cx="144.5" cy="35.9" r="1.1" fill="#e3262b"/><circle cx="163.9" cy="74.4" r="1.1" fill="#e3262b"/><circle cx="170" cy="163.8" r="1.1" fill="#e3262b"/><path d="M296.9 16.5V190.5M258.7 155.7H449.6M335.1 16.5V190.5M258.7 120.9H449.6M373.2 16.5V190.5M258.7 86.1H449.6M411.4 16.5V190.5M258.7 51.3H449.6" stroke="#999999" stroke-opacity="0.38" stroke-width="1" fill="none"/><rect x="258.7" y="16.5" width="190.9" height="174.0" fill="none" stroke="#767676" stroke-width="1"/><path d="M258.7 190.5v2M258.7 190.5h-2M296.9 190.5v2M258.7 155.7h-2M335.1 190.5v2M258.7 120.9h-2M373.2 190.5v2M258.7 86.1h-2M411.4 190.5v2M258.7 51.3h-2M449.6 190.5v2M258.7 16.5h-2" stroke="#767676" stroke-width="0.8" fill="none"/><text x="259.3" y="200.4" font-size="8.7" text-anchor="middle" fill="#111" stroke="#111" stroke-width="0.12">0.0</text><text x="255.7" y="193.1" font-size="8.7" text-anchor="end" fill="#111" stroke="#111" stroke-width="0.12">0.0</text><text x="297.5" y="200.4" font-size="8.7" text-anchor="middle" fill="#111" stroke="#111" stroke-width="0.12">0.2</text><text x="255.7" y="158.3" font-size="8.7" text-anchor="end" fill="#111" stroke="#111" stroke-width="0.12">0.2</text><text x="335.7" y="200.4" font-size="8.7" text-anchor="middle" fill="#111" stroke="#111" stroke-width="0.12">0.4</text><text x="255.7" y="123.5" font-size="8.7" text-anchor="end" fill="#111" stroke="#111" stroke-width="0.12">0.4</text><text x="373.8" y="200.4" font-size="8.7" text-anchor="middle" fill="#111" stroke="#111" stroke-width="0.12">0.6</text><text x="255.7" y="88.7" font-size="8.7" text-anchor="end" fill="#111" stroke="#111" stroke-width="0.12">0.6</text><text x="412.0" y="200.4" font-size="8.7" text-anchor="middle" fill="#111" stroke="#111" stroke-width="0.12">0.8</text><text x="255.7" y="53.9" font-size="8.7" text-anchor="end" fill="#111" stroke="#111" stroke-width="0.12">0.8</text><text x="450.2" y="200.4" font-size="8.7" text-anchor="middle" fill="#111" stroke="#111" stroke-width="0.12">1.0</text><text x="255.7" y="19.1" font-size="8.7" text-anchor="end" fill="#111" stroke="#111" stroke-width="0.12">1.0</text><text x="354.1" y="209.7" font-size="8.4" text-anchor="middle" fill="#111" stroke="#111" stroke-width="0.1">Socio-economic well-being</text><text transform="translate(239.5,103.5) rotate(-90)" font-size="8.3" text-anchor="middle" fill="#111" stroke="#111" stroke-width="0.1">Ecosystem service value</text><text x="230.4" y="9.0" font-size="10.4" font-weight="bold" fill="#111">b</text><text x="240.7" y="9.0" font-size="10.3" fill="#111" stroke="#111" stroke-width="0.15">Moderately sufficient zone</text><text x="445.1" y="28.2" font-size="8" text-anchor="end" fill="#2a4b9c" stroke="#2a4b9c" stroke-width="0.12">R<tspan font-size="3.8" dy="-3.2">2</tspan><tspan dy="3.2"> = 0.979</tspan></text><polyline points="273.70,18.24 274.58,18.24 275.46,18.24 276.34,18.24 277.22,18.24 278.10,18.24 278.98,18.24 279.86,18.24 280.74,18.24 281.62,18.24 282.50,18.24 283.38,18.24 284.26,18.24 285.14,18.24 286.02,18.24 286.90,18.24 287.78,18.24 288.66,18.24 289.54,18.24 290.41,18.24 291.29,18.24 292.17,18.24 293.05,18.24 293.93,18.24 294.81,18.24 295.69,18.24 296.57,18.24 297.45,18.24 298.33,18.24 299.21,18.24 300.09,18.24 300.97,18.24 301.85,18.24 302.73,18.24 303.61,18.24 304.49,18.24 305.37,18.24 306.25,18.24 307.12,18.24 308.00,18.24 308.88,18.24 309.76,18.24 310.64,18.24 311.52,18.24 312.40,18.24 313.28,18.24 314.16,18.24 315.04,18.24 315.92,18.24 316.80,18.25 317.68,18.25 318.56,18.25 319.44,18.25 320.32,18.25 321.20,18.25 322.08,18.25 322.96,18.25 323.83,18.25 324.71,18.25 325.59,18.25 326.47,18.26 327.35,18.26 328.23,18.26 329.11,18.26 329.99,18.26 330.87,18.27 331.75,18.27 332.63,18.27 333.51,18.27 334.39,18.28 335.27,18.28 336.15,18.28 337.03,18.29 337.91,18.29 338.79,18.30 339.67,18.31 340.54,18.31 341.42,18.32 342.30,18.33 343.18,18.34 344.06,18.35 344.94,18.36 345.82,18.37 346.70,18.38 347.58,18.40 348.46,18.41 349.34,18.43 350.22,18.45 351.10,18.47 351.98,18.49 352.86,18.52 353.74,18.55 354.62,18.58 355.50,18.61 356.38,18.65 357.25,18.69 358.13,18.74 359.01,18.79 359.89,18.84 360.77,18.90 361.65,18.97 362.53,19.04 363.41,19.12 364.29,19.21 365.17,19.31 366.05,19.42 366.93,19.54 367.81,19.67 368.69,19.81 369.57,19.97 370.45,20.14 371.33,20.33 372.21,20.54 373.09,20.77 373.97,21.02 374.84,21.30 375.72,21.61 376.60,21.94 377.48,22.31 378.36,22.71 379.24,23.15 380.12,23.63 381.00,24.15 381.88,24.73 382.76,25.36 383.64,26.05 384.52,26.80 385.40,27.62 386.28,28.51 387.16,29.49 388.04,30.54 388.92,31.69 389.80,32.94 390.68,34.29 391.55,35.75 392.43,37.33 393.31,39.03 394.19,40.86 395.07,42.82 395.95,44.92 396.83,47.17 397.71,49.57 398.59,52.12 399.47,54.82 400.35,57.68 401.23,60.69 402.11,63.85 402.99,67.15 403.87,70.60 404.75,74.18 405.63,77.89 406.51,81.70 407.39,85.62 408.26,89.61 409.14,93.67 410.02,97.79 410.90,101.93 411.78,106.08 412.66,110.23 413.54,114.35 414.42,118.42 415.30,122.43 416.18,126.36 417.06,130.19 417.94,133.92 418.82,137.52 419.70,140.99 420.58,144.32 421.46,147.51 422.34,150.55 423.22,153.43 424.10,156.16 424.97,158.74 425.85,161.16 426.73,163.43 427.61,165.56 428.49,167.55 429.37,169.40 430.25,171.12 431.13,172.72 432.01,174.20 432.89,175.57 433.77,176.84 434.65,178.00 435.53,179.07 436.41,180.06 437.29,180.97 438.17,181.80 439.05,182.56 439.93,183.26 440.81,183.90 441.68,184.49 442.56,185.02 443.44,185.51 444.32,185.96 445.20,186.37 446.08,186.74 446.96,187.08 447.84,187.39 448.72,187.67 449.60,187.92" fill="none" stroke="#e3262b" stroke-width="1.1"/><circle cx="273.7" cy="19.2" r="1.1" fill="#e3262b"/><circle cx="288.9" cy="19.2" r="1.1" fill="#e3262b"/><circle cx="290.2" cy="20.4" r="1.1" fill="#e3262b"/><circle cx="305.8" cy="20.8" r="1.1" fill="#e3262b"/><circle cx="313" cy="21" r="1.1" fill="#e3262b"/><circle cx="368.3" cy="20.1" r="1.1" fill="#e3262b"/><circle cx="374" cy="23.2" r="1.1" fill="#e3262b"/><circle cx="397.7" cy="26.8" r="1.1" fill="#e3262b"/><circle cx="410.6" cy="98.3" r="1.1" fill="#e3262b"/><circle cx="413.9" cy="128.4" r="1.1" fill="#e3262b"/><circle cx="414.4" cy="140" r="1.1" fill="#e3262b"/><circle cx="423.3" cy="148.9" r="1.1" fill="#e3262b"/><circle cx="425.7" cy="152.9" r="1.1" fill="#e3262b"/><circle cx="429.1" cy="161.8" r="1.1" fill="#e3262b"/><circle cx="436.6" cy="166.9" r="1.1" fill="#e3262b"/><circle cx="444" cy="179" r="1.1" fill="#e3262b"/><circle cx="449.1" cy="183.6" r="1.1" fill="#e3262b"/><path d="M525.9 16.5V190.5M487.8 155.7H678.5M564.1 16.5V190.5M487.8 120.9H678.5M602.2 16.5V190.5M487.8 86.1H678.5M640.4 16.5V190.5M487.8 51.3H678.5" stroke="#999999" stroke-opacity="0.38" stroke-width="1" fill="none"/><rect x="487.8" y="16.5" width="190.7" height="174.0" fill="none" stroke="#767676" stroke-width="1"/><path d="M487.8 190.5v2M487.8 190.5h-2M525.9 190.5v2M487.8 155.7h-2M564.1 190.5v2M487.8 120.9h-2M602.2 190.5v2M487.8 86.1h-2M640.4 190.5v2M487.8 51.3h-2M678.5 190.5v2M487.8 16.5h-2" stroke="#767676" stroke-width="0.8" fill="none"/><text x="488.4" y="200.4" font-size="8.7" text-anchor="middle" fill="#111" stroke="#111" stroke-width="0.12">0.0</text><text x="484.8" y="193.1" font-size="8.7" text-anchor="end" fill="#111" stroke="#111" stroke-width="0.12">0.0</text><text x="526.5" y="200.4" font-size="8.7" text-anchor="middle" fill="#111" stroke="#111" stroke-width="0.12">0.2</text><text x="484.8" y="158.3" font-size="8.7" text-anchor="end" fill="#111" stroke="#111" stroke-width="0.12">0.2</text><text x="564.7" y="200.4" font-size="8.7" text-anchor="middle" fill="#111" stroke="#111" stroke-width="0.12">0.4</text><text x="484.8" y="123.5" font-size="8.7" text-anchor="end" fill="#111" stroke="#111" stroke-width="0.12">0.4</text><text x="602.8" y="200.4" font-size="8.7" text-anchor="middle" fill="#111" stroke="#111" stroke-width="0.12">0.6</text><text x="484.8" y="88.7" font-size="8.7" text-anchor="end" fill="#111" stroke="#111" stroke-width="0.12">0.6</text><text x="641.0" y="200.4" font-size="8.7" text-anchor="middle" fill="#111" stroke="#111" stroke-width="0.12">0.8</text><text x="484.8" y="53.9" font-size="8.7" text-anchor="end" fill="#111" stroke="#111" stroke-width="0.12">0.8</text><text x="679.1" y="200.4" font-size="8.7" text-anchor="middle" fill="#111" stroke="#111" stroke-width="0.12">1.0</text><text x="484.8" y="19.1" font-size="8.7" text-anchor="end" fill="#111" stroke="#111" stroke-width="0.12">1.0</text><text x="583.1" y="209.7" font-size="8.4" text-anchor="middle" fill="#111" stroke="#111" stroke-width="0.1">Socio-economic well-being</text><text transform="translate(468.6,103.5) rotate(-90)" font-size="8.3" text-anchor="middle" fill="#111" stroke="#111" stroke-width="0.1">Ecosystem service value</text><text x="459.5" y="9.0" font-size="10.4" font-weight="bold" fill="#111">c</text><text x="469.8" y="9.0" font-size="10.3" fill="#111" stroke="#111" stroke-width="0.15">Slightly sufficient zone</text><text x="674.0" y="28.2" font-size="8" text-anchor="end" fill="#2a4b9c" stroke="#2a4b9c" stroke-width="0.12">R<tspan font-size="3.8" dy="-3.2">2</tspan><tspan dy="3.2"> = 0.985</tspan></text><polyline points="524.03,21.78 524.55,21.79 525.07,21.79 525.59,21.80 526.11,21.80 526.63,21.81 527.15,21.82 527.67,21.82 528.19,21.83 528.71,21.84 529.23,21.85 529.75,21.86 530.27,21.87 530.79,21.88 531.31,21.89 531.83,21.91 532.35,21.92 532.87,21.94 533.39,21.95 533.91,21.97 534.43,21.99 534.95,22.01 535.47,22.04 535.99,22.06 536.50,22.09 537.02,22.12 537.54,22.15 538.06,22.18 538.58,22.21 539.10,22.25 539.62,22.29 540.14,22.34 540.66,22.38 541.18,22.43 541.70,22.49 542.22,22.55 542.74,22.61 543.26,22.68 543.78,22.75 544.30,22.83 544.82,22.92 545.34,23.01 545.86,23.11 546.38,23.22 546.90,23.33 547.42,23.45 547.94,23.59 548.46,23.73 548.98,23.88 549.50,24.05 550.02,24.22 550.54,24.41 551.06,24.62 551.57,24.84 552.09,25.07 552.61,25.33 553.13,25.60 553.65,25.89 554.17,26.21 554.69,26.54 555.21,26.90 555.73,27.29 556.25,27.70 556.77,28.15 557.29,28.62 557.81,29.13 558.33,29.68 558.85,30.26 559.37,30.89 559.89,31.55 560.41,32.26 560.93,33.02 561.45,33.83 561.97,34.70 562.49,35.62 563.01,36.59 563.53,37.63 564.05,38.74 564.57,39.91 565.09,41.15 565.61,42.47 566.13,43.86 566.64,45.33 567.16,46.88 567.68,48.52 568.20,50.24 568.72,52.04 569.24,53.94 569.76,55.92 570.28,57.99 570.80,60.15 571.32,62.41 571.84,64.75 572.36,67.17 572.88,69.69 573.40,72.28 573.92,74.95 574.44,77.70 574.96,80.51 575.48,83.39 576.00,86.33 576.52,89.32 577.04,92.36 577.56,95.43 578.08,98.53 578.60,101.65 579.12,104.79 579.64,107.92 580.16,111.06 580.68,114.17 581.20,117.27 581.71,120.34 582.23,123.37 582.75,126.35 583.27,129.28 583.79,132.15 584.31,134.95 584.83,137.69 585.35,140.35 585.87,142.93 586.39,145.43 586.91,147.84 587.43,150.17 587.95,152.41 588.47,154.56 588.99,156.62 589.51,158.59 590.03,160.47 590.55,162.26 591.07,163.96 591.59,165.58 592.11,167.12 592.63,168.58 593.15,169.96 593.67,171.26 594.19,172.50 594.71,173.66 595.23,174.75 595.75,175.78 596.27,176.75 596.79,177.66 597.30,178.52 597.82,179.32 598.34,180.07 598.86,180.77 599.38,181.43 599.90,182.05 600.42,182.63 600.94,183.17 601.46,183.67 601.98,184.14 602.50,184.58 603.02,184.99 603.54,185.38 604.06,185.73 604.58,186.07 605.10,186.38 605.62,186.66 606.14,186.93 606.66,187.18 607.18,187.42 607.70,187.63 608.22,187.84 608.74,188.02 609.26,188.20 609.78,188.36 610.30,188.51 610.82,188.65 611.34,188.79 611.86,188.91 612.37,189.02 612.89,189.13 613.41,189.22 613.93,189.31 614.45,189.40 614.97,189.48 615.49,189.55 616.01,189.62 616.53,189.68 617.05,189.74 617.57,189.79 618.09,189.84 618.61,189.89 619.13,189.93 619.65,189.97 620.17,190.01 620.69,190.05 621.21,190.08 621.73,190.11 622.25,190.14 622.77,190.16 623.29,190.19 623.81,190.21 624.33,190.23 624.85,190.25 625.37,190.27 625.89,190.28 626.41,190.30 626.93,190.31 627.44,190.33 627.96,190.34" fill="none" stroke="#e3262b" stroke-width="1.1"/><circle cx="525.3" cy="22.3" r="1.1" fill="#e3262b"/><circle cx="527.1" cy="24.7" r="1.1" fill="#e3262b"/><circle cx="533.4" cy="25.1" r="1.1" fill="#e3262b"/><circle cx="567.4" cy="25.1" r="1.1" fill="#e3262b"/><circle cx="573.7" cy="70.8" r="1.1" fill="#e3262b"/><circle cx="582.8" cy="127.5" r="1.1" fill="#e3262b"/><circle cx="585.4" cy="139.8" r="1.1" fill="#e3262b"/><circle cx="587.9" cy="152.5" r="1.1" fill="#e3262b"/><circle cx="592.1" cy="155.4" r="1.1" fill="#e3262b"/><circle cx="599.8" cy="169.8" r="1.1" fill="#e3262b"/><circle cx="604.8" cy="170.4" r="1.1" fill="#e3262b"/><circle cx="608.2" cy="183.5" r="1.1" fill="#e3262b"/><circle cx="610.8" cy="186.7" r="1.1" fill="#e3262b"/><circle cx="627.3" cy="186.3" r="1.1" fill="#e3262b"/><path d="M67.6 238.5V413.1M29.4 378.2H220.5M105.8 238.5V413.1M29.4 343.3H220.5M144.1 238.5V413.1M29.4 308.3H220.5M182.3 238.5V413.1M29.4 273.4H220.5" stroke="#999999" stroke-opacity="0.38" stroke-width="1" fill="none"/><rect x="29.4" y="238.5" width="191.1" height="174.6" fill="none" stroke="#767676" stroke-width="1"/><path d="M29.4 413.1v2M29.4 413.1h-2M67.6 413.1v2M29.4 378.2h-2M105.8 413.1v2M29.4 343.3h-2M144.1 413.1v2M29.4 308.3h-2M182.3 413.1v2M29.4 273.4h-2M220.5 413.1v2M29.4 238.5h-2" stroke="#767676" stroke-width="0.8" fill="none"/><text x="30.0" y="423.0" font-size="8.7" text-anchor="middle" fill="#111" stroke="#111" stroke-width="0.12">0.0</text><text x="26.4" y="415.7" font-size="8.7" text-anchor="end" fill="#111" stroke="#111" stroke-width="0.12">0.0</text><text x="68.2" y="423.0" font-size="8.7" text-anchor="middle" fill="#111" stroke="#111" stroke-width="0.12">0.2</text><text x="26.4" y="380.8" font-size="8.7" text-anchor="end" fill="#111" stroke="#111" stroke-width="0.12">0.2</text><text x="106.4" y="423.0" font-size="8.7" text-anchor="middle" fill="#111" stroke="#111" stroke-width="0.12">0.4</text><text x="26.4" y="345.9" font-size="8.7" text-anchor="end" fill="#111" stroke="#111" stroke-width="0.12">0.4</text><text x="144.7" y="423.0" font-size="8.7" text-anchor="middle" fill="#111" stroke="#111" stroke-width="0.12">0.6</text><text x="26.4" y="310.9" font-size="8.7" text-anchor="end" fill="#111" stroke="#111" stroke-width="0.12">0.6</text><text x="182.9" y="423.0" font-size="8.7" text-anchor="middle" fill="#111" stroke="#111" stroke-width="0.12">0.8</text><text x="26.4" y="276.0" font-size="8.7" text-anchor="end" fill="#111" stroke="#111" stroke-width="0.12">0.8</text><text x="221.1" y="423.0" font-size="8.7" text-anchor="middle" fill="#111" stroke="#111" stroke-width="0.12">1.0</text><text x="26.4" y="241.1" font-size="8.7" text-anchor="end" fill="#111" stroke="#111" stroke-width="0.12">1.0</text><text x="125.0" y="432.3" font-size="8.4" text-anchor="middle" fill="#111" stroke="#111" stroke-width="0.1">Socio-economic well-being</text><text transform="translate(10.2,325.8) rotate(-90)" font-size="8.3" text-anchor="middle" fill="#111" stroke="#111" stroke-width="0.1">Ecosystem service value</text><text x="1.1" y="231.0" font-size="10.4" font-weight="bold" fill="#111">d</text><text x="11.4" y="231.0" font-size="10.3" fill="#111" stroke="#111" stroke-width="0.15">High demand zone</text><text x="216.0" y="250.2" font-size="8" text-anchor="end" fill="#2a4b9c" stroke="#2a4b9c" stroke-width="0.12">R<tspan font-size="3.8" dy="-3.2">2</tspan><tspan dy="3.2"> = 0.985</tspan></text><polyline points="60.93,249.01 61.61,249.01 62.30,249.01 62.98,249.02 63.66,249.02 64.35,249.02 65.03,249.02 65.71,249.03 66.40,249.03 67.08,249.04 67.76,249.04 68.45,249.05 69.13,249.05 69.81,249.06 70.50,249.06 71.18,249.07 71.86,249.07 72.55,249.08 73.23,249.09 73.91,249.10 74.60,249.11 75.28,249.12 75.96,249.13 76.64,249.14 77.33,249.15 78.01,249.16 78.69,249.17 79.38,249.19 80.06,249.20 80.74,249.22 81.43,249.24 82.11,249.26 82.79,249.28 83.48,249.30 84.16,249.32 84.84,249.35 85.53,249.38 86.21,249.41 86.89,249.44 87.58,249.47 88.26,249.51 88.94,249.54 89.63,249.59 90.31,249.63 90.99,249.68 91.67,249.73 92.36,249.78 93.04,249.84 93.72,249.90 94.41,249.97 95.09,250.04 95.77,250.12 96.46,250.20 97.14,250.29 97.82,250.38 98.51,250.49 99.19,250.59 99.87,250.71 100.56,250.84 101.24,250.97 101.92,251.11 102.61,251.27 103.29,251.43 103.97,251.60 104.66,251.79 105.34,251.99 106.02,252.21 106.70,252.44 107.39,252.69 108.07,252.95 108.75,253.23 109.44,253.53 110.12,253.85 110.80,254.19 111.49,254.56 112.17,254.95 112.85,255.37 113.54,255.82 114.22,256.29 114.90,256.80 115.59,257.34 116.27,257.91 116.95,258.52 117.64,259.17 118.32,259.87 119.00,260.60 119.69,261.38 120.37,262.21 121.05,263.09 121.73,264.02 122.42,265.01 123.10,266.05 123.78,267.16 124.47,268.32 125.15,269.55 125.83,270.85 126.52,272.22 127.20,273.65 127.88,275.16 128.57,276.74 129.25,278.40 129.93,280.13 130.62,281.94 131.30,283.83 131.98,285.79 132.67,287.84 133.35,289.96 134.03,292.15 134.72,294.42 135.40,296.76 136.08,299.17 136.76,301.65 137.45,304.19 138.13,306.79 138.81,309.45 139.50,312.15 140.18,314.90 140.86,317.69 141.55,320.50 142.23,323.35 142.91,326.21 143.60,329.09 144.28,331.96 144.96,334.84 145.65,337.71 146.33,340.56 147.01,343.39 147.70,346.19 148.38,348.95 149.06,351.67 149.75,354.34 150.43,356.96 151.11,359.52 151.79,362.02 152.48,364.46 153.16,366.83 153.84,369.12 154.53,371.35 155.21,373.49 155.89,375.56 156.58,377.56 157.26,379.47 157.94,381.31 158.63,383.07 159.31,384.75 159.99,386.36 160.68,387.89 161.36,389.36 162.04,390.75 162.73,392.07 163.41,393.32 164.09,394.51 164.78,395.63 165.46,396.70 166.14,397.71 166.82,398.66 167.51,399.56 168.19,400.40 168.87,401.20 169.56,401.95 170.24,402.66 170.92,403.33 171.61,403.95 172.29,404.54 172.97,405.09 173.66,405.61 174.34,406.09 175.02,406.55 175.71,406.98 176.39,407.38 177.07,407.75 177.76,408.10 178.44,408.43 179.12,408.74 179.81,409.03 180.49,409.30 181.17,409.55 181.85,409.79 182.54,410.01 183.22,410.21 183.90,410.41 184.59,410.59 185.27,410.75 185.95,410.91 186.64,411.06 187.32,411.19 188.00,411.32 188.69,411.44 189.37,411.55 190.05,411.66 190.74,411.75 191.42,411.84 192.10,411.93 192.79,412.01 193.47,412.08 194.15,412.15 194.84,412.21 195.52,412.27 196.20,412.33 196.88,412.38 197.57,412.43" fill="none" stroke="#e3262b" stroke-width="1.1"/><circle cx="61" cy="243.8" r="1.1" fill="#e3262b"/><circle cx="89" cy="246.3" r="1.1" fill="#e3262b"/><circle cx="106.6" cy="250.8" r="1.1" fill="#e3262b"/><circle cx="105.9" cy="251.1" r="1.1" fill="#e3262b"/><circle cx="108.5" cy="258.1" r="1.1" fill="#e3262b"/><circle cx="113.3" cy="261.3" r="1.1" fill="#e3262b"/><circle cx="140.8" cy="318" r="1.1" fill="#e3262b"/><circle cx="151.6" cy="335.3" r="1.1" fill="#e3262b"/><circle cx="154.6" cy="383.8" r="1.1" fill="#e3262b"/><circle cx="157.4" cy="385.5" r="1.1" fill="#e3262b"/><circle cx="164.9" cy="396" r="1.1" fill="#e3262b"/><circle cx="169.5" cy="402.6" r="1.1" fill="#e3262b"/><circle cx="192.5" cy="407" r="1.1" fill="#e3262b"/><circle cx="198.6" cy="408.7" r="1.1" fill="#e3262b"/><path d="M296.7 238.5V413.1M258.5 378.2H449.5M334.9 238.5V413.1M258.5 343.3H449.5M373.1 238.5V413.1M258.5 308.3H449.5M411.3 238.5V413.1M258.5 273.4H449.5" stroke="#999999" stroke-opacity="0.38" stroke-width="1" fill="none"/><rect x="258.5" y="238.5" width="191.0" height="174.6" fill="none" stroke="#767676" stroke-width="1"/><path d="M258.5 413.1v2M258.5 413.1h-2M296.7 413.1v2M258.5 378.2h-2M334.9 413.1v2M258.5 343.3h-2M373.1 413.1v2M258.5 308.3h-2M411.3 413.1v2M258.5 273.4h-2M449.5 413.1v2M258.5 238.5h-2" stroke="#767676" stroke-width="0.8" fill="none"/><text x="259.1" y="423.0" font-size="8.7" text-anchor="middle" fill="#111" stroke="#111" stroke-width="0.12">0.0</text><text x="255.5" y="415.7" font-size="8.7" text-anchor="end" fill="#111" stroke="#111" stroke-width="0.12">0.0</text><text x="297.3" y="423.0" font-size="8.7" text-anchor="middle" fill="#111" stroke="#111" stroke-width="0.12">0.2</text><text x="255.5" y="380.8" font-size="8.7" text-anchor="end" fill="#111" stroke="#111" stroke-width="0.12">0.2</text><text x="335.5" y="423.0" font-size="8.7" text-anchor="middle" fill="#111" stroke="#111" stroke-width="0.12">0.4</text><text x="255.5" y="345.9" font-size="8.7" text-anchor="end" fill="#111" stroke="#111" stroke-width="0.12">0.4</text><text x="373.7" y="423.0" font-size="8.7" text-anchor="middle" fill="#111" stroke="#111" stroke-width="0.12">0.6</text><text x="255.5" y="310.9" font-size="8.7" text-anchor="end" fill="#111" stroke="#111" stroke-width="0.12">0.6</text><text x="411.9" y="423.0" font-size="8.7" text-anchor="middle" fill="#111" stroke="#111" stroke-width="0.12">0.8</text><text x="255.5" y="276.0" font-size="8.7" text-anchor="end" fill="#111" stroke="#111" stroke-width="0.12">0.8</text><text x="450.1" y="423.0" font-size="8.7" text-anchor="middle" fill="#111" stroke="#111" stroke-width="0.12">1.0</text><text x="255.5" y="241.1" font-size="8.7" text-anchor="end" fill="#111" stroke="#111" stroke-width="0.12">1.0</text><text x="354.0" y="432.3" font-size="8.4" text-anchor="middle" fill="#111" stroke="#111" stroke-width="0.1">Socio-economic well-being</text><text transform="translate(239.3,325.8) rotate(-90)" font-size="8.3" text-anchor="middle" fill="#111" stroke="#111" stroke-width="0.1">Ecosystem service value</text><text x="230.2" y="231.0" font-size="10.4" font-weight="bold" fill="#111">e</text><text x="240.5" y="231.0" font-size="10.3" fill="#111" stroke="#111" stroke-width="0.15">Deficit zone</text><text x="445.0" y="250.2" font-size="8" text-anchor="end" fill="#2a4b9c" stroke="#2a4b9c" stroke-width="0.12">R<tspan font-size="3.8" dy="-3.2">2</tspan><tspan dy="3.2"> = 0.987</tspan></text><polyline points="310.07,341.53 310.57,341.53 311.06,341.53 311.56,341.53 312.06,341.54 312.55,341.54 313.05,341.54 313.55,341.54 314.04,341.54 314.54,341.54 315.04,341.55 315.53,341.55 316.03,341.55 316.53,341.55 317.02,341.56 317.52,341.56 318.02,341.56 318.51,341.57 319.01,341.57 319.51,341.57 320.00,341.58 320.50,341.58 321.00,341.58 321.49,341.59 321.99,341.59 322.49,341.60 322.98,341.60 323.48,341.61 323.97,341.62 324.47,341.62 324.97,341.63 325.46,341.64 325.96,341.65 326.46,341.66 326.95,341.66 327.45,341.67 327.95,341.69 328.44,341.70 328.94,341.71 329.44,341.72 329.93,341.73 330.43,341.75 330.93,341.76 331.42,341.78 331.92,341.80 332.42,341.82 332.91,341.84 333.41,341.86 333.91,341.88 334.40,341.90 334.90,341.93 335.40,341.96 335.89,341.99 336.39,342.02 336.89,342.05 337.38,342.08 337.88,342.12 338.38,342.16 338.87,342.20 339.37,342.25 339.87,342.30 340.36,342.35 340.86,342.40 341.36,342.46 341.85,342.52 342.35,342.58 342.85,342.65 343.34,342.73 343.84,342.81 344.34,342.89 344.83,342.98 345.33,343.07 345.83,343.17 346.32,343.28 346.82,343.39 347.31,343.51 347.81,343.64 348.31,343.77 348.80,343.92 349.30,344.07 349.80,344.23 350.29,344.40 350.79,344.58 351.29,344.78 351.78,344.98 352.28,345.20 352.78,345.43 353.27,345.67 353.77,345.92 354.27,346.20 354.76,346.48 355.26,346.78 355.76,347.10 356.25,347.44 356.75,347.80 357.25,348.17 357.74,348.57 358.24,348.98 358.74,349.42 359.23,349.88 359.73,350.36 360.23,350.86 360.72,351.39 361.22,351.95 361.72,352.53 362.21,353.14 362.71,353.77 363.21,354.43 363.70,355.12 364.20,355.83 364.70,356.58 365.19,357.35 365.69,358.15 366.19,358.97 366.68,359.83 367.18,360.71 367.68,361.62 368.17,362.55 368.67,363.51 369.17,364.49 369.66,365.49 370.16,366.52 370.66,367.57 371.15,368.63 371.65,369.71 372.14,370.81 372.64,371.91 373.14,373.03 373.63,374.16 374.13,375.29 374.63,376.43 375.12,377.57 375.62,378.71 376.12,379.84 376.61,380.98 377.11,382.10 377.61,383.21 378.10,384.32 378.60,385.40 379.10,386.48 379.59,387.53 380.09,388.57 380.59,389.59 381.08,390.58 381.58,391.55 382.08,392.50 382.57,393.42 383.07,394.32 383.57,395.18 384.06,396.03 384.56,396.84 385.06,397.63 385.55,398.38 386.05,399.11 386.55,399.82 387.04,400.49 387.54,401.14 388.04,401.76 388.53,402.36 389.03,402.92 389.53,403.47 390.02,403.99 390.52,404.48 391.02,404.95 391.51,405.40 392.01,405.83 392.51,406.23 393.00,406.62 393.50,406.98 394.00,407.33 394.49,407.66 394.99,407.97 395.49,408.27 395.98,408.55 396.48,408.81 396.98,409.06 397.47,409.30 397.97,409.52 398.46,409.73 398.96,409.93 399.46,410.12 399.95,410.29 400.45,410.46 400.95,410.62 401.44,410.76 401.94,410.90 402.44,411.04 402.93,411.16 403.43,411.28 403.93,411.39 404.42,411.49 404.92,411.59 405.42,411.68 405.91,411.76 406.41,411.85 406.91,411.92 407.40,411.99 407.90,412.06 408.40,412.12 408.89,412.18 409.39,412.24" fill="none" stroke="#e3262b" stroke-width="1.1"/><circle cx="309.8" cy="339.7" r="1.1" fill="#e3262b"/><circle cx="330.7" cy="344" r="1.1" fill="#e3262b"/><circle cx="366.2" cy="356" r="1.1" fill="#e3262b"/><circle cx="382.2" cy="399.7" r="1.1" fill="#e3262b"/><circle cx="387" cy="401.3" r="1.1" fill="#e3262b"/><circle cx="392" cy="402.3" r="1.1" fill="#e3262b"/><circle cx="393.5" cy="406.3" r="1.1" fill="#e3262b"/><circle cx="399" cy="408" r="1.1" fill="#e3262b"/><circle cx="407.7" cy="408.9" r="1.1" fill="#e3262b"/><circle cx="409" cy="408.9" r="1.1" fill="#e3262b"/><path d="M501 245.5H519" stroke="#e3262b" stroke-width="1"/><text x="524.3" y="248.5" font-size="8.1" fill="#111" stroke="#111" stroke-width="0.1">Production possibility frontier</text><rect x="508.5" y="262.3" width="1.4" height="1.4" fill="#999"/><text x="524.3" y="265.6" font-size="8.1" fill="#111" stroke="#111" stroke-width="0.1">Non-Pareto-optimal points</text><circle cx="509.3" cy="280.5" r="1" fill="#e3262b"/><text x="524.3" y="282.9" font-size="8.1" fill="#111" stroke="#111" stroke-width="0.1">Pareto-optimal points</text><text x="505.0" y="309.2" font-size="8.4" fill="#111">(a)</text><text x="524.4" y="310.0" font-size="9.8" font-style="italic" fill="#111">y</text><text x="530.6" y="309.8" font-size="10" fill="#111">=</text><path d="M538.2 307.4H585.2" stroke="#333" stroke-width="0.6"/><text x="561.3" y="305.0" font-size="7" text-anchor="middle" fill="#111">0.96</text><text x="539.0" y="316.6" font-size="6.8" fill="#111">1 + <tspan font-style="italic" font-size="7.2">e</tspan></text><text x="553.1" y="311.5" font-size="4.8" textLength="32" lengthAdjust="spacingAndGlyphs" fill="#222">73.04(x − 0.71)</text><text x="505.0" y="336.6" font-size="8.4" fill="#111">(b)</text><text x="524.4" y="337.4" font-size="9.8" font-style="italic" fill="#111">y</text><text x="530.6" y="337.2" font-size="10" fill="#111">=</text><path d="M538.2 334.8H585.2" stroke="#333" stroke-width="0.6"/><text x="561.3" y="332.4" font-size="7" text-anchor="middle" fill="#111">0.99</text><text x="539.0" y="344.0" font-size="6.8" fill="#111">1 + <tspan font-style="italic" font-size="7.2">e</tspan></text><text x="553.1" y="338.9" font-size="4.8" textLength="32" lengthAdjust="spacingAndGlyphs" fill="#222">20.94(x − 0.80)</text><text x="505.0" y="364.0" font-size="8.4" fill="#111">(c)</text><text x="524.4" y="364.8" font-size="9.8" font-style="italic" fill="#111">y</text><text x="530.6" y="364.6" font-size="10" fill="#111">=</text><path d="M538.2 362.2H585.2" stroke="#333" stroke-width="0.6"/><text x="561.3" y="359.8" font-size="7" text-anchor="middle" fill="#111">0.97</text><text x="539.0" y="371.4" font-size="6.8" fill="#111">1 + <tspan font-style="italic" font-size="7.2">e</tspan></text><text x="553.1" y="366.3" font-size="4.8" textLength="32" lengthAdjust="spacingAndGlyphs" fill="#222">27.29(x − 0.48)</text><text x="505.0" y="391.4" font-size="8.4" fill="#111">(d)</text><text x="524.4" y="392.2" font-size="9.8" font-style="italic" fill="#111">y</text><text x="530.6" y="392.0" font-size="10" fill="#111">=</text><path d="M538.2 389.6H585.2" stroke="#333" stroke-width="0.6"/><text x="561.3" y="387.2" font-size="7" text-anchor="middle" fill="#111">0.94</text><text x="539.0" y="398.8" font-size="6.8" fill="#111">1 + <tspan font-style="italic" font-size="7.2">e</tspan></text><text x="553.1" y="393.7" font-size="4.8" textLength="32" lengthAdjust="spacingAndGlyphs" fill="#222">19.63(x − 0.60)</text><text x="505.0" y="418.8" font-size="8.4" fill="#111">(e)</text><text x="524.4" y="419.6" font-size="9.8" font-style="italic" fill="#111">y</text><text x="530.6" y="419.4" font-size="10" fill="#111">=</text><path d="M538.2 417.0H585.2" stroke="#333" stroke-width="0.6"/><text x="561.3" y="414.6" font-size="7" text-anchor="middle" fill="#111">0.41</text><text x="539.0" y="426.2" font-size="6.8" fill="#111">1 + <tspan font-style="italic" font-size="7.2">e</tspan></text><text x="553.1" y="421.1" font-size="4.8" textLength="32" lengthAdjust="spacingAndGlyphs" fill="#222">24.49(x − 0.61)</text></svg></body></html>
